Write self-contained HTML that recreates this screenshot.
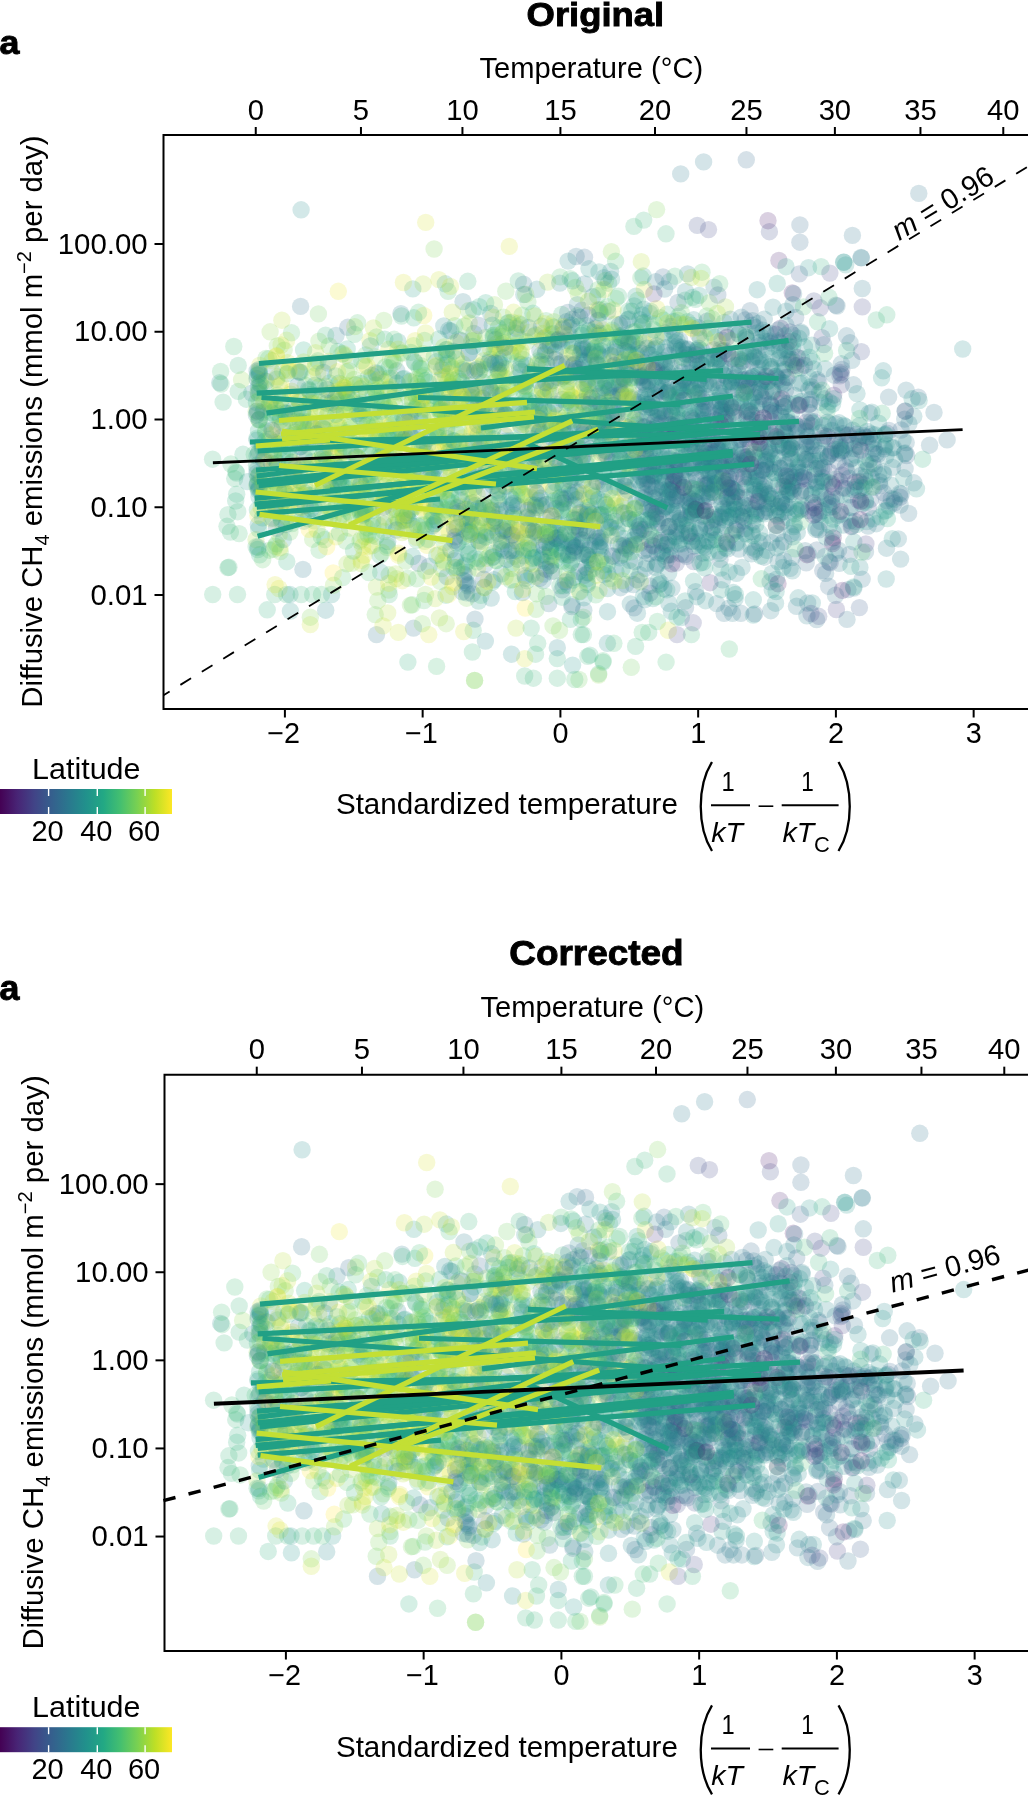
<!DOCTYPE html><html><head><meta charset="utf-8"><style>
html,body{margin:0;padding:0;background:#fff;width:1028px;height:1796px;overflow:hidden}
svg{display:block;will-change:transform} circle{r:8.7px} .k0{fill:#440154}.k1{fill:#450b5d}.k2{fill:#461567}.k3{fill:#471f70}.k4{fill:#472978}.k5{fill:#45327d}.k6{fill:#433b82}.k7{fill:#414487}.k8{fill:#3e4c89}.k9{fill:#3a538a}.k10{fill:#375b8c}.k11{fill:#33638d}.k12{fill:#306a8d}.k13{fill:#2d718e}.k14{fill:#2a788e}.k15{fill:#277f8d}.k16{fill:#25868d}.k17{fill:#228d8c}.k18{fill:#21948b}.k19{fill:#219b89}.k20{fill:#22a186}.k21{fill:#22a884}.k22{fill:#2caf7e}.k23{fill:#35b579}.k24{fill:#3fbc73}.k25{fill:#4cc26c}.k26{fill:#5bc763}.k27{fill:#6bcc5a}.k28{fill:#7ad151}.k29{fill:#8dd545}.k30{fill:#a0d938}.k31{fill:#b3dd2c}.k32{fill:#c6e026}.k33{fill:#d8e226}.k34{fill:#ebe525}.k35{fill:#fde725}
</style></head><body>
<svg width="1028" height="1796" viewBox="0 0 1028 1796" font-family="Liberation Sans, sans-serif">
<defs><linearGradient id="vir" x1="0" x2="1" y1="0" y2="0"><stop offset="0.0" stop-color="#440154"/><stop offset="0.1" stop-color="#482475"/><stop offset="0.2" stop-color="#414487"/><stop offset="0.3" stop-color="#355f8d"/><stop offset="0.4" stop-color="#2a788e"/><stop offset="0.5" stop-color="#21918c"/><stop offset="0.6" stop-color="#22a884"/><stop offset="0.7" stop-color="#44bf70"/><stop offset="0.8" stop-color="#7ad151"/><stop offset="0.9" stop-color="#bddf26"/><stop offset="1.0" stop-color="#fde725"/></linearGradient>
<clipPath id="pc"><rect x="163.5" y="135" width="866.5" height="574"/></clipPath>
<g id="sc" clip-path="url(#pc)" fill-opacity="0.2"><circle class="k32" cx="438.9" cy="279.6"/><circle class="k32" cx="550.4" cy="383.7"/><circle class="k23" cx="655.4" cy="516.8"/><circle class="k23" cx="312.6" cy="594.5"/><circle class="k16" cx="697.9" cy="373.8"/><circle class="k16" cx="775.3" cy="412.9"/><circle class="k18" cx="884.5" cy="511.2"/><circle class="k30" cx="399.3" cy="392.8"/><circle class="k22" cx="382.6" cy="494.7"/><circle class="k15" cx="718.5" cy="353.3"/><circle class="k19" cx="697.3" cy="441.5"/><circle class="k15" cx="281.4" cy="437.2"/><circle class="k13" cx="669.2" cy="355.4"/><circle class="k18" cx="604.0" cy="419.7"/><circle class="k27" cx="273.6" cy="549.3"/><circle class="k32" cx="411.3" cy="392.7"/><circle class="k18" cx="535.6" cy="334.9"/><circle class="k13" cx="688.1" cy="385.8"/><circle class="k21" cx="303.6" cy="350.0"/><circle class="k29" cx="505.1" cy="378.2"/><circle class="k29" cx="529.7" cy="442.4"/><circle class="k19" cx="484.3" cy="587.3"/><circle class="k15" cx="739.7" cy="497.7"/><circle class="k18" cx="579.4" cy="532.9"/><circle class="k16" cx="787.1" cy="422.2"/><circle class="k17" cx="742.3" cy="463.7"/><circle class="k23" cx="270.7" cy="479.7"/><circle class="k12" cx="800.9" cy="508.8"/><circle class="k21" cx="446.7" cy="499.8"/><circle class="k13" cx="647.9" cy="438.8"/><circle class="k19" cx="639.9" cy="319.6"/><circle class="k30" cx="338.5" cy="424.9"/><circle class="k28" cx="501.2" cy="367.4"/><circle class="k19" cx="378.2" cy="435.6"/><circle class="k13" cx="657.5" cy="506.9"/><circle class="k33" cx="376.2" cy="507.5"/><circle class="k13" cx="792.2" cy="485.8"/><circle class="k16" cx="798.3" cy="462.1"/><circle class="k14" cx="683.4" cy="395.4"/><circle class="k13" cx="805.2" cy="550.6"/><circle class="k15" cx="908.9" cy="423.7"/><circle class="k29" cx="565.4" cy="420.1"/><circle class="k15" cx="677.7" cy="461.6"/><circle class="k13" cx="725.0" cy="466.8"/><circle class="k22" cx="312.1" cy="461.6"/><circle class="k14" cx="595.5" cy="384.0"/><circle class="k15" cx="657.8" cy="468.7"/><circle class="k18" cx="685.7" cy="455.3"/><circle class="k34" cx="431.4" cy="516.3"/><circle class="k29" cx="513.8" cy="556.3"/><circle class="k23" cx="557.3" cy="678.2"/><circle class="k23" cx="555.1" cy="559.9"/><circle class="k13" cx="746.5" cy="339.7"/><circle class="k6" cx="805.4" cy="459.4"/><circle class="k26" cx="607.5" cy="564.1"/><circle class="k18" cx="753.3" cy="615.0"/><circle class="k16" cx="257.1" cy="456.1"/><circle class="k18" cx="505.8" cy="441.0"/><circle class="k16" cx="746.1" cy="534.0"/><circle class="k29" cx="578.2" cy="293.5"/><circle class="k15" cx="693.9" cy="390.7"/><circle class="k3" cx="778.9" cy="260.4"/><circle class="k11" cx="590.7" cy="360.7"/><circle class="k25" cx="706.8" cy="315.9"/><circle class="k22" cx="259.1" cy="373.2"/><circle class="k33" cx="500.6" cy="442.4"/><circle class="k12" cx="691.8" cy="541.4"/><circle class="k17" cx="661.0" cy="451.9"/><circle class="k14" cx="703.6" cy="161.9"/><circle class="k16" cx="755.7" cy="515.4"/><circle class="k13" cx="929.6" cy="445.2"/><circle class="k14" cx="663.2" cy="449.2"/><circle class="k24" cx="480.9" cy="595.4"/><circle class="k30" cx="398.5" cy="521.3"/><circle class="k33" cx="348.2" cy="396.6"/><circle class="k26" cx="521.8" cy="494.1"/><circle class="k16" cx="825.1" cy="368.8"/><circle class="k35" cx="458.0" cy="389.6"/><circle class="k23" cx="608.5" cy="283.2"/><circle class="k19" cx="572.1" cy="604.7"/><circle class="k27" cx="387.0" cy="547.4"/><circle class="k24" cx="458.7" cy="339.5"/><circle class="k17" cx="588.8" cy="572.8"/><circle class="k30" cx="527.6" cy="507.8"/><circle class="k8" cx="718.6" cy="359.3"/><circle class="k12" cx="600.2" cy="541.3"/><circle class="k14" cx="745.1" cy="528.6"/><circle class="k14" cx="432.9" cy="525.7"/><circle class="k11" cx="556.1" cy="458.8"/><circle class="k25" cx="496.1" cy="393.3"/><circle class="k13" cx="862.2" cy="579.1"/><circle class="k5" cx="706.2" cy="457.9"/><circle class="k30" cx="553.8" cy="321.7"/><circle class="k15" cx="640.0" cy="375.7"/><circle class="k18" cx="690.7" cy="506.8"/><circle class="k15" cx="829.0" cy="561.8"/><circle class="k24" cx="230.9" cy="464.0"/><circle class="k26" cx="527.9" cy="301.7"/><circle class="k33" cx="380.0" cy="433.0"/><circle class="k16" cx="884.4" cy="446.6"/><circle class="k8" cx="868.3" cy="507.7"/><circle class="k13" cx="934.0" cy="412.4"/><circle class="k16" cx="258.3" cy="488.6"/><circle class="k14" cx="630.1" cy="545.4"/><circle class="k11" cx="701.6" cy="470.8"/><circle class="k33" cx="414.4" cy="453.6"/><circle class="k22" cx="605.2" cy="381.3"/><circle class="k6" cx="830.2" cy="562.7"/><circle class="k15" cx="479.2" cy="541.5"/><circle class="k15" cx="647.8" cy="404.4"/><circle class="k22" cx="389.2" cy="462.3"/><circle class="k23" cx="328.8" cy="480.1"/><circle class="k15" cx="811.3" cy="425.7"/><circle class="k34" cx="500.2" cy="375.0"/><circle class="k15" cx="694.1" cy="546.1"/><circle class="k34" cx="449.8" cy="477.9"/><circle class="k14" cx="600.5" cy="537.8"/><circle class="k11" cx="355.7" cy="456.9"/><circle class="k23" cx="442.3" cy="376.9"/><circle class="k16" cx="852.0" cy="526.0"/><circle class="k25" cx="452.7" cy="502.9"/><circle class="k28" cx="266.1" cy="501.8"/><circle class="k19" cx="710.7" cy="481.0"/><circle class="k33" cx="523.7" cy="481.6"/><circle class="k18" cx="753.6" cy="376.7"/><circle class="k19" cx="814.3" cy="474.8"/><circle class="k29" cx="349.5" cy="427.4"/><circle class="k16" cx="675.0" cy="342.6"/><circle class="k17" cx="259.3" cy="474.6"/><circle class="k15" cx="669.7" cy="490.0"/><circle class="k17" cx="696.7" cy="360.7"/><circle class="k26" cx="495.4" cy="347.6"/><circle class="k15" cx="649.2" cy="452.8"/><circle class="k19" cx="506.6" cy="522.9"/><circle class="k24" cx="470.4" cy="503.6"/><circle class="k9" cx="784.7" cy="432.5"/><circle class="k15" cx="571.6" cy="495.5"/><circle class="k13" cx="598.8" cy="375.2"/><circle class="k12" cx="752.3" cy="429.7"/><circle class="k29" cx="505.6" cy="414.4"/><circle class="k29" cx="542.2" cy="434.6"/><circle class="k30" cx="565.2" cy="423.2"/><circle class="k14" cx="562.4" cy="399.4"/><circle class="k24" cx="682.0" cy="490.7"/><circle class="k19" cx="718.4" cy="462.7"/><circle class="k22" cx="446.0" cy="595.2"/><circle class="k16" cx="756.3" cy="436.5"/><circle class="k13" cx="823.7" cy="467.2"/><circle class="k25" cx="398.4" cy="492.7"/><circle class="k17" cx="787.3" cy="490.5"/><circle class="k16" cx="425.2" cy="453.1"/><circle class="k8" cx="693.7" cy="561.5"/><circle class="k17" cx="470.9" cy="534.1"/><circle class="k29" cx="265.4" cy="432.6"/><circle class="k21" cx="587.2" cy="456.2"/><circle class="k16" cx="466.9" cy="441.6"/><circle class="k20" cx="621.3" cy="459.2"/><circle class="k30" cx="611.4" cy="366.7"/><circle class="k18" cx="398.0" cy="341.6"/><circle class="k22" cx="821.1" cy="266.6"/><circle class="k19" cx="747.8" cy="388.1"/><circle class="k3" cx="855.4" cy="481.9"/><circle class="k19" cx="621.2" cy="378.1"/><circle class="k13" cx="413.5" cy="628.1"/><circle class="k23" cx="338.7" cy="451.5"/><circle class="k21" cx="490.4" cy="359.2"/><circle class="k11" cx="738.0" cy="372.3"/><circle class="k12" cx="738.1" cy="389.9"/><circle class="k32" cx="376.7" cy="374.2"/><circle class="k34" cx="533.6" cy="531.5"/><circle class="k17" cx="631.0" cy="354.5"/><circle class="k14" cx="728.9" cy="608.1"/><circle class="k24" cx="336.6" cy="504.4"/><circle class="k25" cx="329.4" cy="383.0"/><circle class="k12" cx="832.4" cy="541.6"/><circle class="k25" cx="395.5" cy="391.6"/><circle class="k31" cx="349.8" cy="438.6"/><circle class="k16" cx="815.8" cy="529.3"/><circle class="k16" cx="778.5" cy="399.2"/><circle class="k25" cx="519.5" cy="485.0"/><circle class="k17" cx="383.9" cy="523.9"/><circle class="k17" cx="679.3" cy="350.7"/><circle class="k17" cx="472.2" cy="389.0"/><circle class="k14" cx="839.2" cy="563.4"/><circle class="k24" cx="375.8" cy="494.5"/><circle class="k28" cx="469.4" cy="455.2"/><circle class="k13" cx="487.4" cy="532.3"/><circle class="k29" cx="348.6" cy="499.7"/><circle class="k33" cx="274.5" cy="464.0"/><circle class="k24" cx="360.5" cy="383.5"/><circle class="k26" cx="344.1" cy="464.8"/><circle class="k29" cx="551.6" cy="421.4"/><circle class="k21" cx="610.5" cy="387.2"/><circle class="k13" cx="788.0" cy="464.1"/><circle class="k19" cx="731.8" cy="381.5"/><circle class="k33" cx="391.1" cy="425.2"/><circle class="k23" cx="518.3" cy="280.9"/><circle class="k13" cx="816.0" cy="505.1"/><circle class="k19" cx="519.5" cy="410.3"/><circle class="k30" cx="325.5" cy="386.1"/><circle class="k15" cx="596.7" cy="364.7"/><circle class="k30" cx="472.3" cy="520.2"/><circle class="k15" cx="484.7" cy="564.7"/><circle class="k19" cx="665.4" cy="556.3"/><circle class="k13" cx="868.1" cy="526.1"/><circle class="k18" cx="628.2" cy="490.2"/><circle class="k14" cx="566.9" cy="363.6"/><circle class="k30" cx="429.2" cy="479.1"/><circle class="k18" cx="573.9" cy="353.1"/><circle class="k12" cx="718.0" cy="449.2"/><circle class="k27" cx="583.4" cy="617.2"/><circle class="k15" cx="892.5" cy="467.4"/><circle class="k33" cx="401.5" cy="472.4"/><circle class="k15" cx="690.7" cy="516.0"/><circle class="k13" cx="756.4" cy="442.7"/><circle class="k34" cx="482.8" cy="399.0"/><circle class="k19" cx="569.7" cy="564.4"/><circle class="k17" cx="702.9" cy="408.1"/><circle class="k21" cx="419.0" cy="394.2"/><circle class="k14" cx="612.3" cy="395.7"/><circle class="k28" cx="564.8" cy="421.9"/><circle class="k15" cx="615.2" cy="521.3"/><circle class="k19" cx="835.9" cy="479.0"/><circle class="k15" cx="850.3" cy="494.9"/><circle class="k24" cx="647.6" cy="415.7"/><circle class="k16" cx="656.3" cy="385.9"/><circle class="k23" cx="547.0" cy="504.4"/><circle class="k19" cx="672.3" cy="484.5"/><circle class="k24" cx="418.0" cy="383.6"/><circle class="k16" cx="644.8" cy="599.7"/><circle class="k26" cx="359.5" cy="489.6"/><circle class="k28" cx="419.7" cy="462.3"/><circle class="k2" cx="792.3" cy="292.9"/><circle class="k23" cx="596.4" cy="434.2"/><circle class="k15" cx="584.6" cy="283.9"/><circle class="k31" cx="396.8" cy="517.7"/><circle class="k29" cx="423.3" cy="491.1"/><circle class="k28" cx="420.5" cy="400.3"/><circle class="k28" cx="388.7" cy="590.1"/><circle class="k12" cx="720.0" cy="559.4"/><circle class="k25" cx="345.1" cy="505.8"/><circle class="k18" cx="715.9" cy="539.6"/><circle class="k30" cx="462.7" cy="363.9"/><circle class="k34" cx="552.0" cy="326.1"/><circle class="k12" cx="620.9" cy="394.2"/><circle class="k16" cx="544.9" cy="337.6"/><circle class="k6" cx="839.7" cy="481.1"/><circle class="k15" cx="429.1" cy="566.3"/><circle class="k13" cx="719.3" cy="442.1"/><circle class="k24" cx="625.6" cy="438.8"/><circle class="k26" cx="444.7" cy="411.7"/><circle class="k12" cx="820.4" cy="453.7"/><circle class="k23" cx="389.2" cy="594.5"/><circle class="k32" cx="309.8" cy="422.9"/><circle class="k33" cx="324.4" cy="464.0"/><circle class="k21" cx="412.5" cy="460.4"/><circle class="k27" cx="606.2" cy="504.8"/><circle class="k34" cx="484.8" cy="479.3"/><circle class="k13" cx="760.3" cy="422.6"/><circle class="k33" cx="333.2" cy="453.8"/><circle class="k31" cx="398.0" cy="488.3"/><circle class="k16" cx="577.3" cy="304.6"/><circle class="k29" cx="409.4" cy="422.1"/><circle class="k34" cx="416.3" cy="537.4"/><circle class="k23" cx="585.7" cy="554.8"/><circle class="k12" cx="645.5" cy="465.8"/><circle class="k6" cx="842.0" cy="475.0"/><circle class="k21" cx="290.4" cy="435.5"/><circle class="k14" cx="746.6" cy="418.4"/><circle class="k12" cx="705.4" cy="405.6"/><circle class="k25" cx="315.7" cy="363.1"/><circle class="k15" cx="541.5" cy="326.3"/><circle class="k23" cx="314.5" cy="520.9"/><circle class="k15" cx="616.3" cy="459.4"/><circle class="k26" cx="614.9" cy="324.2"/><circle class="k27" cx="627.5" cy="462.5"/><circle class="k21" cx="467.9" cy="572.1"/><circle class="k12" cx="701.4" cy="509.9"/><circle class="k7" cx="760.7" cy="391.3"/><circle class="k34" cx="462.5" cy="438.0"/><circle class="k15" cx="788.0" cy="377.4"/><circle class="k16" cx="695.9" cy="533.3"/><circle class="k20" cx="654.3" cy="475.3"/><circle class="k23" cx="618.5" cy="296.1"/><circle class="k23" cx="558.8" cy="551.2"/><circle class="k24" cx="445.9" cy="349.8"/><circle class="k23" cx="298.9" cy="400.7"/><circle class="k14" cx="850.0" cy="520.9"/><circle class="k24" cx="562.6" cy="509.8"/><circle class="k26" cx="424.4" cy="524.6"/><circle class="k35" cx="584.5" cy="390.2"/><circle class="k11" cx="662.6" cy="551.3"/><circle class="k15" cx="532.0" cy="504.8"/><circle class="k32" cx="264.8" cy="485.9"/><circle class="k23" cx="882.2" cy="413.3"/><circle class="k13" cx="807.6" cy="436.7"/><circle class="k30" cx="503.1" cy="332.4"/><circle class="k28" cx="525.4" cy="386.0"/><circle class="k18" cx="292.1" cy="462.4"/><circle class="k14" cx="512.9" cy="464.9"/><circle class="k17" cx="420.8" cy="421.7"/><circle class="k33" cx="419.4" cy="445.6"/><circle class="k14" cx="770.6" cy="404.9"/><circle class="k17" cx="751.7" cy="419.9"/><circle class="k21" cx="585.6" cy="444.8"/><circle class="k22" cx="604.7" cy="420.5"/><circle class="k15" cx="701.6" cy="452.7"/><circle class="k0" cx="781.9" cy="398.6"/><circle class="k18" cx="322.6" cy="458.8"/><circle class="k4" cx="748.8" cy="385.9"/><circle class="k28" cx="466.6" cy="598.2"/><circle class="k22" cx="267.2" cy="609.8"/><circle class="k29" cx="351.5" cy="395.9"/><circle class="k12" cx="516.5" cy="540.6"/><circle class="k16" cx="576.2" cy="477.2"/><circle class="k23" cx="512.3" cy="563.3"/><circle class="k8" cx="760.8" cy="448.9"/><circle class="k18" cx="712.8" cy="540.0"/><circle class="k30" cx="607.9" cy="337.0"/><circle class="k32" cx="410.6" cy="465.8"/><circle class="k16" cx="769.9" cy="495.7"/><circle class="k24" cx="776.2" cy="525.4"/><circle class="k23" cx="642.9" cy="381.5"/><circle class="k16" cx="808.3" cy="554.1"/><circle class="k24" cx="598.7" cy="515.6"/><circle class="k16" cx="839.0" cy="422.8"/><circle class="k25" cx="500.3" cy="393.6"/><circle class="k16" cx="735.8" cy="329.5"/><circle class="k34" cx="543.8" cy="474.7"/><circle class="k31" cx="376.9" cy="396.2"/><circle class="k15" cx="677.0" cy="346.1"/><circle class="k14" cx="678.2" cy="387.5"/><circle class="k15" cx="344.5" cy="390.5"/><circle class="k35" cx="589.5" cy="419.7"/><circle class="k15" cx="900.6" cy="559.1"/><circle class="k19" cx="681.9" cy="389.6"/><circle class="k23" cx="440.6" cy="409.0"/><circle class="k18" cx="878.8" cy="475.0"/><circle class="k33" cx="604.0" cy="289.5"/><circle class="k24" cx="434.0" cy="516.1"/><circle class="k23" cx="748.2" cy="508.8"/><circle class="k4" cx="770.6" cy="432.8"/><circle class="k13" cx="780.6" cy="412.5"/><circle class="k29" cx="524.0" cy="494.8"/><circle class="k35" cx="539.2" cy="463.7"/><circle class="k35" cx="643.7" cy="449.6"/><circle class="k30" cx="364.4" cy="366.1"/><circle class="k21" cx="633.2" cy="342.4"/><circle class="k21" cx="562.4" cy="561.2"/><circle class="k13" cx="766.4" cy="459.8"/><circle class="k18" cx="507.2" cy="531.4"/><circle class="k34" cx="398.4" cy="555.2"/><circle class="k16" cx="685.1" cy="358.4"/><circle class="k31" cx="600.3" cy="414.1"/><circle class="k31" cx="542.6" cy="526.7"/><circle class="k17" cx="770.1" cy="340.9"/><circle class="k20" cx="590.3" cy="506.6"/><circle class="k14" cx="738.1" cy="464.9"/><circle class="k6" cx="666.9" cy="544.5"/><circle class="k15" cx="737.3" cy="417.2"/><circle class="k15" cx="508.2" cy="474.4"/><circle class="k13" cx="520.6" cy="425.1"/><circle class="k30" cx="510.2" cy="454.6"/><circle class="k18" cx="756.5" cy="333.2"/><circle class="k32" cx="443.1" cy="450.7"/><circle class="k17" cx="357.2" cy="413.3"/><circle class="k15" cx="831.4" cy="450.9"/><circle class="k15" cx="745.7" cy="337.0"/><circle class="k18" cx="795.2" cy="513.7"/><circle class="k12" cx="587.3" cy="384.7"/><circle class="k13" cx="783.3" cy="402.6"/><circle class="k28" cx="575.5" cy="287.4"/><circle class="k18" cx="665.7" cy="394.5"/><circle class="k33" cx="415.2" cy="340.6"/><circle class="k17" cx="258.9" cy="369.8"/><circle class="k19" cx="652.9" cy="598.5"/><circle class="k15" cx="664.8" cy="374.2"/><circle class="k30" cx="389.9" cy="407.8"/><circle class="k14" cx="625.0" cy="501.2"/><circle class="k12" cx="828.6" cy="586.3"/><circle class="k18" cx="668.1" cy="393.6"/><circle class="k34" cx="446.7" cy="516.6"/><circle class="k15" cx="443.5" cy="365.6"/><circle class="k34" cx="625.2" cy="492.4"/><circle class="k19" cx="658.4" cy="580.7"/><circle class="k17" cx="744.8" cy="434.6"/><circle class="k29" cx="614.8" cy="505.7"/><circle class="k19" cx="817.4" cy="468.4"/><circle class="k23" cx="457.2" cy="543.4"/><circle class="k19" cx="653.9" cy="349.8"/><circle class="k16" cx="695.6" cy="451.5"/><circle class="k32" cx="550.2" cy="423.4"/><circle class="k16" cx="636.1" cy="501.8"/><circle class="k16" cx="706.9" cy="488.1"/><circle class="k19" cx="558.7" cy="537.4"/><circle class="k21" cx="270.5" cy="450.7"/><circle class="k19" cx="260.5" cy="384.3"/><circle class="k13" cx="665.6" cy="347.6"/><circle class="k17" cx="785.1" cy="480.4"/><circle class="k27" cx="539.4" cy="507.7"/><circle class="k4" cx="771.4" cy="421.1"/><circle class="k32" cx="541.4" cy="340.6"/><circle class="k11" cx="711.1" cy="453.6"/><circle class="k17" cx="647.3" cy="445.2"/><circle class="k12" cx="657.1" cy="563.6"/><circle class="k16" cx="762.3" cy="470.1"/><circle class="k22" cx="546.3" cy="421.4"/><circle class="k17" cx="581.8" cy="425.0"/><circle class="k18" cx="492.0" cy="523.3"/><circle class="k29" cx="603.6" cy="393.7"/><circle class="k26" cx="351.1" cy="411.9"/><circle class="k20" cx="739.5" cy="514.7"/><circle class="k29" cx="446.2" cy="623.7"/><circle class="k7" cx="767.9" cy="447.3"/><circle class="k23" cx="485.5" cy="422.3"/><circle class="k15" cx="434.8" cy="505.0"/><circle class="k32" cx="346.2" cy="385.2"/><circle class="k8" cx="656.2" cy="417.9"/><circle class="k31" cx="614.2" cy="356.3"/><circle class="k28" cx="625.2" cy="388.7"/><circle class="k30" cx="451.7" cy="405.4"/><circle class="k13" cx="662.8" cy="481.9"/><circle class="k20" cx="886.1" cy="444.6"/><circle class="k23" cx="499.2" cy="359.8"/><circle class="k16" cx="731.3" cy="495.5"/><circle class="k22" cx="734.1" cy="502.8"/><circle class="k11" cx="822.4" cy="477.5"/><circle class="k15" cx="282.3" cy="425.5"/><circle class="k25" cx="638.6" cy="337.2"/><circle class="k16" cx="446.7" cy="429.1"/><circle class="k17" cx="539.3" cy="545.1"/><circle class="k29" cx="447.2" cy="416.5"/><circle class="k19" cx="702.6" cy="466.7"/><circle class="k16" cx="473.9" cy="333.5"/><circle class="k15" cx="532.3" cy="518.0"/><circle class="k14" cx="548.2" cy="536.7"/><circle class="k8" cx="751.7" cy="361.1"/><circle class="k24" cx="824.6" cy="353.3"/><circle class="k31" cx="352.8" cy="492.4"/><circle class="k18" cx="643.3" cy="596.7"/><circle class="k16" cx="722.8" cy="514.2"/><circle class="k20" cx="510.3" cy="440.7"/><circle class="k18" cx="841.6" cy="514.2"/><circle class="k21" cx="628.9" cy="518.9"/><circle class="k16" cx="543.1" cy="580.7"/><circle class="k16" cx="864.4" cy="487.7"/><circle class="k24" cx="346.3" cy="488.6"/><circle class="k11" cx="661.1" cy="391.4"/><circle class="k32" cx="522.2" cy="473.0"/><circle class="k18" cx="513.3" cy="512.9"/><circle class="k17" cx="465.4" cy="582.0"/><circle class="k22" cx="667.2" cy="314.1"/><circle class="k16" cx="755.7" cy="392.5"/><circle class="k19" cx="718.1" cy="486.3"/><circle class="k24" cx="731.9" cy="534.6"/><circle class="k31" cx="535.8" cy="466.6"/><circle class="k14" cx="696.9" cy="502.6"/><circle class="k23" cx="533.4" cy="678.2"/><circle class="k8" cx="769.4" cy="231.7"/><circle class="k19" cx="800.9" cy="452.5"/><circle class="k27" cx="326.1" cy="444.3"/><circle class="k30" cx="438.0" cy="435.1"/><circle class="k30" cx="408.8" cy="472.3"/><circle class="k18" cx="572.5" cy="280.8"/><circle class="k13" cx="633.8" cy="435.2"/><circle class="k16" cx="502.8" cy="412.2"/><circle class="k14" cx="736.8" cy="496.7"/><circle class="k18" cx="445.3" cy="283.8"/><circle class="k15" cx="720.8" cy="517.6"/><circle class="k16" cx="627.5" cy="319.8"/><circle class="k16" cx="804.5" cy="347.0"/><circle class="k26" cx="359.4" cy="413.6"/><circle class="k19" cx="775.7" cy="438.9"/><circle class="k19" cx="801.3" cy="509.9"/><circle class="k11" cx="663.0" cy="277.0"/><circle class="k8" cx="829.0" cy="471.6"/><circle class="k24" cx="392.7" cy="360.0"/><circle class="k13" cx="865.5" cy="551.9"/><circle class="k12" cx="678.6" cy="481.5"/><circle class="k9" cx="842.7" cy="433.6"/><circle class="k16" cx="615.9" cy="571.6"/><circle class="k17" cx="778.7" cy="379.7"/><circle class="k12" cx="347.8" cy="327.3"/><circle class="k18" cx="767.5" cy="381.2"/><circle class="k18" cx="306.7" cy="440.0"/><circle class="k27" cx="467.7" cy="408.1"/><circle class="k19" cx="773.6" cy="463.5"/><circle class="k11" cx="714.5" cy="451.6"/><circle class="k12" cx="530.3" cy="372.8"/><circle class="k31" cx="486.9" cy="558.3"/><circle class="k14" cx="595.6" cy="328.0"/><circle class="k16" cx="843.1" cy="525.0"/><circle class="k12" cx="612.0" cy="555.7"/><circle class="k15" cx="876.3" cy="523.7"/><circle class="k28" cx="440.2" cy="581.3"/><circle class="k17" cx="467.5" cy="524.4"/><circle class="k31" cx="520.9" cy="479.9"/><circle class="k31" cx="516.8" cy="481.9"/><circle class="k24" cx="642.2" cy="632.4"/><circle class="k20" cx="667.3" cy="471.8"/><circle class="k15" cx="660.6" cy="583.5"/><circle class="k13" cx="846.5" cy="335.8"/><circle class="k24" cx="605.6" cy="529.7"/><circle class="k31" cx="469.4" cy="370.7"/><circle class="k32" cx="503.9" cy="485.6"/><circle class="k16" cx="555.2" cy="434.0"/><circle class="k15" cx="780.1" cy="468.1"/><circle class="k12" cx="759.9" cy="345.8"/><circle class="k17" cx="602.8" cy="556.9"/><circle class="k16" cx="788.2" cy="403.5"/><circle class="k21" cx="680.1" cy="520.1"/><circle class="k20" cx="656.8" cy="366.6"/><circle class="k12" cx="599.3" cy="310.0"/><circle class="k33" cx="468.5" cy="495.7"/><circle class="k12" cx="701.9" cy="398.4"/><circle class="k24" cx="511.5" cy="568.4"/><circle class="k18" cx="681.4" cy="372.3"/><circle class="k11" cx="889.0" cy="430.5"/><circle class="k16" cx="782.5" cy="385.2"/><circle class="k13" cx="778.7" cy="341.0"/><circle class="k33" cx="428.8" cy="634.6"/><circle class="k33" cx="406.5" cy="441.3"/><circle class="k22" cx="459.1" cy="484.8"/><circle class="k23" cx="528.5" cy="524.3"/><circle class="k21" cx="338.1" cy="351.5"/><circle class="k23" cx="671.3" cy="365.5"/><circle class="k16" cx="776.1" cy="432.2"/><circle class="k18" cx="739.3" cy="358.6"/><circle class="k23" cx="237.7" cy="511.7"/><circle class="k15" cx="746.6" cy="434.4"/><circle class="k19" cx="577.2" cy="447.8"/><circle class="k22" cx="557.7" cy="426.4"/><circle class="k11" cx="733.0" cy="388.6"/><circle class="k29" cx="538.4" cy="529.9"/><circle class="k23" cx="581.3" cy="634.6"/><circle class="k15" cx="258.1" cy="547.2"/><circle class="k19" cx="658.1" cy="418.0"/><circle class="k28" cx="407.7" cy="512.4"/><circle class="k18" cx="878.6" cy="423.2"/><circle class="k15" cx="851.9" cy="507.7"/><circle class="k19" cx="594.6" cy="519.2"/><circle class="k24" cx="419.1" cy="368.0"/><circle class="k11" cx="680.0" cy="497.7"/><circle class="k23" cx="498.5" cy="514.0"/><circle class="k14" cx="792.1" cy="557.5"/><circle class="k15" cx="692.7" cy="469.0"/><circle class="k28" cx="560.8" cy="447.3"/><circle class="k18" cx="558.5" cy="524.5"/><circle class="k18" cx="788.5" cy="507.3"/><circle class="k11" cx="784.2" cy="511.3"/><circle class="k17" cx="745.6" cy="497.8"/><circle class="k31" cx="516.0" cy="628.1"/><circle class="k14" cx="636.9" cy="424.5"/><circle class="k15" cx="751.4" cy="553.9"/><circle class="k14" cx="756.3" cy="478.5"/><circle class="k14" cx="597.6" cy="396.4"/><circle class="k23" cx="562.7" cy="487.6"/><circle class="k21" cx="561.8" cy="346.2"/><circle class="k33" cx="279.0" cy="588.5"/><circle class="k24" cx="295.0" cy="432.1"/><circle class="k18" cx="466.9" cy="516.8"/><circle class="k24" cx="733.0" cy="533.3"/><circle class="k24" cx="531.7" cy="412.5"/><circle class="k27" cx="465.0" cy="508.9"/><circle class="k15" cx="871.2" cy="477.4"/><circle class="k13" cx="524.9" cy="575.6"/><circle class="k15" cx="519.9" cy="405.2"/><circle class="k14" cx="906.1" cy="390.1"/><circle class="k22" cx="286.3" cy="413.5"/><circle class="k15" cx="784.8" cy="369.5"/><circle class="k30" cx="263.1" cy="500.6"/><circle class="k10" cx="768.4" cy="493.6"/><circle class="k16" cx="607.7" cy="573.5"/><circle class="k15" cx="661.1" cy="423.2"/><circle class="k16" cx="748.6" cy="423.9"/><circle class="k21" cx="619.4" cy="434.6"/><circle class="k19" cx="735.4" cy="594.5"/><circle class="k17" cx="840.6" cy="447.2"/><circle class="k13" cx="517.5" cy="530.5"/><circle class="k5" cx="683.9" cy="379.3"/><circle class="k29" cx="502.7" cy="336.5"/><circle class="k29" cx="473.0" cy="340.6"/><circle class="k16" cx="854.3" cy="448.5"/><circle class="k18" cx="501.4" cy="573.8"/><circle class="k27" cx="454.9" cy="415.2"/><circle class="k29" cx="677.7" cy="320.4"/><circle class="k15" cx="677.0" cy="511.3"/><circle class="k12" cx="678.0" cy="302.5"/><circle class="k33" cx="329.0" cy="361.1"/><circle class="k24" cx="282.8" cy="501.8"/><circle class="k13" cx="721.5" cy="465.7"/><circle class="k16" cx="867.3" cy="431.5"/><circle class="k23" cx="633.9" cy="226.4"/><circle class="k34" cx="489.1" cy="418.8"/><circle class="k14" cx="703.9" cy="461.9"/><circle class="k15" cx="651.5" cy="474.7"/><circle class="k27" cx="350.9" cy="428.6"/><circle class="k6" cx="675.3" cy="476.1"/><circle class="k5" cx="830.7" cy="453.4"/><circle class="k32" cx="476.9" cy="431.2"/><circle class="k21" cx="551.0" cy="534.8"/><circle class="k34" cx="466.8" cy="520.0"/><circle class="k19" cx="446.5" cy="354.6"/><circle class="k23" cx="498.7" cy="503.5"/><circle class="k12" cx="687.5" cy="501.2"/><circle class="k13" cx="704.3" cy="456.6"/><circle class="k15" cx="744.0" cy="478.3"/><circle class="k25" cx="351.5" cy="477.8"/><circle class="k14" cx="321.5" cy="423.3"/><circle class="k18" cx="566.2" cy="402.3"/><circle class="k16" cx="659.2" cy="390.2"/><circle class="k13" cx="680.0" cy="518.4"/><circle class="k18" cx="434.6" cy="523.7"/><circle class="k29" cx="571.6" cy="397.2"/><circle class="k18" cx="650.1" cy="509.5"/><circle class="k22" cx="300.4" cy="469.3"/><circle class="k23" cx="230.4" cy="532.1"/><circle class="k26" cx="379.1" cy="443.2"/><circle class="k13" cx="548.8" cy="603.5"/><circle class="k17" cx="467.1" cy="414.3"/><circle class="k11" cx="707.1" cy="321.1"/><circle class="k29" cx="438.4" cy="431.7"/><circle class="k23" cx="237.5" cy="594.5"/><circle class="k16" cx="853.9" cy="489.8"/><circle class="k18" cx="719.6" cy="553.3"/><circle class="k12" cx="771.3" cy="542.4"/><circle class="k22" cx="669.6" cy="413.2"/><circle class="k14" cx="575.0" cy="371.7"/><circle class="k30" cx="493.8" cy="444.3"/><circle class="k17" cx="775.5" cy="603.2"/><circle class="k14" cx="634.4" cy="544.7"/><circle class="k19" cx="721.1" cy="589.7"/><circle class="k24" cx="657.4" cy="621.5"/><circle class="k23" cx="886.8" cy="314.8"/><circle class="k11" cx="691.9" cy="445.0"/><circle class="k15" cx="638.5" cy="348.7"/><circle class="k16" cx="277.3" cy="413.2"/><circle class="k16" cx="587.9" cy="510.7"/><circle class="k18" cx="792.5" cy="347.3"/><circle class="k14" cx="748.8" cy="477.4"/><circle class="k25" cx="496.1" cy="560.5"/><circle class="k15" cx="581.4" cy="539.8"/><circle class="k13" cx="809.6" cy="404.1"/><circle class="k14" cx="827.9" cy="456.8"/><circle class="k13" cx="683.2" cy="487.5"/><circle class="k19" cx="610.5" cy="522.9"/><circle class="k13" cx="708.5" cy="483.3"/><circle class="k30" cx="469.5" cy="519.1"/><circle class="k24" cx="509.8" cy="390.8"/><circle class="k15" cx="812.8" cy="454.7"/><circle class="k13" cx="777.4" cy="516.0"/><circle class="k23" cx="648.7" cy="632.4"/><circle class="k17" cx="829.2" cy="423.6"/><circle class="k14" cx="825.6" cy="573.4"/><circle class="k30" cx="421.6" cy="530.1"/><circle class="k12" cx="730.4" cy="405.4"/><circle class="k14" cx="583.8" cy="610.2"/><circle class="k15" cx="583.3" cy="456.1"/><circle class="k17" cx="575.3" cy="530.1"/><circle class="k5" cx="827.6" cy="436.5"/><circle class="k11" cx="295.4" cy="468.6"/><circle class="k30" cx="547.6" cy="282.1"/><circle class="k14" cx="751.3" cy="504.6"/><circle class="k30" cx="506.9" cy="539.8"/><circle class="k16" cx="536.8" cy="289.3"/><circle class="k17" cx="594.4" cy="430.8"/><circle class="k15" cx="604.8" cy="428.0"/><circle class="k28" cx="309.6" cy="412.0"/><circle class="k31" cx="424.4" cy="510.9"/><circle class="k30" cx="563.1" cy="376.1"/><circle class="k24" cx="311.2" cy="439.4"/><circle class="k16" cx="833.2" cy="506.6"/><circle class="k17" cx="820.3" cy="402.2"/><circle class="k12" cx="583.5" cy="349.3"/><circle class="k17" cx="709.2" cy="472.8"/><circle class="k13" cx="666.7" cy="435.9"/><circle class="k15" cx="687.6" cy="273.9"/><circle class="k35" cx="425.1" cy="505.1"/><circle class="k14" cx="720.5" cy="450.2"/><circle class="k19" cx="791.0" cy="447.4"/><circle class="k19" cx="823.1" cy="481.8"/><circle class="k24" cx="795.2" cy="548.9"/><circle class="k34" cx="551.7" cy="557.0"/><circle class="k31" cx="423.1" cy="283.9"/><circle class="k30" cx="505.2" cy="576.8"/><circle class="k24" cx="603.1" cy="660.8"/><circle class="k16" cx="545.1" cy="354.2"/><circle class="k29" cx="422.7" cy="409.2"/><circle class="k12" cx="481.8" cy="449.0"/><circle class="k25" cx="482.7" cy="364.7"/><circle class="k33" cx="497.6" cy="395.0"/><circle class="k18" cx="788.3" cy="517.7"/><circle class="k15" cx="720.6" cy="409.7"/><circle class="k17" cx="472.8" cy="479.6"/><circle class="k16" cx="788.7" cy="448.9"/><circle class="k17" cx="781.5" cy="499.0"/><circle class="k27" cx="312.8" cy="376.7"/><circle class="k34" cx="427.1" cy="545.4"/><circle class="k23" cx="684.9" cy="300.2"/><circle class="k23" cx="479.0" cy="454.4"/><circle class="k33" cx="458.3" cy="506.1"/><circle class="k31" cx="496.8" cy="496.3"/><circle class="k14" cx="773.6" cy="411.5"/><circle class="k27" cx="400.9" cy="352.9"/><circle class="k14" cx="667.3" cy="392.0"/><circle class="k13" cx="672.4" cy="414.9"/><circle class="k17" cx="542.8" cy="388.7"/><circle class="k30" cx="372.4" cy="545.7"/><circle class="k6" cx="668.9" cy="526.8"/><circle class="k28" cx="256.8" cy="485.5"/><circle class="k25" cx="307.5" cy="457.2"/><circle class="k12" cx="770.0" cy="468.7"/><circle class="k15" cx="716.4" cy="427.8"/><circle class="k30" cx="624.5" cy="394.6"/><circle class="k19" cx="724.2" cy="322.4"/><circle class="k18" cx="371.9" cy="375.4"/><circle class="k33" cx="500.5" cy="350.7"/><circle class="k12" cx="845.6" cy="445.4"/><circle class="k9" cx="681.3" cy="533.4"/><circle class="k18" cx="873.1" cy="452.9"/><circle class="k27" cx="464.5" cy="325.9"/><circle class="k19" cx="581.5" cy="335.2"/><circle class="k19" cx="553.1" cy="544.0"/><circle class="k6" cx="721.0" cy="415.8"/><circle class="k21" cx="259.0" cy="371.5"/><circle class="k23" cx="412.2" cy="472.3"/><circle class="k18" cx="905.1" cy="411.0"/><circle class="k11" cx="779.2" cy="342.6"/><circle class="k1" cx="859.2" cy="481.7"/><circle class="k19" cx="461.7" cy="500.6"/><circle class="k16" cx="266.1" cy="381.3"/><circle class="k34" cx="448.3" cy="594.6"/><circle class="k25" cx="621.2" cy="337.5"/><circle class="k14" cx="335.6" cy="479.1"/><circle class="k22" cx="687.4" cy="321.7"/><circle class="k34" cx="328.6" cy="411.1"/><circle class="k4" cx="797.4" cy="357.5"/><circle class="k27" cx="415.1" cy="467.2"/><circle class="k18" cx="550.4" cy="345.3"/><circle class="k24" cx="600.4" cy="312.8"/><circle class="k16" cx="617.7" cy="533.9"/><circle class="k13" cx="879.9" cy="485.5"/><circle class="k31" cx="391.8" cy="378.3"/><circle class="k23" cx="563.0" cy="554.5"/><circle class="k33" cx="512.8" cy="351.3"/><circle class="k27" cx="502.0" cy="343.6"/><circle class="k30" cx="360.6" cy="513.2"/><circle class="k11" cx="709.2" cy="496.9"/><circle class="k34" cx="388.8" cy="583.2"/><circle class="k30" cx="491.6" cy="474.9"/><circle class="k18" cx="736.7" cy="402.7"/><circle class="k13" cx="304.5" cy="457.6"/><circle class="k24" cx="233.8" cy="346.5"/><circle class="k19" cx="633.8" cy="361.0"/><circle class="k27" cx="342.7" cy="514.1"/><circle class="k19" cx="669.8" cy="458.9"/><circle class="k27" cx="570.4" cy="406.1"/><circle class="k17" cx="678.2" cy="400.5"/><circle class="k34" cx="445.3" cy="487.6"/><circle class="k29" cx="525.7" cy="294.3"/><circle class="k26" cx="332.0" cy="479.9"/><circle class="k33" cx="343.7" cy="520.4"/><circle class="k13" cx="812.0" cy="441.4"/><circle class="k13" cx="578.8" cy="571.7"/><circle class="k30" cx="622.9" cy="395.5"/><circle class="k24" cx="342.4" cy="503.4"/><circle class="k15" cx="573.1" cy="422.8"/><circle class="k30" cx="550.7" cy="334.5"/><circle class="k33" cx="490.3" cy="348.2"/><circle class="k24" cx="221.0" cy="384.0"/><circle class="k14" cx="573.9" cy="518.7"/><circle class="k13" cx="619.4" cy="324.8"/><circle class="k25" cx="577.3" cy="315.6"/><circle class="k1" cx="833.2" cy="537.9"/><circle class="k12" cx="583.1" cy="539.9"/><circle class="k30" cx="428.2" cy="410.0"/><circle class="k12" cx="545.6" cy="473.6"/><circle class="k28" cx="428.1" cy="475.9"/><circle class="k14" cx="781.4" cy="522.1"/><circle class="k22" cx="571.3" cy="420.3"/><circle class="k22" cx="550.4" cy="550.0"/><circle class="k28" cx="468.5" cy="310.8"/><circle class="k19" cx="751.6" cy="402.1"/><circle class="k34" cx="533.5" cy="563.8"/><circle class="k15" cx="643.9" cy="322.5"/><circle class="k16" cx="663.0" cy="459.1"/><circle class="k17" cx="805.9" cy="431.1"/><circle class="k24" cx="365.5" cy="511.7"/><circle class="k14" cx="820.1" cy="521.4"/><circle class="k21" cx="553.6" cy="344.6"/><circle class="k13" cx="770.1" cy="581.8"/><circle class="k33" cx="524.7" cy="658.6"/><circle class="k21" cx="264.9" cy="441.3"/><circle class="k16" cx="786.2" cy="349.7"/><circle class="k18" cx="500.5" cy="412.6"/><circle class="k19" cx="659.0" cy="584.8"/><circle class="k19" cx="759.2" cy="434.8"/><circle class="k15" cx="771.5" cy="343.0"/><circle class="k34" cx="431.2" cy="577.1"/><circle class="k15" cx="782.7" cy="431.0"/><circle class="k17" cx="269.2" cy="404.9"/><circle class="k16" cx="637.5" cy="454.0"/><circle class="k24" cx="590.4" cy="413.0"/><circle class="k28" cx="318.9" cy="341.1"/><circle class="k21" cx="540.5" cy="534.3"/><circle class="k15" cx="519.6" cy="369.2"/><circle class="k19" cx="602.5" cy="344.7"/><circle class="k17" cx="818.2" cy="512.5"/><circle class="k13" cx="850.2" cy="507.2"/><circle class="k26" cx="269.6" cy="550.2"/><circle class="k15" cx="787.7" cy="349.5"/><circle class="k14" cx="800.9" cy="367.8"/><circle class="k14" cx="506.9" cy="559.3"/><circle class="k13" cx="691.7" cy="514.7"/><circle class="k16" cx="666.4" cy="489.4"/><circle class="k15" cx="791.6" cy="458.4"/><circle class="k16" cx="774.9" cy="456.6"/><circle class="k12" cx="746.4" cy="460.3"/><circle class="k28" cx="348.9" cy="370.7"/><circle class="k22" cx="258.7" cy="529.1"/><circle class="k11" cx="906.7" cy="455.5"/><circle class="k28" cx="422.3" cy="623.7"/><circle class="k15" cx="575.2" cy="410.9"/><circle class="k30" cx="501.4" cy="371.4"/><circle class="k24" cx="436.0" cy="506.4"/><circle class="k3" cx="746.9" cy="411.4"/><circle class="k28" cx="315.1" cy="493.5"/><circle class="k16" cx="671.2" cy="410.5"/><circle class="k33" cx="354.3" cy="384.7"/><circle class="k30" cx="377.7" cy="439.8"/><circle class="k17" cx="652.2" cy="415.7"/><circle class="k33" cx="595.2" cy="329.1"/><circle class="k18" cx="560.6" cy="470.9"/><circle class="k31" cx="546.8" cy="337.0"/><circle class="k26" cx="309.5" cy="390.7"/><circle class="k13" cx="874.3" cy="468.0"/><circle class="k16" cx="789.3" cy="441.4"/><circle class="k31" cx="487.1" cy="531.3"/><circle class="k31" cx="403.3" cy="440.0"/><circle class="k21" cx="532.0" cy="574.2"/><circle class="k34" cx="375.2" cy="503.6"/><circle class="k13" cx="638.3" cy="402.3"/><circle class="k22" cx="294.3" cy="475.9"/><circle class="k35" cx="558.2" cy="415.5"/><circle class="k2" cx="768.0" cy="220.7"/><circle class="k14" cx="505.7" cy="529.3"/><circle class="k17" cx="695.4" cy="486.0"/><circle class="k12" cx="501.4" cy="543.7"/><circle class="k30" cx="260.0" cy="381.8"/><circle class="k15" cx="473.2" cy="394.9"/><circle class="k19" cx="660.0" cy="474.1"/><circle class="k32" cx="533.7" cy="537.4"/><circle class="k12" cx="588.4" cy="512.4"/><circle class="k4" cx="656.5" cy="369.9"/><circle class="k13" cx="771.3" cy="406.1"/><circle class="k24" cx="348.5" cy="482.0"/><circle class="k33" cx="493.0" cy="317.1"/><circle class="k5" cx="773.0" cy="391.8"/><circle class="k17" cx="759.5" cy="532.8"/><circle class="k19" cx="754.5" cy="454.5"/><circle class="k11" cx="638.9" cy="365.0"/><circle class="k16" cx="583.6" cy="361.5"/><circle class="k19" cx="582.8" cy="360.4"/><circle class="k27" cx="361.1" cy="539.2"/><circle class="k21" cx="532.9" cy="313.3"/><circle class="k14" cx="657.8" cy="424.7"/><circle class="k31" cx="599.0" cy="590.3"/><circle class="k13" cx="588.0" cy="379.4"/><circle class="k15" cx="764.3" cy="319.1"/><circle class="k21" cx="613.6" cy="416.4"/><circle class="k24" cx="579.0" cy="326.2"/><circle class="k25" cx="372.7" cy="526.4"/><circle class="k30" cx="354.7" cy="326.6"/><circle class="k19" cx="623.9" cy="538.5"/><circle class="k14" cx="759.2" cy="342.8"/><circle class="k27" cx="556.2" cy="528.9"/><circle class="k30" cx="422.5" cy="399.5"/><circle class="k30" cx="414.7" cy="506.6"/><circle class="k34" cx="364.1" cy="524.9"/><circle class="k12" cx="756.4" cy="513.7"/><circle class="k23" cx="274.7" cy="414.8"/><circle class="k18" cx="540.8" cy="558.9"/><circle class="k27" cx="536.6" cy="593.7"/><circle class="k17" cx="894.7" cy="459.3"/><circle class="k16" cx="485.4" cy="641.1"/><circle class="k11" cx="682.5" cy="361.8"/><circle class="k31" cx="477.5" cy="568.2"/><circle class="k16" cx="805.4" cy="490.5"/><circle class="k8" cx="814.2" cy="421.8"/><circle class="k33" cx="644.3" cy="289.4"/><circle class="k16" cx="604.3" cy="489.5"/><circle class="k19" cx="701.8" cy="350.6"/><circle class="k11" cx="620.5" cy="391.9"/><circle class="k13" cx="581.5" cy="374.3"/><circle class="k14" cx="759.5" cy="460.0"/><circle class="k31" cx="441.8" cy="413.7"/><circle class="k22" cx="437.7" cy="465.7"/><circle class="k17" cx="771.3" cy="346.7"/><circle class="k19" cx="772.6" cy="390.1"/><circle class="k14" cx="628.8" cy="518.5"/><circle class="k15" cx="751.7" cy="378.0"/><circle class="k29" cx="315.3" cy="496.2"/><circle class="k16" cx="785.9" cy="311.2"/><circle class="k15" cx="696.8" cy="387.6"/><circle class="k26" cx="441.6" cy="568.6"/><circle class="k25" cx="282.9" cy="408.8"/><circle class="k17" cx="871.9" cy="412.1"/><circle class="k33" cx="370.0" cy="431.6"/><circle class="k17" cx="771.0" cy="454.0"/><circle class="k18" cx="732.2" cy="465.9"/><circle class="k13" cx="670.7" cy="554.7"/><circle class="k15" cx="553.7" cy="519.7"/><circle class="k18" cx="433.5" cy="470.4"/><circle class="k18" cx="725.5" cy="456.6"/><circle class="k27" cx="601.5" cy="453.3"/><circle class="k11" cx="724.2" cy="385.9"/><circle class="k13" cx="671.1" cy="546.6"/><circle class="k16" cx="707.0" cy="356.6"/><circle class="k18" cx="676.2" cy="432.0"/><circle class="k13" cx="641.8" cy="486.9"/><circle class="k12" cx="648.0" cy="367.7"/><circle class="k25" cx="719.7" cy="283.6"/><circle class="k15" cx="883.5" cy="474.2"/><circle class="k30" cx="308.4" cy="421.8"/><circle class="k15" cx="774.2" cy="472.7"/><circle class="k29" cx="567.8" cy="400.3"/><circle class="k13" cx="709.5" cy="449.0"/><circle class="k35" cx="319.6" cy="459.9"/><circle class="k32" cx="448.6" cy="445.7"/><circle class="k15" cx="645.6" cy="395.2"/><circle class="k32" cx="398.3" cy="632.4"/><circle class="k32" cx="589.7" cy="498.4"/><circle class="k25" cx="800.2" cy="522.0"/><circle class="k22" cx="352.0" cy="480.0"/><circle class="k17" cx="780.5" cy="545.1"/><circle class="k17" cx="543.9" cy="407.7"/><circle class="k17" cx="886.2" cy="579.0"/><circle class="k15" cx="272.9" cy="518.0"/><circle class="k17" cx="866.6" cy="521.6"/><circle class="k17" cx="475.1" cy="456.5"/><circle class="k18" cx="859.9" cy="409.9"/><circle class="k24" cx="605.7" cy="345.9"/><circle class="k17" cx="564.1" cy="431.4"/><circle class="k28" cx="312.7" cy="539.2"/><circle class="k15" cx="400.2" cy="460.9"/><circle class="k2" cx="696.3" cy="354.6"/><circle class="k6" cx="742.3" cy="361.0"/><circle class="k15" cx="837.4" cy="435.4"/><circle class="k17" cx="797.9" cy="426.7"/><circle class="k21" cx="331.8" cy="510.9"/><circle class="k15" cx="855.0" cy="521.4"/><circle class="k15" cx="680.8" cy="553.8"/><circle class="k20" cx="710.8" cy="332.3"/><circle class="k22" cx="339.0" cy="383.1"/><circle class="k18" cx="736.3" cy="513.9"/><circle class="k21" cx="291.1" cy="480.5"/><circle class="k12" cx="567.7" cy="312.5"/><circle class="k14" cx="752.8" cy="522.0"/><circle class="k18" cx="538.0" cy="477.1"/><circle class="k32" cx="498.2" cy="373.5"/><circle class="k25" cx="516.6" cy="496.0"/><circle class="k17" cx="525.1" cy="419.9"/><circle class="k17" cx="620.3" cy="340.2"/><circle class="k14" cx="561.2" cy="542.4"/><circle class="k7" cx="846.7" cy="470.9"/><circle class="k5" cx="722.4" cy="467.6"/><circle class="k32" cx="288.5" cy="369.8"/><circle class="k18" cx="652.0" cy="504.5"/><circle class="k16" cx="736.3" cy="509.3"/><circle class="k16" cx="469.5" cy="481.1"/><circle class="k13" cx="711.0" cy="421.6"/><circle class="k22" cx="522.7" cy="359.2"/><circle class="k19" cx="640.4" cy="543.1"/><circle class="k27" cx="526.5" cy="341.8"/><circle class="k18" cx="677.8" cy="407.4"/><circle class="k24" cx="556.8" cy="433.7"/><circle class="k12" cx="627.6" cy="374.8"/><circle class="k13" cx="493.1" cy="556.8"/><circle class="k15" cx="609.0" cy="387.6"/><circle class="k16" cx="784.5" cy="406.5"/><circle class="k33" cx="388.9" cy="349.2"/><circle class="k17" cx="776.4" cy="376.2"/><circle class="k23" cx="368.3" cy="377.6"/><circle class="k24" cx="637.5" cy="300.3"/><circle class="k31" cx="394.0" cy="397.1"/><circle class="k17" cx="757.8" cy="475.8"/><circle class="k16" cx="654.3" cy="498.8"/><circle class="k31" cx="512.5" cy="322.2"/><circle class="k25" cx="372.9" cy="510.0"/><circle class="k17" cx="691.6" cy="488.2"/><circle class="k22" cx="583.4" cy="527.9"/><circle class="k31" cx="344.1" cy="387.6"/><circle class="k7" cx="862.3" cy="306.9"/><circle class="k15" cx="608.8" cy="390.4"/><circle class="k29" cx="413.5" cy="345.7"/><circle class="k15" cx="691.5" cy="428.4"/><circle class="k22" cx="570.4" cy="619.4"/><circle class="k12" cx="666.9" cy="392.8"/><circle class="k22" cx="557.3" cy="658.6"/><circle class="k24" cx="354.4" cy="334.3"/><circle class="k27" cx="261.8" cy="490.6"/><circle class="k11" cx="649.7" cy="585.9"/><circle class="k16" cx="703.2" cy="493.2"/><circle class="k32" cx="612.8" cy="432.4"/><circle class="k28" cx="344.2" cy="410.9"/><circle class="k16" cx="801.5" cy="358.6"/><circle class="k17" cx="765.8" cy="332.6"/><circle class="k22" cx="371.0" cy="466.5"/><circle class="k16" cx="331.4" cy="402.6"/><circle class="k14" cx="718.5" cy="413.4"/><circle class="k15" cx="727.5" cy="548.9"/><circle class="k35" cx="277.8" cy="444.2"/><circle class="k13" cx="906.2" cy="442.6"/><circle class="k24" cx="437.2" cy="393.3"/><circle class="k15" cx="513.4" cy="514.9"/><circle class="k18" cx="461.4" cy="399.1"/><circle class="k23" cx="227.9" cy="567.6"/><circle class="k27" cx="379.9" cy="453.9"/><circle class="k11" cx="685.5" cy="607.8"/><circle class="k25" cx="702.0" cy="272.2"/><circle class="k16" cx="689.4" cy="364.6"/><circle class="k10" cx="801.4" cy="476.9"/><circle class="k18" cx="678.6" cy="420.0"/><circle class="k31" cx="435.2" cy="598.6"/><circle class="k21" cx="437.8" cy="436.9"/><circle class="k6" cx="726.1" cy="480.7"/><circle class="k23" cx="381.0" cy="400.4"/><circle class="k16" cx="387.7" cy="541.5"/><circle class="k19" cx="731.2" cy="381.4"/><circle class="k13" cx="795.8" cy="362.2"/><circle class="k29" cx="494.5" cy="304.7"/><circle class="k32" cx="390.6" cy="492.8"/><circle class="k19" cx="811.8" cy="345.1"/><circle class="k12" cx="724.6" cy="489.4"/><circle class="k16" cx="722.9" cy="505.8"/><circle class="k30" cx="417.7" cy="484.2"/><circle class="k32" cx="310.3" cy="624.6"/><circle class="k13" cx="755.0" cy="489.7"/><circle class="k23" cx="539.7" cy="431.2"/><circle class="k22" cx="256.9" cy="438.3"/><circle class="k16" cx="640.8" cy="445.3"/><circle class="k11" cx="642.4" cy="478.1"/><circle class="k12" cx="276.0" cy="506.7"/><circle class="k23" cx="668.6" cy="526.5"/><circle class="k12" cx="670.8" cy="326.4"/><circle class="k15" cx="396.8" cy="370.8"/><circle class="k22" cx="526.4" cy="389.6"/><circle class="k16" cx="484.3" cy="443.1"/><circle class="k18" cx="816.1" cy="527.7"/><circle class="k30" cx="409.9" cy="509.5"/><circle class="k19" cx="682.1" cy="524.3"/><circle class="k27" cx="595.6" cy="348.0"/><circle class="k17" cx="733.6" cy="460.2"/><circle class="k24" cx="574.6" cy="464.5"/><circle class="k31" cx="467.5" cy="445.0"/><circle class="k26" cx="388.3" cy="453.3"/><circle class="k34" cx="589.9" cy="394.3"/><circle class="k14" cx="861.4" cy="257.9"/><circle class="k15" cx="763.5" cy="398.9"/><circle class="k23" cx="456.4" cy="432.4"/><circle class="k15" cx="257.5" cy="483.4"/><circle class="k11" cx="464.1" cy="574.5"/><circle class="k14" cx="679.0" cy="423.0"/><circle class="k15" cx="539.6" cy="454.2"/><circle class="k17" cx="638.0" cy="404.2"/><circle class="k24" cx="337.4" cy="401.6"/><circle class="k32" cx="264.1" cy="380.7"/><circle class="k32" cx="580.0" cy="389.1"/><circle class="k11" cx="568.7" cy="555.2"/><circle class="k17" cx="702.8" cy="510.2"/><circle class="k27" cx="322.8" cy="505.5"/><circle class="k15" cx="777.8" cy="485.3"/><circle class="k23" cx="246.4" cy="399.2"/><circle class="k33" cx="570.2" cy="376.6"/><circle class="k15" cx="590.1" cy="559.8"/><circle class="k9" cx="696.7" cy="479.7"/><circle class="k8" cx="717.2" cy="380.0"/><circle class="k16" cx="564.2" cy="376.6"/><circle class="k23" cx="827.0" cy="411.2"/><circle class="k15" cx="876.1" cy="453.7"/><circle class="k25" cx="319.1" cy="550.2"/><circle class="k15" cx="721.6" cy="533.0"/><circle class="k18" cx="604.8" cy="436.0"/><circle class="k19" cx="575.2" cy="474.8"/><circle class="k15" cx="607.7" cy="311.4"/><circle class="k15" cx="533.5" cy="430.3"/><circle class="k16" cx="487.1" cy="433.3"/><circle class="k22" cx="648.2" cy="520.0"/><circle class="k34" cx="416.4" cy="500.0"/><circle class="k11" cx="604.4" cy="453.9"/><circle class="k11" cx="838.0" cy="461.4"/><circle class="k21" cx="357.8" cy="456.9"/><circle class="k11" cx="676.5" cy="470.8"/><circle class="k15" cx="572.6" cy="545.1"/><circle class="k16" cx="517.4" cy="505.6"/><circle class="k17" cx="731.1" cy="488.0"/><circle class="k14" cx="479.2" cy="479.3"/><circle class="k29" cx="351.7" cy="563.4"/><circle class="k24" cx="594.1" cy="332.3"/><circle class="k16" cx="676.5" cy="449.1"/><circle class="k26" cx="496.3" cy="560.3"/><circle class="k22" cx="262.4" cy="517.8"/><circle class="k12" cx="584.5" cy="257.3"/><circle class="k23" cx="439.5" cy="411.0"/><circle class="k23" cx="419.1" cy="448.9"/><circle class="k19" cx="697.6" cy="369.3"/><circle class="k15" cx="704.6" cy="485.6"/><circle class="k12" cx="730.2" cy="455.4"/><circle class="k27" cx="582.3" cy="485.1"/><circle class="k33" cx="501.7" cy="418.8"/><circle class="k3" cx="734.1" cy="411.9"/><circle class="k12" cx="859.1" cy="437.1"/><circle class="k15" cx="640.5" cy="377.2"/><circle class="k13" cx="307.1" cy="442.6"/><circle class="k27" cx="422.6" cy="417.8"/><circle class="k24" cx="556.7" cy="424.8"/><circle class="k21" cx="553.8" cy="500.8"/><circle class="k18" cx="634.2" cy="509.2"/><circle class="k15" cx="764.6" cy="470.5"/><circle class="k30" cx="725.5" cy="306.9"/><circle class="k14" cx="779.2" cy="445.1"/><circle class="k18" cx="740.4" cy="402.6"/><circle class="k34" cx="353.1" cy="507.7"/><circle class="k15" cx="725.3" cy="418.4"/><circle class="k19" cx="595.5" cy="416.7"/><circle class="k14" cx="600.8" cy="514.1"/><circle class="k14" cx="569.5" cy="491.3"/><circle class="k12" cx="636.7" cy="579.7"/><circle class="k13" cx="577.6" cy="446.2"/><circle class="k32" cx="442.0" cy="535.3"/><circle class="k18" cx="780.0" cy="439.5"/><circle class="k11" cx="725.1" cy="411.9"/><circle class="k17" cx="743.5" cy="363.2"/><circle class="k22" cx="236.7" cy="494.2"/><circle class="k25" cx="634.4" cy="445.2"/><circle class="k27" cx="567.4" cy="452.8"/><circle class="k18" cx="744.7" cy="533.2"/><circle class="k25" cx="393.0" cy="417.1"/><circle class="k14" cx="663.3" cy="508.9"/><circle class="k22" cx="491.7" cy="391.8"/><circle class="k17" cx="608.1" cy="507.0"/><circle class="k15" cx="806.9" cy="615.8"/><circle class="k16" cx="251.8" cy="393.1"/><circle class="k33" cx="357.5" cy="494.4"/><circle class="k16" cx="464.7" cy="565.6"/><circle class="k15" cx="455.2" cy="560.7"/><circle class="k14" cx="257.1" cy="469.6"/><circle class="k30" cx="533.2" cy="411.7"/><circle class="k31" cx="373.3" cy="408.5"/><circle class="k19" cx="811.1" cy="386.6"/><circle class="k35" cx="587.5" cy="424.6"/><circle class="k17" cx="773.0" cy="498.7"/><circle class="k22" cx="491.6" cy="424.4"/><circle class="k22" cx="783.6" cy="430.6"/><circle class="k14" cx="765.8" cy="341.3"/><circle class="k16" cx="730.2" cy="447.5"/><circle class="k13" cx="720.6" cy="496.5"/><circle class="k16" cx="257.1" cy="440.2"/><circle class="k13" cx="724.1" cy="613.3"/><circle class="k23" cx="608.1" cy="425.3"/><circle class="k25" cx="480.0" cy="508.4"/><circle class="k21" cx="607.3" cy="430.6"/><circle class="k15" cx="741.3" cy="507.3"/><circle class="k15" cx="675.4" cy="460.4"/><circle class="k5" cx="851.3" cy="526.6"/><circle class="k15" cx="771.4" cy="498.6"/><circle class="k19" cx="751.2" cy="547.1"/><circle class="k32" cx="567.2" cy="356.7"/><circle class="k33" cx="343.5" cy="353.7"/><circle class="k32" cx="581.1" cy="389.7"/><circle class="k8" cx="699.2" cy="398.8"/><circle class="k19" cx="580.3" cy="353.6"/><circle class="k14" cx="680.7" cy="173.9"/><circle class="k11" cx="831.5" cy="502.2"/><circle class="k29" cx="350.1" cy="426.0"/><circle class="k7" cx="708.5" cy="229.6"/><circle class="k6" cx="692.0" cy="418.6"/><circle class="k19" cx="381.5" cy="460.0"/><circle class="k16" cx="643.0" cy="443.8"/><circle class="k13" cx="646.6" cy="404.3"/><circle class="k16" cx="786.0" cy="325.3"/><circle class="k19" cx="829.6" cy="525.0"/><circle class="k11" cx="816.5" cy="482.2"/><circle class="k15" cx="478.2" cy="540.3"/><circle class="k16" cx="610.6" cy="271.5"/><circle class="k14" cx="834.3" cy="375.2"/><circle class="k21" cx="288.9" cy="454.3"/><circle class="k19" cx="733.9" cy="416.1"/><circle class="k25" cx="568.0" cy="554.7"/><circle class="k34" cx="545.7" cy="394.6"/><circle class="k16" cx="801.3" cy="333.5"/><circle class="k19" cx="646.5" cy="563.4"/><circle class="k5" cx="831.8" cy="483.9"/><circle class="k14" cx="698.4" cy="392.9"/><circle class="k22" cx="413.2" cy="526.3"/><circle class="k16" cx="325.7" cy="610.2"/><circle class="k24" cx="628.3" cy="311.3"/><circle class="k23" cx="549.8" cy="547.2"/><circle class="k16" cx="635.1" cy="483.3"/><circle class="k15" cx="408.3" cy="519.6"/><circle class="k16" cx="713.8" cy="459.9"/><circle class="k28" cx="559.3" cy="475.3"/><circle class="k15" cx="893.5" cy="447.7"/><circle class="k16" cx="599.0" cy="354.5"/><circle class="k29" cx="382.1" cy="552.5"/><circle class="k27" cx="681.3" cy="312.8"/><circle class="k29" cx="331.3" cy="392.9"/><circle class="k16" cx="793.1" cy="491.5"/><circle class="k31" cx="554.2" cy="460.5"/><circle class="k11" cx="676.1" cy="531.5"/><circle class="k24" cx="712.0" cy="318.6"/><circle class="k25" cx="453.6" cy="419.9"/><circle class="k27" cx="585.3" cy="474.8"/><circle class="k32" cx="364.1" cy="555.0"/><circle class="k31" cx="491.1" cy="480.8"/><circle class="k17" cx="678.8" cy="544.0"/><circle class="k34" cx="429.1" cy="463.5"/><circle class="k32" cx="452.6" cy="586.6"/><circle class="k17" cx="598.0" cy="538.1"/><circle class="k32" cx="456.8" cy="567.4"/><circle class="k23" cx="661.9" cy="437.3"/><circle class="k26" cx="598.0" cy="289.6"/><circle class="k15" cx="871.3" cy="433.9"/><circle class="k14" cx="869.3" cy="413.1"/><circle class="k14" cx="800.4" cy="404.3"/><circle class="k28" cx="342.8" cy="451.9"/><circle class="k15" cx="645.1" cy="494.0"/><circle class="k19" cx="550.4" cy="565.9"/><circle class="k27" cx="444.3" cy="542.7"/><circle class="k22" cx="570.5" cy="494.3"/><circle class="k18" cx="711.1" cy="429.4"/><circle class="k18" cx="663.2" cy="360.4"/><circle class="k19" cx="583.8" cy="362.2"/><circle class="k16" cx="861.9" cy="503.8"/><circle class="k18" cx="865.5" cy="501.0"/><circle class="k12" cx="472.3" cy="593.9"/><circle class="k13" cx="850.0" cy="342.8"/><circle class="k14" cx="300.2" cy="421.6"/><circle class="k29" cx="421.6" cy="377.0"/><circle class="k32" cx="483.9" cy="360.6"/><circle class="k21" cx="568.0" cy="381.9"/><circle class="k29" cx="611.4" cy="251.6"/><circle class="k23" cx="431.1" cy="436.6"/><circle class="k22" cx="286.3" cy="413.3"/><circle class="k22" cx="257.4" cy="375.2"/><circle class="k18" cx="803.5" cy="471.8"/><circle class="k15" cx="463.1" cy="369.6"/><circle class="k19" cx="563.3" cy="585.8"/><circle class="k17" cx="726.4" cy="472.5"/><circle class="k13" cx="660.1" cy="362.1"/><circle class="k7" cx="657.4" cy="522.8"/><circle class="k12" cx="590.7" cy="448.6"/><circle class="k19" cx="731.9" cy="488.9"/><circle class="k19" cx="519.2" cy="470.3"/><circle class="k21" cx="340.9" cy="473.2"/><circle class="k18" cx="403.4" cy="520.3"/><circle class="k13" cx="639.8" cy="447.4"/><circle class="k27" cx="471.4" cy="458.6"/><circle class="k19" cx="714.9" cy="517.2"/><circle class="k19" cx="571.1" cy="403.1"/><circle class="k24" cx="516.9" cy="378.0"/><circle class="k25" cx="538.3" cy="500.5"/><circle class="k4" cx="865.9" cy="437.3"/><circle class="k13" cx="684.9" cy="469.4"/><circle class="k22" cx="548.2" cy="411.6"/><circle class="k30" cx="295.2" cy="517.7"/><circle class="k28" cx="343.8" cy="491.5"/><circle class="k15" cx="560.6" cy="497.2"/><circle class="k18" cx="796.1" cy="509.2"/><circle class="k12" cx="735.4" cy="529.3"/><circle class="k25" cx="693.6" cy="396.7"/><circle class="k17" cx="459.3" cy="511.5"/><circle class="k8" cx="840.0" cy="375.9"/><circle class="k23" cx="817.6" cy="321.8"/><circle class="k32" cx="513.7" cy="312.3"/><circle class="k14" cx="447.0" cy="576.6"/><circle class="k19" cx="604.7" cy="476.5"/><circle class="k13" cx="740.8" cy="613.3"/><circle class="k33" cx="362.7" cy="546.6"/><circle class="k29" cx="579.8" cy="456.3"/><circle class="k11" cx="582.5" cy="401.6"/><circle class="k34" cx="279.9" cy="547.9"/><circle class="k35" cx="525.3" cy="608.0"/><circle class="k18" cx="705.6" cy="463.0"/><circle class="k23" cx="228.9" cy="567.2"/><circle class="k9" cx="722.7" cy="477.3"/><circle class="k24" cx="324.9" cy="539.5"/><circle class="k21" cx="258.3" cy="490.3"/><circle class="k33" cx="513.0" cy="579.5"/><circle class="k29" cx="456.7" cy="410.7"/><circle class="k15" cx="546.7" cy="518.2"/><circle class="k29" cx="360.0" cy="541.1"/><circle class="k25" cx="625.9" cy="412.1"/><circle class="k13" cx="647.8" cy="508.2"/><circle class="k32" cx="413.8" cy="500.3"/><circle class="k15" cx="588.7" cy="550.0"/><circle class="k28" cx="559.5" cy="630.3"/><circle class="k19" cx="540.2" cy="431.4"/><circle class="k17" cx="430.1" cy="471.2"/><circle class="k24" cx="525.8" cy="381.7"/><circle class="k33" cx="618.0" cy="417.9"/><circle class="k19" cx="787.6" cy="488.0"/><circle class="k26" cx="622.4" cy="469.2"/><circle class="k17" cx="468.9" cy="353.1"/><circle class="k31" cx="373.5" cy="328.0"/><circle class="k12" cx="572.1" cy="319.3"/><circle class="k29" cx="535.2" cy="528.2"/><circle class="k16" cx="619.6" cy="444.8"/><circle class="k28" cx="582.6" cy="413.7"/><circle class="k14" cx="623.1" cy="449.9"/><circle class="k17" cx="346.2" cy="392.9"/><circle class="k15" cx="801.8" cy="382.9"/><circle class="k13" cx="569.0" cy="334.9"/><circle class="k16" cx="610.9" cy="527.3"/><circle class="k24" cx="431.7" cy="403.2"/><circle class="k18" cx="692.8" cy="435.6"/><circle class="k27" cx="258.9" cy="419.8"/><circle class="k26" cx="631.4" cy="425.1"/><circle class="k25" cx="477.1" cy="561.9"/><circle class="k13" cx="479.4" cy="449.1"/><circle class="k22" cx="257.4" cy="509.9"/><circle class="k15" cx="630.8" cy="457.4"/><circle class="k15" cx="669.6" cy="526.1"/><circle class="k18" cx="535.5" cy="455.9"/><circle class="k27" cx="503.4" cy="317.2"/><circle class="k5" cx="710.0" cy="582.7"/><circle class="k12" cx="781.2" cy="416.1"/><circle class="k26" cx="443.9" cy="512.5"/><circle class="k32" cx="403.7" cy="484.9"/><circle class="k20" cx="820.5" cy="496.4"/><circle class="k16" cx="668.7" cy="573.1"/><circle class="k19" cx="639.6" cy="420.9"/><circle class="k21" cx="335.9" cy="376.0"/><circle class="k13" cx="662.4" cy="411.3"/><circle class="k19" cx="829.2" cy="515.3"/><circle class="k25" cx="588.0" cy="507.3"/><circle class="k16" cx="587.5" cy="347.5"/><circle class="k17" cx="680.4" cy="390.9"/><circle class="k33" cx="296.3" cy="370.4"/><circle class="k15" cx="732.5" cy="613.3"/><circle class="k26" cx="305.4" cy="385.3"/><circle class="k18" cx="716.1" cy="400.6"/><circle class="k29" cx="362.3" cy="492.8"/><circle class="k13" cx="807.7" cy="603.0"/><circle class="k12" cx="743.7" cy="521.0"/><circle class="k29" cx="443.1" cy="491.0"/><circle class="k22" cx="236.5" cy="473.0"/><circle class="k27" cx="289.9" cy="532.0"/><circle class="k5" cx="793.5" cy="365.0"/><circle class="k15" cx="590.5" cy="545.4"/><circle class="k31" cx="317.0" cy="529.8"/><circle class="k23" cx="363.1" cy="512.8"/><circle class="k15" cx="605.1" cy="521.3"/><circle class="k13" cx="466.1" cy="370.9"/><circle class="k14" cx="650.3" cy="475.2"/><circle class="k31" cx="315.2" cy="367.3"/><circle class="k11" cx="703.7" cy="411.0"/><circle class="k13" cx="551.0" cy="426.5"/><circle class="k19" cx="695.8" cy="501.5"/><circle class="k13" cx="788.2" cy="429.9"/><circle class="k29" cx="256.1" cy="411.5"/><circle class="k12" cx="654.1" cy="461.3"/><circle class="k17" cx="798.2" cy="597.8"/><circle class="k19" cx="409.5" cy="381.3"/><circle class="k21" cx="303.1" cy="516.3"/><circle class="k24" cx="277.4" cy="395.3"/><circle class="k27" cx="304.0" cy="421.4"/><circle class="k15" cx="756.7" cy="407.2"/><circle class="k24" cx="510.7" cy="580.0"/><circle class="k18" cx="403.9" cy="378.5"/><circle class="k13" cx="545.7" cy="350.7"/><circle class="k21" cx="631.8" cy="344.7"/><circle class="k12" cx="803.2" cy="476.0"/><circle class="k12" cx="673.9" cy="475.8"/><circle class="k8" cx="800.1" cy="480.4"/><circle class="k15" cx="666.3" cy="363.1"/><circle class="k23" cx="587.8" cy="656.4"/><circle class="k15" cx="535.6" cy="507.4"/><circle class="k22" cx="317.9" cy="360.8"/><circle class="k14" cx="738.9" cy="549.1"/><circle class="k16" cx="754.6" cy="397.1"/><circle class="k25" cx="592.6" cy="568.9"/><circle class="k17" cx="453.9" cy="451.7"/><circle class="k15" cx="742.8" cy="454.3"/><circle class="k19" cx="560.0" cy="445.6"/><circle class="k25" cx="420.9" cy="365.7"/><circle class="k18" cx="767.3" cy="434.6"/><circle class="k30" cx="505.4" cy="369.0"/><circle class="k8" cx="697.3" cy="225.4"/><circle class="k26" cx="444.2" cy="462.0"/><circle class="k13" cx="665.7" cy="480.0"/><circle class="k15" cx="498.2" cy="370.0"/><circle class="k12" cx="783.8" cy="541.9"/><circle class="k34" cx="345.2" cy="355.8"/><circle class="k6" cx="640.7" cy="529.2"/><circle class="k20" cx="809.2" cy="357.2"/><circle class="k13" cx="488.7" cy="362.4"/><circle class="k16" cx="299.8" cy="372.1"/><circle class="k16" cx="700.0" cy="528.2"/><circle class="k31" cx="380.7" cy="471.3"/><circle class="k14" cx="698.0" cy="456.9"/><circle class="k30" cx="256.0" cy="539.6"/><circle class="k22" cx="677.0" cy="617.2"/><circle class="k34" cx="335.5" cy="453.7"/><circle class="k13" cx="783.4" cy="428.5"/><circle class="k34" cx="381.8" cy="502.7"/><circle class="k24" cx="795.5" cy="368.8"/><circle class="k18" cx="601.1" cy="350.9"/><circle class="k23" cx="475.0" cy="558.2"/><circle class="k15" cx="469.4" cy="352.9"/><circle class="k24" cx="620.4" cy="458.7"/><circle class="k31" cx="451.1" cy="386.7"/><circle class="k24" cx="410.8" cy="352.4"/><circle class="k12" cx="850.3" cy="459.1"/><circle class="k34" cx="378.8" cy="465.3"/><circle class="k25" cx="593.2" cy="495.3"/><circle class="k22" cx="407.9" cy="662.1"/><circle class="k19" cx="737.9" cy="432.7"/><circle class="k30" cx="615.7" cy="503.0"/><circle class="k12" cx="562.1" cy="589.8"/><circle class="k11" cx="418.8" cy="563.4"/><circle class="k16" cx="704.3" cy="448.4"/><circle class="k16" cx="755.4" cy="549.1"/><circle class="k30" cx="611.2" cy="535.4"/><circle class="k30" cx="450.5" cy="385.3"/><circle class="k17" cx="777.8" cy="457.9"/><circle class="k28" cx="481.3" cy="541.3"/><circle class="k16" cx="767.1" cy="550.3"/><circle class="k11" cx="886.8" cy="500.7"/><circle class="k18" cx="655.4" cy="428.6"/><circle class="k20" cx="417.5" cy="526.0"/><circle class="k32" cx="286.6" cy="340.3"/><circle class="k2" cx="736.4" cy="491.9"/><circle class="k32" cx="425.6" cy="333.0"/><circle class="k27" cx="605.5" cy="280.4"/><circle class="k29" cx="384.9" cy="381.7"/><circle class="k19" cx="726.0" cy="402.1"/><circle class="k17" cx="387.1" cy="460.2"/><circle class="k25" cx="338.5" cy="520.4"/><circle class="k16" cx="717.6" cy="482.2"/><circle class="k15" cx="647.8" cy="549.2"/><circle class="k26" cx="448.7" cy="402.4"/><circle class="k15" cx="558.2" cy="364.1"/><circle class="k18" cx="672.7" cy="511.9"/><circle class="k30" cx="404.7" cy="516.6"/><circle class="k17" cx="584.4" cy="354.8"/><circle class="k13" cx="582.7" cy="346.0"/><circle class="k15" cx="463.0" cy="301.6"/><circle class="k19" cx="433.1" cy="478.0"/><circle class="k12" cx="704.6" cy="483.7"/><circle class="k33" cx="516.0" cy="345.6"/><circle class="k26" cx="625.2" cy="479.3"/><circle class="k15" cx="765.9" cy="390.8"/><circle class="k34" cx="551.1" cy="485.5"/><circle class="k24" cx="716.2" cy="366.1"/><circle class="k35" cx="271.3" cy="435.0"/><circle class="k25" cx="452.6" cy="368.6"/><circle class="k29" cx="507.0" cy="471.2"/><circle class="k28" cx="435.6" cy="436.6"/><circle class="k21" cx="258.5" cy="430.8"/><circle class="k11" cx="697.0" cy="350.6"/><circle class="k31" cx="549.3" cy="357.3"/><circle class="k11" cx="620.4" cy="555.9"/><circle class="k7" cx="858.3" cy="500.1"/><circle class="k17" cx="519.9" cy="456.3"/><circle class="k27" cx="518.7" cy="337.5"/><circle class="k35" cx="491.5" cy="510.9"/><circle class="k19" cx="778.6" cy="445.0"/><circle class="k24" cx="434.3" cy="523.9"/><circle class="k18" cx="478.2" cy="434.7"/><circle class="k25" cx="384.9" cy="486.5"/><circle class="k30" cx="269.9" cy="503.2"/><circle class="k14" cx="702.8" cy="516.2"/><circle class="k14" cx="824.4" cy="398.8"/><circle class="k17" cx="326.9" cy="403.0"/><circle class="k16" cx="587.4" cy="584.6"/><circle class="k12" cx="715.2" cy="475.7"/><circle class="k23" cx="332.8" cy="473.3"/><circle class="k33" cx="691.7" cy="327.9"/><circle class="k22" cx="619.7" cy="336.0"/><circle class="k29" cx="493.8" cy="382.6"/><circle class="k13" cx="559.6" cy="540.1"/><circle class="k19" cx="703.0" cy="562.4"/><circle class="k35" cx="398.9" cy="484.1"/><circle class="k31" cx="517.9" cy="542.1"/><circle class="k30" cx="335.5" cy="438.9"/><circle class="k27" cx="635.7" cy="331.4"/><circle class="k19" cx="612.4" cy="405.0"/><circle class="k27" cx="405.6" cy="561.1"/><circle class="k3" cx="751.6" cy="414.2"/><circle class="k15" cx="849.1" cy="478.1"/><circle class="k33" cx="443.7" cy="562.1"/><circle class="k12" cx="457.4" cy="507.6"/><circle class="k15" cx="662.6" cy="490.2"/><circle class="k14" cx="716.8" cy="464.8"/><circle class="k35" cx="439.9" cy="379.9"/><circle class="k24" cx="570.2" cy="278.6"/><circle class="k19" cx="692.2" cy="541.1"/><circle class="k15" cx="800.8" cy="332.0"/><circle class="k25" cx="640.9" cy="277.9"/><circle class="k35" cx="333.2" cy="572.9"/><circle class="k28" cx="562.8" cy="418.4"/><circle class="k30" cx="285.4" cy="490.0"/><circle class="k14" cx="690.0" cy="416.7"/><circle class="k19" cx="553.9" cy="327.1"/><circle class="k12" cx="683.3" cy="383.1"/><circle class="k18" cx="745.2" cy="487.8"/><circle class="k18" cx="750.9" cy="515.5"/><circle class="k17" cx="419.7" cy="416.2"/><circle class="k16" cx="676.4" cy="394.5"/><circle class="k32" cx="402.8" cy="516.0"/><circle class="k17" cx="661.5" cy="524.3"/><circle class="k18" cx="653.9" cy="476.8"/><circle class="k13" cx="732.6" cy="497.5"/><circle class="k16" cx="773.0" cy="307.2"/><circle class="k27" cx="275.8" cy="482.8"/><circle class="k27" cx="474.7" cy="464.2"/><circle class="k17" cx="715.0" cy="459.2"/><circle class="k13" cx="790.3" cy="476.1"/><circle class="k18" cx="815.4" cy="487.2"/><circle class="k19" cx="679.5" cy="391.5"/><circle class="k16" cx="833.3" cy="532.2"/><circle class="k16" cx="270.1" cy="404.2"/><circle class="k21" cx="428.0" cy="539.4"/><circle class="k17" cx="643.9" cy="309.1"/><circle class="k17" cx="727.1" cy="450.7"/><circle class="k22" cx="515.2" cy="450.1"/><circle class="k17" cx="689.1" cy="426.0"/><circle class="k20" cx="515.9" cy="333.2"/><circle class="k4" cx="750.4" cy="446.5"/><circle class="k18" cx="666.4" cy="470.5"/><circle class="k16" cx="698.3" cy="327.7"/><circle class="k33" cx="522.6" cy="547.7"/><circle class="k16" cx="865.7" cy="461.6"/><circle class="k22" cx="286.8" cy="561.7"/><circle class="k23" cx="678.8" cy="316.1"/><circle class="k19" cx="689.8" cy="444.5"/><circle class="k15" cx="284.5" cy="412.8"/><circle class="k15" cx="650.2" cy="485.9"/><circle class="k24" cx="463.3" cy="453.3"/><circle class="k19" cx="594.3" cy="473.4"/><circle class="k27" cx="377.3" cy="424.2"/><circle class="k23" cx="502.1" cy="528.7"/><circle class="k30" cx="469.1" cy="323.0"/><circle class="k13" cx="698.6" cy="381.3"/><circle class="k18" cx="696.0" cy="476.1"/><circle class="k25" cx="268.6" cy="358.8"/><circle class="k32" cx="491.7" cy="407.4"/><circle class="k13" cx="841.3" cy="374.3"/><circle class="k31" cx="510.2" cy="483.4"/><circle class="k19" cx="604.3" cy="501.9"/><circle class="k19" cx="584.7" cy="404.1"/><circle class="k25" cx="554.0" cy="570.8"/><circle class="k18" cx="521.1" cy="371.5"/><circle class="k17" cx="708.3" cy="472.4"/><circle class="k19" cx="714.0" cy="534.8"/><circle class="k13" cx="747.1" cy="415.8"/><circle class="k13" cx="905.1" cy="453.0"/><circle class="k14" cx="620.5" cy="587.7"/><circle class="k16" cx="635.6" cy="522.4"/><circle class="k30" cx="717.3" cy="313.5"/><circle class="k15" cx="451.9" cy="462.8"/><circle class="k27" cx="475.5" cy="413.8"/><circle class="k28" cx="654.1" cy="323.6"/><circle class="k22" cx="436.7" cy="555.4"/><circle class="k32" cx="528.2" cy="529.0"/><circle class="k27" cx="412.5" cy="401.5"/><circle class="k17" cx="667.1" cy="438.9"/><circle class="k15" cx="838.6" cy="550.1"/><circle class="k23" cx="876.3" cy="320.0"/><circle class="k16" cx="688.4" cy="377.1"/><circle class="k12" cx="794.3" cy="477.4"/><circle class="k15" cx="792.9" cy="304.6"/><circle class="k16" cx="653.4" cy="475.9"/><circle class="k17" cx="872.8" cy="518.8"/><circle class="k24" cx="389.1" cy="367.7"/><circle class="k18" cx="694.9" cy="408.2"/><circle class="k18" cx="528.9" cy="563.3"/><circle class="k16" cx="711.6" cy="467.9"/><circle class="k22" cx="332.3" cy="494.4"/><circle class="k17" cx="552.6" cy="438.0"/><circle class="k14" cx="701.5" cy="464.2"/><circle class="k14" cx="576.6" cy="450.4"/><circle class="k20" cx="786.0" cy="266.7"/><circle class="k23" cx="587.6" cy="582.7"/><circle class="k31" cx="552.1" cy="471.9"/><circle class="k12" cx="815.2" cy="468.6"/><circle class="k25" cx="606.2" cy="333.1"/><circle class="k20" cx="635.5" cy="462.6"/><circle class="k19" cx="516.0" cy="550.7"/><circle class="k20" cx="704.8" cy="456.7"/><circle class="k2" cx="788.8" cy="341.8"/><circle class="k19" cx="303.9" cy="521.2"/><circle class="k30" cx="422.9" cy="353.7"/><circle class="k16" cx="742.0" cy="567.4"/><circle class="k18" cx="655.9" cy="359.6"/><circle class="k30" cx="478.2" cy="397.8"/><circle class="k17" cx="537.1" cy="424.4"/><circle class="k23" cx="605.3" cy="473.4"/><circle class="k30" cx="279.2" cy="534.4"/><circle class="k33" cx="598.6" cy="456.5"/><circle class="k23" cx="586.1" cy="463.4"/><circle class="k29" cx="425.5" cy="594.4"/><circle class="k17" cx="673.3" cy="433.8"/><circle class="k31" cx="413.9" cy="529.0"/><circle class="k14" cx="753.8" cy="467.9"/><circle class="k12" cx="496.8" cy="412.8"/><circle class="k13" cx="873.0" cy="463.7"/><circle class="k27" cx="425.7" cy="570.9"/><circle class="k14" cx="532.0" cy="459.7"/><circle class="k22" cx="587.4" cy="572.8"/><circle class="k20" cx="625.6" cy="547.7"/><circle class="k14" cx="528.0" cy="529.6"/><circle class="k19" cx="648.7" cy="532.0"/><circle class="k15" cx="715.0" cy="483.7"/><circle class="k15" cx="778.9" cy="358.4"/><circle class="k11" cx="692.1" cy="448.9"/><circle class="k17" cx="711.7" cy="529.9"/><circle class="k4" cx="670.7" cy="439.1"/><circle class="k31" cx="375.7" cy="390.2"/><circle class="k28" cx="472.5" cy="428.7"/><circle class="k17" cx="400.9" cy="429.7"/><circle class="k23" cx="448.0" cy="500.4"/><circle class="k26" cx="345.9" cy="541.1"/><circle class="k16" cx="697.0" cy="596.7"/><circle class="k23" cx="338.7" cy="485.0"/><circle class="k13" cx="846.3" cy="488.6"/><circle class="k13" cx="805.1" cy="426.7"/><circle class="k16" cx="582.6" cy="445.7"/><circle class="k26" cx="451.1" cy="445.9"/><circle class="k27" cx="505.8" cy="291.2"/><circle class="k18" cx="735.9" cy="542.5"/><circle class="k17" cx="523.8" cy="294.5"/><circle class="k32" cx="579.1" cy="591.4"/><circle class="k23" cx="580.2" cy="591.7"/><circle class="k16" cx="913.8" cy="416.3"/><circle class="k23" cx="235.7" cy="471.8"/><circle class="k4" cx="780.6" cy="328.2"/><circle class="k14" cx="679.6" cy="340.1"/><circle class="k30" cx="500.6" cy="450.8"/><circle class="k11" cx="649.2" cy="553.6"/><circle class="k18" cx="646.5" cy="431.1"/><circle class="k17" cx="654.8" cy="377.3"/><circle class="k24" cx="533.2" cy="558.3"/><circle class="k25" cx="451.4" cy="457.3"/><circle class="k34" cx="337.6" cy="391.2"/><circle class="k30" cx="371.1" cy="427.9"/><circle class="k16" cx="557.3" cy="647.7"/><circle class="k18" cx="624.6" cy="409.1"/><circle class="k18" cx="812.6" cy="423.1"/><circle class="k15" cx="696.9" cy="351.9"/><circle class="k35" cx="497.2" cy="418.1"/><circle class="k14" cx="633.0" cy="458.2"/><circle class="k15" cx="824.8" cy="481.7"/><circle class="k15" cx="597.0" cy="536.3"/><circle class="k31" cx="330.3" cy="465.4"/><circle class="k30" cx="510.6" cy="525.8"/><circle class="k25" cx="498.8" cy="466.3"/><circle class="k16" cx="687.6" cy="535.6"/><circle class="k32" cx="369.9" cy="340.6"/><circle class="k24" cx="594.6" cy="351.8"/><circle class="k35" cx="637.6" cy="367.8"/><circle class="k17" cx="543.6" cy="397.0"/><circle class="k12" cx="637.2" cy="530.3"/><circle class="k29" cx="395.5" cy="457.7"/><circle class="k34" cx="408.6" cy="427.4"/><circle class="k17" cx="903.0" cy="440.0"/><circle class="k16" cx="661.9" cy="553.4"/><circle class="k13" cx="735.3" cy="377.9"/><circle class="k19" cx="592.7" cy="351.0"/><circle class="k18" cx="727.9" cy="417.5"/><circle class="k16" cx="811.0" cy="421.4"/><circle class="k12" cx="778.1" cy="506.5"/><circle class="k26" cx="478.5" cy="440.0"/><circle class="k30" cx="516.2" cy="518.6"/><circle class="k14" cx="722.2" cy="396.5"/><circle class="k31" cx="542.7" cy="333.4"/><circle class="k16" cx="259.3" cy="488.9"/><circle class="k11" cx="587.6" cy="555.3"/><circle class="k33" cx="613.0" cy="310.0"/><circle class="k18" cx="808.5" cy="267.7"/><circle class="k16" cx="747.2" cy="459.1"/><circle class="k28" cx="474.6" cy="680.4"/><circle class="k13" cx="719.7" cy="405.4"/><circle class="k32" cx="444.1" cy="443.1"/><circle class="k19" cx="623.8" cy="485.8"/><circle class="k18" cx="686.8" cy="354.9"/><circle class="k15" cx="625.7" cy="584.4"/><circle class="k16" cx="827.8" cy="499.3"/><circle class="k17" cx="819.6" cy="466.5"/><circle class="k21" cx="728.5" cy="505.5"/><circle class="k18" cx="493.2" cy="335.4"/><circle class="k19" cx="825.2" cy="556.5"/><circle class="k11" cx="672.2" cy="489.4"/><circle class="k28" cx="624.4" cy="339.0"/><circle class="k15" cx="679.9" cy="484.7"/><circle class="k23" cx="234.7" cy="478.6"/><circle class="k12" cx="571.4" cy="471.1"/><circle class="k19" cx="650.5" cy="311.2"/><circle class="k27" cx="371.5" cy="535.2"/><circle class="k12" cx="610.9" cy="411.2"/><circle class="k15" cx="664.9" cy="333.0"/><circle class="k7" cx="712.7" cy="492.4"/><circle class="k33" cx="402.3" cy="580.7"/><circle class="k15" cx="336.0" cy="335.5"/><circle class="k13" cx="792.5" cy="334.8"/><circle class="k18" cx="723.4" cy="403.7"/><circle class="k24" cx="560.2" cy="426.3"/><circle class="k23" cx="423.1" cy="484.8"/><circle class="k25" cx="291.5" cy="332.7"/><circle class="k18" cx="912.1" cy="398.8"/><circle class="k16" cx="667.8" cy="555.0"/><circle class="k24" cx="791.0" cy="361.4"/><circle class="k15" cx="778.3" cy="561.8"/><circle class="k19" cx="603.2" cy="471.9"/><circle class="k12" cx="720.0" cy="516.6"/><circle class="k35" cx="296.0" cy="466.3"/><circle class="k26" cx="541.5" cy="354.9"/><circle class="k23" cx="600.6" cy="559.1"/><circle class="k31" cx="445.9" cy="552.6"/><circle class="k31" cx="531.4" cy="410.5"/><circle class="k16" cx="490.7" cy="313.4"/><circle class="k32" cx="315.9" cy="411.6"/><circle class="k32" cx="292.2" cy="461.9"/><circle class="k11" cx="887.1" cy="433.3"/><circle class="k12" cx="796.0" cy="472.5"/><circle class="k23" cx="559.9" cy="585.8"/><circle class="k7" cx="761.2" cy="396.4"/><circle class="k33" cx="554.5" cy="418.0"/><circle class="k21" cx="510.7" cy="354.0"/><circle class="k29" cx="583.4" cy="406.2"/><circle class="k15" cx="668.6" cy="537.5"/><circle class="k17" cx="757.2" cy="289.7"/><circle class="k11" cx="610.8" cy="441.0"/><circle class="k15" cx="720.9" cy="366.1"/><circle class="k31" cx="402.3" cy="438.8"/><circle class="k12" cx="603.4" cy="483.8"/><circle class="k28" cx="532.6" cy="370.7"/><circle class="k22" cx="384.7" cy="497.6"/><circle class="k27" cx="571.5" cy="450.0"/><circle class="k17" cx="380.9" cy="456.7"/><circle class="k22" cx="384.8" cy="339.1"/><circle class="k18" cx="289.2" cy="418.2"/><circle class="k19" cx="829.0" cy="482.4"/><circle class="k12" cx="686.5" cy="556.4"/><circle class="k19" cx="552.5" cy="526.9"/><circle class="k32" cx="338.8" cy="460.8"/><circle class="k15" cx="889.1" cy="506.1"/><circle class="k34" cx="502.5" cy="385.0"/><circle class="k34" cx="443.5" cy="389.8"/><circle class="k29" cx="273.7" cy="481.0"/><circle class="k27" cx="392.2" cy="413.1"/><circle class="k27" cx="337.3" cy="426.5"/><circle class="k25" cx="625.0" cy="523.4"/><circle class="k11" cx="479.0" cy="325.5"/><circle class="k12" cx="845.4" cy="466.8"/><circle class="k25" cx="708.1" cy="328.3"/><circle class="k23" cx="561.7" cy="314.5"/><circle class="k15" cx="727.1" cy="484.4"/><circle class="k25" cx="524.1" cy="397.9"/><circle class="k22" cx="483.2" cy="382.3"/><circle class="k15" cx="674.1" cy="472.8"/><circle class="k15" cx="633.6" cy="399.8"/><circle class="k27" cx="329.7" cy="516.4"/><circle class="k16" cx="766.7" cy="432.5"/><circle class="k11" cx="873.3" cy="443.3"/><circle class="k29" cx="536.5" cy="397.1"/><circle class="k16" cx="553.7" cy="406.4"/><circle class="k13" cx="611.7" cy="462.4"/><circle class="k14" cx="730.4" cy="319.1"/><circle class="k7" cx="787.4" cy="481.4"/><circle class="k15" cx="668.3" cy="451.1"/><circle class="k31" cx="281.1" cy="345.0"/><circle class="k31" cx="503.5" cy="404.0"/><circle class="k19" cx="303.1" cy="423.1"/><circle class="k17" cx="219.7" cy="382.7"/><circle class="k34" cx="319.0" cy="471.3"/><circle class="k21" cx="399.9" cy="442.3"/><circle class="k14" cx="644.3" cy="550.9"/><circle class="k23" cx="458.3" cy="378.3"/><circle class="k16" cx="313.4" cy="427.7"/><circle class="k3" cx="784.0" cy="486.2"/><circle class="k30" cx="365.0" cy="536.7"/><circle class="k29" cx="335.2" cy="430.7"/><circle class="k19" cx="779.6" cy="350.0"/><circle class="k11" cx="480.1" cy="477.5"/><circle class="k18" cx="548.0" cy="345.3"/><circle class="k18" cx="729.7" cy="445.6"/><circle class="k23" cx="286.6" cy="594.5"/><circle class="k18" cx="760.9" cy="422.4"/><circle class="k11" cx="655.5" cy="394.8"/><circle class="k2" cx="832.5" cy="543.6"/><circle class="k23" cx="535.5" cy="654.2"/><circle class="k13" cx="731.4" cy="382.7"/><circle class="k14" cx="567.7" cy="340.7"/><circle class="k30" cx="293.1" cy="487.7"/><circle class="k19" cx="777.2" cy="283.5"/><circle class="k19" cx="315.1" cy="385.2"/><circle class="k24" cx="621.1" cy="545.8"/><circle class="k28" cx="277.3" cy="345.9"/><circle class="k15" cx="512.7" cy="534.9"/><circle class="k26" cx="501.1" cy="478.0"/><circle class="k34" cx="507.7" cy="424.4"/><circle class="k16" cx="727.7" cy="427.5"/><circle class="k22" cx="492.6" cy="481.3"/><circle class="k15" cx="733.7" cy="463.3"/><circle class="k25" cx="552.3" cy="430.1"/><circle class="k28" cx="524.3" cy="538.0"/><circle class="k18" cx="797.7" cy="467.0"/><circle class="k14" cx="704.1" cy="422.9"/><circle class="k14" cx="552.5" cy="380.6"/><circle class="k26" cx="520.9" cy="353.9"/><circle class="k15" cx="673.4" cy="514.2"/><circle class="k8" cx="789.9" cy="332.0"/><circle class="k28" cx="301.0" cy="372.1"/><circle class="k29" cx="588.7" cy="397.4"/><circle class="k17" cx="411.1" cy="436.0"/><circle class="k22" cx="579.4" cy="452.0"/><circle class="k12" cx="684.9" cy="554.5"/><circle class="k19" cx="681.0" cy="387.3"/><circle class="k13" cx="635.6" cy="418.5"/><circle class="k15" cx="538.4" cy="473.4"/><circle class="k16" cx="618.3" cy="487.1"/><circle class="k12" cx="293.1" cy="474.9"/><circle class="k18" cx="714.9" cy="337.2"/><circle class="k24" cx="597.8" cy="422.5"/><circle class="k32" cx="310.9" cy="420.3"/><circle class="k16" cx="359.2" cy="415.5"/><circle class="k18" cx="365.3" cy="513.3"/><circle class="k23" cx="518.2" cy="470.7"/><circle class="k15" cx="610.8" cy="355.1"/><circle class="k17" cx="301.1" cy="209.8"/><circle class="k30" cx="347.0" cy="563.8"/><circle class="k19" cx="659.3" cy="496.6"/><circle class="k18" cx="526.4" cy="365.1"/><circle class="k33" cx="404.4" cy="465.8"/><circle class="k31" cx="576.7" cy="419.7"/><circle class="k16" cx="666.0" cy="381.3"/><circle class="k35" cx="474.2" cy="425.9"/><circle class="k17" cx="378.1" cy="463.5"/><circle class="k8" cx="706.9" cy="484.9"/><circle class="k16" cx="491.2" cy="598.1"/><circle class="k22" cx="378.4" cy="373.1"/><circle class="k17" cx="772.0" cy="573.4"/><circle class="k17" cx="258.3" cy="524.6"/><circle class="k16" cx="491.8" cy="510.2"/><circle class="k15" cx="664.8" cy="466.9"/><circle class="k30" cx="408.9" cy="467.3"/><circle class="k17" cx="839.8" cy="445.0"/><circle class="k29" cx="337.3" cy="433.4"/><circle class="k24" cx="580.2" cy="461.7"/><circle class="k9" cx="841.8" cy="369.4"/><circle class="k14" cx="693.2" cy="462.2"/><circle class="k22" cx="383.5" cy="447.8"/><circle class="k18" cx="678.6" cy="442.9"/><circle class="k22" cx="276.6" cy="379.2"/><circle class="k17" cx="791.7" cy="443.1"/><circle class="k16" cx="656.9" cy="432.6"/><circle class="k24" cx="803.6" cy="306.9"/><circle class="k18" cx="543.9" cy="574.0"/><circle class="k29" cx="458.3" cy="463.6"/><circle class="k16" cx="703.8" cy="465.6"/><circle class="k25" cx="373.1" cy="486.4"/><circle class="k34" cx="337.7" cy="416.1"/><circle class="k15" cx="723.9" cy="508.8"/><circle class="k7" cx="841.3" cy="384.8"/><circle class="k22" cx="393.5" cy="525.2"/><circle class="k29" cx="633.3" cy="410.2"/><circle class="k14" cx="793.6" cy="293.7"/><circle class="k13" cx="258.6" cy="393.5"/><circle class="k18" cx="722.3" cy="439.6"/><circle class="k25" cx="283.1" cy="479.3"/><circle class="k23" cx="388.8" cy="377.9"/><circle class="k33" cx="437.8" cy="488.2"/><circle class="k15" cx="473.6" cy="443.2"/><circle class="k16" cx="797.9" cy="510.9"/><circle class="k21" cx="387.9" cy="433.9"/><circle class="k15" cx="700.1" cy="433.6"/><circle class="k17" cx="702.7" cy="411.9"/><circle class="k19" cx="700.1" cy="563.0"/><circle class="k19" cx="512.9" cy="499.8"/><circle class="k32" cx="597.6" cy="309.7"/><circle class="k22" cx="868.7" cy="465.3"/><circle class="k14" cx="835.8" cy="553.4"/><circle class="k13" cx="676.9" cy="461.3"/><circle class="k29" cx="241.6" cy="379.8"/><circle class="k32" cx="361.8" cy="432.4"/><circle class="k28" cx="616.8" cy="515.5"/><circle class="k15" cx="555.4" cy="359.4"/><circle class="k13" cx="760.3" cy="443.2"/><circle class="k16" cx="483.6" cy="504.9"/><circle class="k16" cx="819.7" cy="392.8"/><circle class="k19" cx="793.7" cy="526.5"/><circle class="k8" cx="809.0" cy="404.7"/><circle class="k34" cx="359.4" cy="482.3"/><circle class="k31" cx="401.9" cy="467.6"/><circle class="k33" cx="509.3" cy="246.4"/><circle class="k24" cx="682.4" cy="357.3"/><circle class="k30" cx="628.6" cy="512.3"/><circle class="k19" cx="412.8" cy="288.9"/><circle class="k19" cx="271.1" cy="399.9"/><circle class="k28" cx="579.0" cy="498.4"/><circle class="k24" cx="321.5" cy="594.5"/><circle class="k17" cx="257.5" cy="484.6"/><circle class="k15" cx="523.0" cy="385.4"/><circle class="k17" cx="531.5" cy="548.3"/><circle class="k25" cx="560.1" cy="276.9"/><circle class="k21" cx="422.3" cy="448.6"/><circle class="k23" cx="387.4" cy="545.4"/><circle class="k17" cx="724.5" cy="350.4"/><circle class="k30" cx="621.6" cy="506.3"/><circle class="k17" cx="505.7" cy="457.7"/><circle class="k19" cx="563.4" cy="484.6"/><circle class="k34" cx="394.0" cy="501.7"/><circle class="k30" cx="457.1" cy="419.1"/><circle class="k32" cx="507.6" cy="446.5"/><circle class="k25" cx="584.8" cy="514.8"/><circle class="k21" cx="348.8" cy="439.1"/><circle class="k17" cx="671.3" cy="611.3"/><circle class="k20" cx="393.0" cy="509.1"/><circle class="k19" cx="790.1" cy="346.4"/><circle class="k15" cx="691.1" cy="536.6"/><circle class="k15" cx="740.9" cy="400.2"/><circle class="k23" cx="212.6" cy="459.2"/><circle class="k15" cx="280.2" cy="479.7"/><circle class="k19" cx="642.4" cy="315.0"/><circle class="k16" cx="543.1" cy="554.7"/><circle class="k31" cx="303.7" cy="361.9"/><circle class="k18" cx="583.9" cy="597.7"/><circle class="k12" cx="758.7" cy="480.6"/><circle class="k10" cx="859.4" cy="607.6"/><circle class="k25" cx="566.0" cy="416.4"/><circle class="k17" cx="436.2" cy="361.8"/><circle class="k30" cx="284.4" cy="502.8"/><circle class="k12" cx="838.0" cy="515.4"/><circle class="k21" cx="467.7" cy="469.5"/><circle class="k30" cx="474.3" cy="338.9"/><circle class="k16" cx="612.6" cy="397.8"/><circle class="k13" cx="762.7" cy="405.1"/><circle class="k16" cx="751.3" cy="432.6"/><circle class="k18" cx="617.1" cy="347.3"/><circle class="k15" cx="820.7" cy="432.6"/><circle class="k12" cx="594.2" cy="530.6"/><circle class="k24" cx="631.8" cy="340.6"/><circle class="k25" cx="357.5" cy="322.8"/><circle class="k33" cx="668.3" cy="630.3"/><circle class="k20" cx="737.1" cy="428.5"/><circle class="k13" cx="513.5" cy="503.6"/><circle class="k23" cx="443.9" cy="422.9"/><circle class="k20" cx="482.9" cy="398.1"/><circle class="k19" cx="535.3" cy="403.0"/><circle class="k17" cx="410.3" cy="436.2"/><circle class="k21" cx="485.3" cy="414.4"/><circle class="k34" cx="382.5" cy="457.9"/><circle class="k19" cx="643.1" cy="275.9"/><circle class="k18" cx="767.7" cy="381.6"/><circle class="k17" cx="588.7" cy="557.3"/><circle class="k16" cx="744.5" cy="456.8"/><circle class="k35" cx="421.9" cy="397.9"/><circle class="k23" cx="691.5" cy="325.3"/><circle class="k23" cx="347.1" cy="393.8"/><circle class="k14" cx="742.9" cy="393.0"/><circle class="k15" cx="578.2" cy="491.8"/><circle class="k14" cx="796.5" cy="606.3"/><circle class="k13" cx="725.9" cy="376.1"/><circle class="k35" cx="296.8" cy="486.2"/><circle class="k16" cx="883.3" cy="370.8"/><circle class="k7" cx="840.5" cy="372.5"/><circle class="k15" cx="400.9" cy="313.7"/><circle class="k24" cx="454.9" cy="325.6"/><circle class="k17" cx="810.0" cy="461.5"/><circle class="k12" cx="664.6" cy="415.7"/><circle class="k22" cx="403.0" cy="379.2"/><circle class="k15" cx="566.4" cy="321.8"/><circle class="k14" cx="743.2" cy="512.9"/><circle class="k16" cx="775.4" cy="376.4"/><circle class="k18" cx="892.3" cy="538.7"/><circle class="k26" cx="485.5" cy="462.9"/><circle class="k22" cx="355.7" cy="384.7"/><circle class="k30" cx="376.5" cy="587.0"/><circle class="k15" cx="708.8" cy="384.2"/><circle class="k18" cx="826.1" cy="537.1"/><circle class="k21" cx="565.8" cy="462.3"/><circle class="k19" cx="478.6" cy="601.0"/><circle class="k27" cx="291.9" cy="499.8"/><circle class="k30" cx="274.6" cy="491.2"/><circle class="k14" cx="629.9" cy="546.3"/><circle class="k17" cx="546.5" cy="364.0"/><circle class="k14" cx="494.3" cy="521.2"/><circle class="k15" cx="778.0" cy="330.0"/><circle class="k13" cx="899.8" cy="493.3"/><circle class="k24" cx="674.9" cy="276.2"/><circle class="k7" cx="770.1" cy="412.6"/><circle class="k30" cx="405.5" cy="530.7"/><circle class="k15" cx="667.5" cy="491.7"/><circle class="k17" cx="477.6" cy="424.9"/><circle class="k31" cx="281.9" cy="320.2"/><circle class="k12" cx="744.8" cy="505.2"/><circle class="k32" cx="567.5" cy="579.8"/><circle class="k15" cx="483.0" cy="507.7"/><circle class="k24" cx="458.8" cy="443.7"/><circle class="k18" cx="569.6" cy="546.3"/><circle class="k19" cx="455.4" cy="457.2"/><circle class="k29" cx="278.3" cy="444.0"/><circle class="k12" cx="697.3" cy="366.7"/><circle class="k13" cx="866.6" cy="470.4"/><circle class="k19" cx="693.8" cy="422.9"/><circle class="k34" cx="597.2" cy="416.5"/><circle class="k28" cx="335.0" cy="469.5"/><circle class="k23" cx="350.5" cy="360.3"/><circle class="k15" cx="830.5" cy="454.5"/><circle class="k15" cx="562.4" cy="499.0"/><circle class="k19" cx="314.1" cy="395.7"/><circle class="k13" cx="696.2" cy="509.4"/><circle class="k35" cx="280.9" cy="384.4"/><circle class="k31" cx="529.9" cy="497.0"/><circle class="k34" cx="389.7" cy="504.2"/><circle class="k25" cx="367.9" cy="534.3"/><circle class="k16" cx="773.7" cy="472.7"/><circle class="k32" cx="563.9" cy="326.6"/><circle class="k33" cx="517.4" cy="486.6"/><circle class="k14" cx="667.5" cy="372.0"/><circle class="k29" cx="462.6" cy="383.4"/><circle class="k9" cx="644.1" cy="529.3"/><circle class="k3" cx="798.4" cy="405.1"/><circle class="k31" cx="481.5" cy="444.6"/><circle class="k32" cx="275.4" cy="406.9"/><circle class="k32" cx="280.9" cy="491.1"/><circle class="k15" cx="650.0" cy="339.6"/><circle class="k19" cx="833.1" cy="519.0"/><circle class="k14" cx="583.3" cy="434.8"/><circle class="k15" cx="755.0" cy="357.5"/><circle class="k12" cx="795.3" cy="441.5"/><circle class="k22" cx="372.8" cy="452.7"/><circle class="k24" cx="679.6" cy="453.4"/><circle class="k22" cx="470.0" cy="474.5"/><circle class="k34" cx="476.5" cy="456.0"/><circle class="k23" cx="337.9" cy="476.1"/><circle class="k23" cx="531.2" cy="628.1"/><circle class="k15" cx="516.3" cy="328.4"/><circle class="k17" cx="748.1" cy="402.0"/><circle class="k14" cx="845.2" cy="426.5"/><circle class="k18" cx="762.4" cy="540.9"/><circle class="k15" cx="758.0" cy="368.1"/><circle class="k34" cx="536.8" cy="364.7"/><circle class="k17" cx="765.9" cy="461.2"/><circle class="k23" cx="341.3" cy="477.3"/><circle class="k27" cx="402.7" cy="353.0"/><circle class="k19" cx="864.5" cy="477.1"/><circle class="k15" cx="722.5" cy="579.9"/><circle class="k14" cx="900.0" cy="505.0"/><circle class="k30" cx="636.6" cy="544.4"/><circle class="k34" cx="317.1" cy="479.9"/><circle class="k17" cx="717.8" cy="442.1"/><circle class="k29" cx="398.6" cy="523.2"/><circle class="k31" cx="478.2" cy="367.0"/><circle class="k25" cx="546.1" cy="320.6"/><circle class="k13" cx="784.6" cy="505.0"/><circle class="k18" cx="531.6" cy="438.8"/><circle class="k17" cx="705.0" cy="547.0"/><circle class="k15" cx="511.8" cy="550.5"/><circle class="k13" cx="753.2" cy="471.2"/><circle class="k23" cx="238.2" cy="365.4"/><circle class="k19" cx="576.6" cy="519.4"/><circle class="k23" cx="598.7" cy="673.8"/><circle class="k19" cx="635.9" cy="296.1"/><circle class="k19" cx="661.8" cy="378.4"/><circle class="k16" cx="662.8" cy="466.2"/><circle class="k22" cx="360.5" cy="388.8"/><circle class="k34" cx="289.2" cy="370.5"/><circle class="k12" cx="746.3" cy="159.8"/><circle class="k13" cx="918.8" cy="193.4"/><circle class="k19" cx="299.6" cy="480.4"/><circle class="k26" cx="334.1" cy="462.7"/><circle class="k31" cx="284.3" cy="501.6"/><circle class="k26" cx="294.4" cy="439.2"/><circle class="k24" cx="550.4" cy="547.5"/><circle class="k24" cx="406.7" cy="499.6"/><circle class="k18" cx="314.5" cy="508.5"/><circle class="k28" cx="412.8" cy="486.1"/><circle class="k16" cx="550.5" cy="391.5"/><circle class="k18" cx="903.8" cy="477.8"/><circle class="k23" cx="595.9" cy="401.4"/><circle class="k15" cx="759.2" cy="543.0"/><circle class="k15" cx="770.8" cy="610.7"/><circle class="k18" cx="741.3" cy="461.9"/><circle class="k16" cx="758.1" cy="356.7"/><circle class="k15" cx="644.8" cy="475.3"/><circle class="k24" cx="277.3" cy="466.2"/><circle class="k21" cx="464.4" cy="416.6"/><circle class="k18" cx="539.8" cy="413.4"/><circle class="k30" cx="551.2" cy="381.1"/><circle class="k4" cx="747.6" cy="456.4"/><circle class="k12" cx="258.4" cy="453.4"/><circle class="k15" cx="642.7" cy="498.3"/><circle class="k22" cx="427.4" cy="445.8"/><circle class="k16" cx="780.6" cy="357.3"/><circle class="k23" cx="479.9" cy="421.6"/><circle class="k16" cx="620.9" cy="362.4"/><circle class="k13" cx="754.9" cy="551.4"/><circle class="k17" cx="511.6" cy="654.2"/><circle class="k14" cx="259.5" cy="419.4"/><circle class="k14" cx="787.8" cy="358.1"/><circle class="k12" cx="570.4" cy="480.1"/><circle class="k28" cx="300.0" cy="481.1"/><circle class="k14" cx="637.1" cy="471.8"/><circle class="k17" cx="691.1" cy="493.5"/><circle class="k32" cx="277.3" cy="376.8"/><circle class="k16" cx="766.7" cy="468.1"/><circle class="k14" cx="702.9" cy="553.1"/><circle class="k17" cx="468.9" cy="554.0"/><circle class="k24" cx="630.1" cy="570.9"/><circle class="k17" cx="625.4" cy="367.9"/><circle class="k19" cx="561.3" cy="378.2"/><circle class="k18" cx="290.4" cy="611.1"/><circle class="k22" cx="243.0" cy="454.3"/><circle class="k17" cx="574.2" cy="577.2"/><circle class="k18" cx="262.8" cy="446.9"/><circle class="k12" cx="481.6" cy="410.5"/><circle class="k30" cx="434.5" cy="403.2"/><circle class="k16" cx="690.1" cy="386.2"/><circle class="k15" cx="689.3" cy="354.7"/><circle class="k23" cx="771.6" cy="504.4"/><circle class="k15" cx="704.6" cy="401.7"/><circle class="k23" cx="325.6" cy="335.2"/><circle class="k18" cx="593.8" cy="371.9"/><circle class="k12" cx="703.5" cy="505.6"/><circle class="k7" cx="759.3" cy="496.3"/><circle class="k32" cx="477.0" cy="521.6"/><circle class="k19" cx="754.3" cy="356.3"/><circle class="k21" cx="601.0" cy="408.6"/><circle class="k16" cx="690.3" cy="508.1"/><circle class="k28" cx="527.3" cy="516.4"/><circle class="k16" cx="859.9" cy="567.4"/><circle class="k16" cx="724.6" cy="368.3"/><circle class="k16" cx="629.5" cy="560.3"/><circle class="k15" cx="760.9" cy="485.2"/><circle class="k11" cx="584.6" cy="430.7"/><circle class="k12" cx="761.9" cy="470.2"/><circle class="k27" cx="503.8" cy="342.7"/><circle class="k27" cx="384.2" cy="531.4"/><circle class="k23" cx="280.3" cy="448.1"/><circle class="k17" cx="843.6" cy="262.1"/><circle class="k13" cx="576.4" cy="526.1"/><circle class="k15" cx="539.0" cy="432.5"/><circle class="k11" cx="675.7" cy="429.6"/><circle class="k34" cx="421.4" cy="507.2"/><circle class="k18" cx="885.0" cy="434.1"/><circle class="k14" cx="699.5" cy="379.5"/><circle class="k12" cx="769.8" cy="366.5"/><circle class="k16" cx="600.3" cy="515.0"/><circle class="k16" cx="671.1" cy="504.7"/><circle class="k14" cx="541.1" cy="505.5"/><circle class="k15" cx="568.4" cy="427.0"/><circle class="k16" cx="652.0" cy="398.2"/><circle class="k13" cx="850.4" cy="442.4"/><circle class="k3" cx="743.4" cy="476.6"/><circle class="k19" cx="651.3" cy="429.8"/><circle class="k30" cx="544.6" cy="430.8"/><circle class="k15" cx="634.7" cy="561.7"/><circle class="k11" cx="624.9" cy="426.1"/><circle class="k21" cx="308.0" cy="518.8"/><circle class="k18" cx="791.0" cy="487.3"/><circle class="k19" cx="801.6" cy="505.6"/><circle class="k14" cx="841.4" cy="450.3"/><circle class="k5" cx="732.0" cy="358.7"/><circle class="k25" cx="401.6" cy="495.1"/><circle class="k19" cx="600.3" cy="447.1"/><circle class="k7" cx="670.7" cy="424.4"/><circle class="k15" cx="645.3" cy="568.4"/><circle class="k24" cx="220.6" cy="371.5"/><circle class="k14" cx="618.2" cy="544.3"/><circle class="k21" cx="576.5" cy="545.9"/><circle class="k13" cx="703.6" cy="375.4"/><circle class="k24" cx="259.2" cy="451.6"/><circle class="k20" cx="603.1" cy="429.9"/><circle class="k24" cx="369.5" cy="455.0"/><circle class="k32" cx="445.0" cy="431.4"/><circle class="k23" cx="621.9" cy="337.8"/><circle class="k18" cx="654.6" cy="546.5"/><circle class="k33" cx="523.3" cy="424.6"/><circle class="k14" cx="477.7" cy="473.3"/><circle class="k30" cx="455.0" cy="466.9"/><circle class="k6" cx="652.5" cy="545.4"/><circle class="k14" cx="781.4" cy="502.1"/><circle class="k15" cx="274.7" cy="505.8"/><circle class="k24" cx="699.1" cy="447.9"/><circle class="k29" cx="418.5" cy="482.7"/><circle class="k13" cx="816.0" cy="461.1"/><circle class="k28" cx="385.4" cy="452.9"/><circle class="k4" cx="725.1" cy="422.1"/><circle class="k15" cx="592.4" cy="432.9"/><circle class="k15" cx="664.6" cy="289.0"/><circle class="k23" cx="266.9" cy="423.8"/><circle class="k14" cx="764.8" cy="484.2"/><circle class="k30" cx="388.7" cy="405.6"/><circle class="k26" cx="538.5" cy="360.7"/><circle class="k22" cx="256.4" cy="402.5"/><circle class="k16" cx="713.3" cy="514.5"/><circle class="k16" cx="574.5" cy="547.7"/><circle class="k16" cx="573.5" cy="365.3"/><circle class="k13" cx="817.3" cy="379.7"/><circle class="k23" cx="447.6" cy="438.6"/><circle class="k7" cx="775.7" cy="334.3"/><circle class="k21" cx="663.0" cy="336.6"/><circle class="k15" cx="396.4" cy="530.0"/><circle class="k15" cx="592.6" cy="296.8"/><circle class="k12" cx="653.3" cy="510.0"/><circle class="k13" cx="813.2" cy="389.9"/><circle class="k32" cx="527.8" cy="426.1"/><circle class="k17" cx="846.8" cy="435.2"/><circle class="k19" cx="693.6" cy="581.2"/><circle class="k13" cx="642.7" cy="412.0"/><circle class="k11" cx="582.1" cy="310.3"/><circle class="k11" cx="847.9" cy="589.6"/><circle class="k16" cx="739.6" cy="439.4"/><circle class="k15" cx="793.7" cy="489.0"/><circle class="k6" cx="859.6" cy="446.3"/><circle class="k33" cx="398.8" cy="553.1"/><circle class="k21" cx="572.7" cy="580.1"/><circle class="k27" cx="617.2" cy="369.3"/><circle class="k18" cx="872.9" cy="439.1"/><circle class="k17" cx="371.1" cy="482.0"/><circle class="k18" cx="711.5" cy="520.9"/><circle class="k34" cx="378.2" cy="430.0"/><circle class="k34" cx="343.5" cy="387.3"/><circle class="k17" cx="497.9" cy="490.2"/><circle class="k32" cx="390.9" cy="472.5"/><circle class="k29" cx="382.4" cy="389.7"/><circle class="k16" cx="685.6" cy="291.4"/><circle class="k15" cx="852.8" cy="430.2"/><circle class="k12" cx="754.2" cy="494.3"/><circle class="k19" cx="689.3" cy="504.0"/><circle class="k32" cx="423.2" cy="502.5"/><circle class="k34" cx="268.8" cy="463.8"/><circle class="k33" cx="328.1" cy="492.0"/><circle class="k17" cx="679.7" cy="428.1"/><circle class="k15" cx="671.9" cy="588.1"/><circle class="k12" cx="918.3" cy="397.1"/><circle class="k24" cx="376.1" cy="536.4"/><circle class="k25" cx="394.6" cy="423.4"/><circle class="k12" cx="799.9" cy="224.9"/><circle class="k21" cx="436.2" cy="396.3"/><circle class="k24" cx="377.0" cy="400.9"/><circle class="k28" cx="494.2" cy="349.7"/><circle class="k13" cx="838.7" cy="453.0"/><circle class="k30" cx="479.8" cy="412.9"/><circle class="k4" cx="644.6" cy="427.0"/><circle class="k17" cx="812.3" cy="602.9"/><circle class="k30" cx="467.2" cy="509.2"/><circle class="k26" cx="606.2" cy="504.4"/><circle class="k17" cx="687.5" cy="524.4"/><circle class="k33" cx="448.9" cy="397.0"/><circle class="k19" cx="474.8" cy="486.8"/><circle class="k18" cx="801.4" cy="401.4"/><circle class="k19" cx="648.8" cy="381.0"/><circle class="k26" cx="407.7" cy="411.0"/><circle class="k15" cx="536.3" cy="532.2"/><circle class="k29" cx="405.2" cy="520.3"/><circle class="k24" cx="603.7" cy="398.4"/><circle class="k16" cx="635.0" cy="341.2"/><circle class="k19" cx="493.9" cy="552.9"/><circle class="k14" cx="853.9" cy="588.0"/><circle class="k18" cx="820.1" cy="460.2"/><circle class="k15" cx="790.1" cy="452.9"/><circle class="k24" cx="450.1" cy="489.7"/><circle class="k11" cx="795.7" cy="317.5"/><circle class="k21" cx="323.1" cy="487.2"/><circle class="k24" cx="677.0" cy="414.1"/><circle class="k29" cx="518.6" cy="352.4"/><circle class="k14" cx="691.0" cy="499.4"/><circle class="k24" cx="583.3" cy="333.2"/><circle class="k30" cx="416.5" cy="407.2"/><circle class="k28" cx="452.7" cy="383.0"/><circle class="k25" cx="567.0" cy="392.3"/><circle class="k17" cx="421.5" cy="429.9"/><circle class="k9" cx="804.5" cy="478.5"/><circle class="k18" cx="714.3" cy="358.6"/><circle class="k14" cx="542.1" cy="364.5"/><circle class="k12" cx="642.7" cy="384.4"/><circle class="k12" cx="624.6" cy="379.7"/><circle class="k30" cx="691.4" cy="277.4"/><circle class="k11" cx="708.2" cy="410.5"/><circle class="k24" cx="281.7" cy="521.2"/><circle class="k15" cx="716.3" cy="448.1"/><circle class="k8" cx="861.4" cy="351.6"/><circle class="k16" cx="816.7" cy="483.7"/><circle class="k34" cx="554.0" cy="395.7"/><circle class="k22" cx="562.2" cy="507.9"/><circle class="k15" cx="703.5" cy="444.9"/><circle class="k18" cx="584.5" cy="519.7"/><circle class="k18" cx="521.9" cy="383.6"/><circle class="k16" cx="716.1" cy="362.8"/><circle class="k25" cx="342.6" cy="577.6"/><circle class="k13" cx="720.3" cy="395.8"/><circle class="k15" cx="583.5" cy="480.0"/><circle class="k30" cx="496.3" cy="344.0"/><circle class="k34" cx="274.0" cy="442.3"/><circle class="k12" cx="644.9" cy="362.8"/><circle class="k19" cx="528.3" cy="543.3"/><circle class="k24" cx="761.3" cy="578.8"/><circle class="k22" cx="360.5" cy="444.2"/><circle class="k21" cx="311.0" cy="394.4"/><circle class="k15" cx="725.2" cy="332.5"/><circle class="k23" cx="461.1" cy="381.5"/><circle class="k28" cx="553.7" cy="339.2"/><circle class="k21" cx="599.4" cy="333.1"/><circle class="k13" cx="652.7" cy="469.8"/><circle class="k29" cx="365.0" cy="405.3"/><circle class="k28" cx="280.3" cy="551.6"/><circle class="k19" cx="673.4" cy="402.4"/><circle class="k24" cx="594.4" cy="561.8"/><circle class="k19" cx="615.2" cy="346.9"/><circle class="k17" cx="469.1" cy="530.2"/><circle class="k12" cx="789.7" cy="448.9"/><circle class="k34" cx="655.9" cy="336.8"/><circle class="k23" cx="552.9" cy="333.4"/><circle class="k15" cx="556.8" cy="445.8"/><circle class="k32" cx="339.8" cy="427.8"/><circle class="k30" cx="487.5" cy="520.6"/><circle class="k24" cx="265.8" cy="430.8"/><circle class="k29" cx="561.9" cy="452.1"/><circle class="k13" cx="576.1" cy="256.5"/><circle class="k32" cx="542.8" cy="389.3"/><circle class="k21" cx="723.3" cy="490.9"/><circle class="k21" cx="347.2" cy="349.0"/><circle class="k8" cx="726.8" cy="498.2"/><circle class="k14" cx="565.6" cy="498.8"/><circle class="k15" cx="574.9" cy="505.0"/><circle class="k23" cx="358.6" cy="445.6"/><circle class="k15" cx="695.6" cy="591.7"/><circle class="k34" cx="363.0" cy="386.2"/><circle class="k31" cx="384.8" cy="517.0"/><circle class="k27" cx="318.9" cy="401.6"/><circle class="k14" cx="698.1" cy="541.8"/><circle class="k16" cx="637.4" cy="613.2"/><circle class="k30" cx="290.7" cy="394.1"/><circle class="k19" cx="728.5" cy="517.0"/><circle class="k30" cx="481.2" cy="542.9"/><circle class="k11" cx="870.5" cy="499.3"/><circle class="k25" cx="424.0" cy="375.4"/><circle class="k18" cx="488.9" cy="453.0"/><circle class="k15" cx="618.1" cy="395.2"/><circle class="k25" cx="358.2" cy="495.8"/><circle class="k24" cx="263.0" cy="412.4"/><circle class="k24" cx="254.2" cy="454.3"/><circle class="k14" cx="827.5" cy="422.1"/><circle class="k15" cx="404.5" cy="419.4"/><circle class="k13" cx="651.4" cy="511.4"/><circle class="k4" cx="806.7" cy="421.9"/><circle class="k15" cx="707.0" cy="540.8"/><circle class="k18" cx="649.7" cy="313.3"/><circle class="k30" cx="399.6" cy="487.6"/><circle class="k11" cx="565.3" cy="581.8"/><circle class="k13" cx="888.6" cy="397.1"/><circle class="k18" cx="614.7" cy="487.0"/><circle class="k16" cx="771.6" cy="448.8"/><circle class="k26" cx="623.0" cy="340.8"/><circle class="k15" cx="738.8" cy="333.8"/><circle class="k19" cx="493.5" cy="438.9"/><circle class="k23" cx="583.4" cy="634.6"/><circle class="k33" cx="492.6" cy="441.7"/><circle class="k34" cx="309.1" cy="403.1"/><circle class="k33" cx="558.0" cy="474.4"/><circle class="k33" cx="380.7" cy="379.2"/><circle class="k8" cx="813.9" cy="300.9"/><circle class="k16" cx="435.8" cy="507.3"/><circle class="k15" cx="494.1" cy="579.8"/><circle class="k18" cx="755.3" cy="510.7"/><circle class="k35" cx="326.8" cy="475.5"/><circle class="k15" cx="558.0" cy="377.3"/><circle class="k22" cx="441.5" cy="403.2"/><circle class="k16" cx="569.1" cy="375.7"/><circle class="k28" cx="656.6" cy="209.6"/><circle class="k14" cx="721.8" cy="408.4"/><circle class="k34" cx="449.3" cy="531.9"/><circle class="k13" cx="660.1" cy="540.1"/><circle class="k15" cx="722.1" cy="339.9"/><circle class="k14" cx="656.1" cy="488.3"/><circle class="k35" cx="456.3" cy="357.2"/><circle class="k22" cx="454.3" cy="440.9"/><circle class="k19" cx="492.2" cy="535.0"/><circle class="k12" cx="658.1" cy="413.2"/><circle class="k9" cx="745.2" cy="457.5"/><circle class="k17" cx="792.6" cy="482.2"/><circle class="k16" cx="763.0" cy="380.1"/><circle class="k14" cx="477.5" cy="406.9"/><circle class="k19" cx="561.0" cy="510.6"/><circle class="k25" cx="671.4" cy="397.6"/><circle class="k13" cx="667.0" cy="469.8"/><circle class="k21" cx="370.1" cy="475.0"/><circle class="k25" cx="343.7" cy="508.2"/><circle class="k24" cx="388.5" cy="389.3"/><circle class="k30" cx="576.7" cy="412.5"/><circle class="k19" cx="470.8" cy="532.2"/><circle class="k28" cx="329.7" cy="472.8"/><circle class="k8" cx="649.7" cy="539.5"/><circle class="k12" cx="646.2" cy="450.4"/><circle class="k16" cx="558.2" cy="339.1"/><circle class="k28" cx="489.8" cy="555.4"/><circle class="k30" cx="360.8" cy="402.1"/><circle class="k12" cx="659.1" cy="505.6"/><circle class="k26" cx="538.6" cy="467.3"/><circle class="k17" cx="441.8" cy="369.4"/><circle class="k12" cx="791.8" cy="359.4"/><circle class="k16" cx="709.9" cy="484.1"/><circle class="k25" cx="663.8" cy="320.2"/><circle class="k14" cx="827.9" cy="456.5"/><circle class="k17" cx="681.8" cy="543.8"/><circle class="k18" cx="597.6" cy="365.0"/><circle class="k13" cx="572.5" cy="540.5"/><circle class="k12" cx="738.4" cy="468.9"/><circle class="k31" cx="455.9" cy="342.4"/><circle class="k27" cx="536.0" cy="609.3"/><circle class="k27" cx="545.4" cy="534.8"/><circle class="k16" cx="471.4" cy="513.9"/><circle class="k33" cx="405.3" cy="486.6"/><circle class="k24" cx="571.1" cy="562.7"/><circle class="k29" cx="375.0" cy="356.7"/><circle class="k33" cx="291.6" cy="391.3"/><circle class="k24" cx="391.3" cy="429.5"/><circle class="k17" cx="659.2" cy="467.4"/><circle class="k23" cx="274.7" cy="594.5"/><circle class="k17" cx="607.4" cy="643.3"/><circle class="k16" cx="736.4" cy="573.3"/><circle class="k13" cx="523.6" cy="284.1"/><circle class="k15" cx="703.6" cy="435.3"/><circle class="k34" cx="338.3" cy="291.3"/><circle class="k26" cx="588.2" cy="386.4"/><circle class="k18" cx="473.4" cy="309.6"/><circle class="k15" cx="836.1" cy="498.6"/><circle class="k33" cx="408.3" cy="479.5"/><circle class="k17" cx="706.4" cy="435.5"/><circle class="k16" cx="754.2" cy="427.1"/><circle class="k18" cx="482.4" cy="517.6"/><circle class="k21" cx="492.3" cy="582.1"/><circle class="k19" cx="634.2" cy="305.9"/><circle class="k23" cx="382.5" cy="401.4"/><circle class="k31" cx="313.5" cy="403.3"/><circle class="k2" cx="758.1" cy="501.7"/><circle class="k28" cx="630.7" cy="378.0"/><circle class="k21" cx="586.5" cy="325.6"/><circle class="k16" cx="272.4" cy="371.9"/><circle class="k25" cx="511.9" cy="517.4"/><circle class="k26" cx="259.1" cy="419.9"/><circle class="k15" cx="822.1" cy="510.9"/><circle class="k24" cx="269.7" cy="439.2"/><circle class="k16" cx="336.4" cy="404.7"/><circle class="k22" cx="257.3" cy="413.0"/><circle class="k19" cx="750.2" cy="351.5"/><circle class="k33" cx="316.6" cy="429.7"/><circle class="k29" cx="343.4" cy="451.9"/><circle class="k31" cx="643.9" cy="343.2"/><circle class="k13" cx="816.6" cy="619.6"/><circle class="k15" cx="646.6" cy="448.5"/><circle class="k12" cx="667.0" cy="438.0"/><circle class="k30" cx="271.6" cy="519.1"/><circle class="k30" cx="304.3" cy="432.5"/><circle class="k6" cx="836.4" cy="609.5"/><circle class="k16" cx="652.6" cy="370.8"/><circle class="k25" cx="424.5" cy="340.5"/><circle class="k26" cx="559.4" cy="373.5"/><circle class="k28" cx="490.9" cy="461.1"/><circle class="k16" cx="797.3" cy="468.5"/><circle class="k25" cx="342.0" cy="354.0"/><circle class="k16" cx="525.6" cy="578.2"/><circle class="k26" cx="321.9" cy="493.3"/><circle class="k12" cx="545.8" cy="504.6"/><circle class="k11" cx="571.9" cy="606.6"/><circle class="k14" cx="679.7" cy="514.5"/><circle class="k17" cx="708.8" cy="541.6"/><circle class="k23" cx="473.2" cy="630.3"/><circle class="k12" cx="539.7" cy="578.3"/><circle class="k16" cx="555.5" cy="468.5"/><circle class="k19" cx="584.1" cy="383.4"/><circle class="k7" cx="820.3" cy="307.8"/><circle class="k15" cx="695.7" cy="513.0"/><circle class="k11" cx="679.7" cy="429.4"/><circle class="k28" cx="258.3" cy="476.3"/><circle class="k23" cx="503.1" cy="393.1"/><circle class="k15" cx="791.3" cy="533.7"/><circle class="k32" cx="578.6" cy="398.4"/><circle class="k35" cx="577.7" cy="514.1"/><circle class="k14" cx="706.2" cy="501.5"/><circle class="k31" cx="282.8" cy="397.2"/><circle class="k32" cx="542.4" cy="392.2"/><circle class="k17" cx="328.3" cy="363.0"/><circle class="k33" cx="403.4" cy="282.5"/><circle class="k25" cx="390.7" cy="464.9"/><circle class="k32" cx="566.1" cy="384.4"/><circle class="k22" cx="498.4" cy="328.0"/><circle class="k19" cx="572.6" cy="346.2"/><circle class="k19" cx="498.7" cy="492.6"/><circle class="k15" cx="746.2" cy="337.3"/><circle class="k35" cx="472.1" cy="432.9"/><circle class="k28" cx="575.0" cy="517.0"/><circle class="k27" cx="443.0" cy="560.1"/><circle class="k32" cx="524.8" cy="386.5"/><circle class="k20" cx="299.0" cy="372.0"/><circle class="k17" cx="511.7" cy="505.5"/><circle class="k22" cx="438.9" cy="339.0"/><circle class="k16" cx="559.8" cy="283.1"/><circle class="k27" cx="366.5" cy="509.7"/><circle class="k30" cx="569.7" cy="399.4"/><circle class="k30" cx="445.3" cy="462.5"/><circle class="k29" cx="550.1" cy="556.2"/><circle class="k21" cx="730.2" cy="403.2"/><circle class="k9" cx="698.6" cy="334.9"/><circle class="k30" cx="430.9" cy="415.3"/><circle class="k19" cx="752.5" cy="485.0"/><circle class="k27" cx="499.1" cy="372.9"/><circle class="k22" cx="633.2" cy="459.2"/><circle class="k19" cx="601.5" cy="443.7"/><circle class="k16" cx="657.9" cy="518.9"/><circle class="k18" cx="611.5" cy="279.2"/><circle class="k24" cx="438.9" cy="409.0"/><circle class="k9" cx="746.8" cy="379.7"/><circle class="k21" cx="529.1" cy="550.2"/><circle class="k26" cx="394.5" cy="404.0"/><circle class="k19" cx="858.3" cy="446.2"/><circle class="k16" cx="479.0" cy="371.4"/><circle class="k28" cx="464.0" cy="452.4"/><circle class="k31" cx="342.7" cy="468.7"/><circle class="k33" cx="484.3" cy="587.7"/><circle class="k35" cx="556.4" cy="475.8"/><circle class="k18" cx="865.7" cy="502.5"/><circle class="k2" cx="664.0" cy="436.7"/><circle class="k18" cx="843.9" cy="262.3"/><circle class="k21" cx="411.0" cy="510.4"/><circle class="k31" cx="359.0" cy="432.4"/><circle class="k21" cx="485.7" cy="302.7"/><circle class="k32" cx="449.3" cy="374.5"/><circle class="k17" cx="587.6" cy="516.8"/><circle class="k14" cx="715.2" cy="408.2"/><circle class="k19" cx="656.7" cy="435.4"/><circle class="k22" cx="612.5" cy="459.7"/><circle class="k14" cx="690.8" cy="511.5"/><circle class="k16" cx="760.6" cy="382.5"/><circle class="k16" cx="874.9" cy="434.6"/><circle class="k23" cx="467.5" cy="545.9"/><circle class="k22" cx="573.3" cy="342.4"/><circle class="k27" cx="339.3" cy="443.1"/><circle class="k31" cx="361.4" cy="563.5"/><circle class="k2" cx="671.8" cy="563.8"/><circle class="k23" cx="280.3" cy="420.2"/><circle class="k26" cx="365.8" cy="355.0"/><circle class="k32" cx="291.4" cy="472.7"/><circle class="k20" cx="694.9" cy="509.7"/><circle class="k31" cx="479.6" cy="371.6"/><circle class="k14" cx="757.1" cy="457.4"/><circle class="k19" cx="856.4" cy="524.6"/><circle class="k13" cx="638.3" cy="533.4"/><circle class="k17" cx="656.8" cy="345.8"/><circle class="k18" cx="479.9" cy="535.4"/><circle class="k16" cx="867.7" cy="443.0"/><circle class="k17" cx="712.0" cy="358.0"/><circle class="k1" cx="778.0" cy="583.7"/><circle class="k15" cx="794.4" cy="395.4"/><circle class="k27" cx="633.7" cy="420.3"/><circle class="k23" cx="635.3" cy="357.8"/><circle class="k32" cx="544.8" cy="323.6"/><circle class="k13" cx="823.3" cy="438.5"/><circle class="k30" cx="635.3" cy="508.1"/><circle class="k18" cx="715.6" cy="475.5"/><circle class="k20" cx="744.7" cy="517.5"/><circle class="k34" cx="401.9" cy="439.4"/><circle class="k12" cx="632.5" cy="397.9"/><circle class="k35" cx="622.7" cy="428.7"/><circle class="k16" cx="669.4" cy="281.6"/><circle class="k19" cx="760.6" cy="494.1"/><circle class="k23" cx="256.1" cy="546.8"/><circle class="k15" cx="683.5" cy="378.7"/><circle class="k17" cx="649.1" cy="523.8"/><circle class="k15" cx="767.5" cy="494.5"/><circle class="k18" cx="726.5" cy="414.9"/><circle class="k14" cx="730.8" cy="488.3"/><circle class="k13" cx="664.9" cy="533.1"/><circle class="k17" cx="710.0" cy="532.7"/><circle class="k33" cx="387.5" cy="426.3"/><circle class="k16" cx="752.6" cy="325.2"/><circle class="k18" cx="560.2" cy="523.9"/><circle class="k22" cx="278.6" cy="441.7"/><circle class="k22" cx="438.1" cy="491.3"/><circle class="k13" cx="300.6" cy="306.4"/><circle class="k24" cx="375.9" cy="384.9"/><circle class="k34" cx="487.9" cy="581.4"/><circle class="k12" cx="619.4" cy="384.4"/><circle class="k7" cx="822.0" cy="337.6"/><circle class="k18" cx="542.0" cy="560.8"/><circle class="k23" cx="223.1" cy="402.1"/><circle class="k24" cx="534.5" cy="455.5"/><circle class="k13" cx="853.5" cy="384.8"/><circle class="k17" cx="503.7" cy="550.4"/><circle class="k19" cx="729.5" cy="517.3"/><circle class="k19" cx="788.8" cy="479.1"/><circle class="k15" cx="375.8" cy="372.9"/><circle class="k5" cx="860.8" cy="450.1"/><circle class="k17" cx="622.2" cy="335.1"/><circle class="k16" cx="676.8" cy="500.4"/><circle class="k13" cx="905.1" cy="468.8"/><circle class="k16" cx="351.1" cy="504.3"/><circle class="k24" cx="548.2" cy="389.5"/><circle class="k27" cx="468.9" cy="399.9"/><circle class="k7" cx="689.3" cy="533.2"/><circle class="k15" cx="886.5" cy="548.2"/><circle class="k25" cx="599.4" cy="312.8"/><circle class="k13" cx="596.0" cy="481.0"/><circle class="k18" cx="750.2" cy="411.6"/><circle class="k27" cx="353.6" cy="401.8"/><circle class="k28" cx="465.6" cy="454.5"/><circle class="k15" cx="655.3" cy="567.2"/><circle class="k12" cx="811.1" cy="445.8"/><circle class="k9" cx="834.7" cy="440.6"/><circle class="k11" cx="883.7" cy="492.9"/><circle class="k14" cx="637.0" cy="377.3"/><circle class="k27" cx="462.1" cy="367.9"/><circle class="k21" cx="550.8" cy="551.3"/><circle class="k16" cx="505.5" cy="436.1"/><circle class="k31" cx="309.2" cy="465.7"/><circle class="k13" cx="760.2" cy="491.8"/><circle class="k16" cx="452.2" cy="418.5"/><circle class="k16" cx="431.8" cy="472.8"/><circle class="k34" cx="268.7" cy="400.6"/><circle class="k18" cx="767.2" cy="457.0"/><circle class="k16" cx="752.8" cy="376.8"/><circle class="k15" cx="562.7" cy="429.0"/><circle class="k15" cx="735.8" cy="446.5"/><circle class="k14" cx="841.3" cy="363.8"/><circle class="k15" cx="462.3" cy="591.9"/><circle class="k15" cx="689.1" cy="373.0"/><circle class="k32" cx="346.0" cy="406.2"/><circle class="k18" cx="641.0" cy="398.0"/><circle class="k19" cx="472.9" cy="346.4"/><circle class="k27" cx="489.6" cy="443.2"/><circle class="k22" cx="922.6" cy="459.2"/><circle class="k15" cx="685.8" cy="419.7"/><circle class="k27" cx="492.3" cy="527.3"/><circle class="k24" cx="297.3" cy="437.2"/><circle class="k27" cx="487.5" cy="460.8"/><circle class="k18" cx="259.0" cy="496.9"/><circle class="k32" cx="404.2" cy="429.9"/><circle class="k19" cx="439.2" cy="471.7"/><circle class="k35" cx="584.2" cy="493.9"/><circle class="k15" cx="716.7" cy="603.6"/><circle class="k13" cx="737.4" cy="524.7"/><circle class="k32" cx="572.2" cy="353.1"/><circle class="k22" cx="599.1" cy="436.0"/><circle class="k11" cx="878.1" cy="454.1"/><circle class="k12" cx="685.9" cy="518.3"/><circle class="k34" cx="379.5" cy="415.3"/><circle class="k28" cx="361.4" cy="519.5"/><circle class="k33" cx="496.7" cy="347.8"/><circle class="k25" cx="636.0" cy="440.6"/><circle class="k33" cx="622.3" cy="378.1"/><circle class="k25" cx="522.7" cy="421.8"/><circle class="k17" cx="750.1" cy="476.8"/><circle class="k14" cx="720.7" cy="401.3"/><circle class="k18" cx="884.8" cy="435.0"/><circle class="k17" cx="677.2" cy="431.9"/><circle class="k4" cx="746.9" cy="438.6"/><circle class="k20" cx="775.2" cy="479.1"/><circle class="k15" cx="686.2" cy="407.8"/><circle class="k30" cx="424.0" cy="456.4"/><circle class="k18" cx="290.0" cy="594.5"/><circle class="k14" cx="758.4" cy="323.5"/><circle class="k18" cx="573.9" cy="550.5"/><circle class="k23" cx="472.4" cy="652.0"/><circle class="k30" cx="310.2" cy="401.4"/><circle class="k15" cx="446.5" cy="402.8"/><circle class="k18" cx="699.1" cy="295.4"/><circle class="k16" cx="763.5" cy="362.1"/><circle class="k17" cx="727.9" cy="429.1"/><circle class="k13" cx="723.3" cy="351.3"/><circle class="k13" cx="711.6" cy="460.1"/><circle class="k13" cx="718.2" cy="450.0"/><circle class="k18" cx="299.9" cy="507.0"/><circle class="k19" cx="449.1" cy="451.9"/><circle class="k11" cx="741.5" cy="439.6"/><circle class="k33" cx="317.8" cy="373.1"/><circle class="k12" cx="712.6" cy="527.3"/><circle class="k17" cx="446.9" cy="349.5"/><circle class="k12" cx="616.7" cy="411.7"/><circle class="k16" cx="748.9" cy="408.1"/><circle class="k28" cx="431.2" cy="462.9"/><circle class="k28" cx="283.2" cy="442.2"/><circle class="k18" cx="894.5" cy="499.4"/><circle class="k27" cx="385.0" cy="430.9"/><circle class="k21" cx="257.7" cy="549.5"/><circle class="k17" cx="761.5" cy="513.1"/><circle class="k17" cx="651.2" cy="482.1"/><circle class="k31" cx="629.4" cy="427.6"/><circle class="k19" cx="631.2" cy="367.1"/><circle class="k18" cx="681.3" cy="617.5"/><circle class="k12" cx="791.8" cy="447.7"/><circle class="k15" cx="498.0" cy="533.3"/><circle class="k24" cx="435.9" cy="366.6"/><circle class="k23" cx="596.7" cy="408.6"/><circle class="k31" cx="404.9" cy="415.5"/><circle class="k17" cx="684.7" cy="353.9"/><circle class="k16" cx="668.9" cy="603.3"/><circle class="k27" cx="548.2" cy="412.7"/><circle class="k26" cx="434.3" cy="356.4"/><circle class="k17" cx="437.2" cy="520.9"/><circle class="k16" cx="721.2" cy="410.8"/><circle class="k14" cx="660.8" cy="442.1"/><circle class="k31" cx="611.7" cy="362.0"/><circle class="k22" cx="846.6" cy="350.5"/><circle class="k16" cx="599.8" cy="545.7"/><circle class="k15" cx="598.9" cy="547.3"/><circle class="k24" cx="587.4" cy="532.7"/><circle class="k24" cx="510.1" cy="459.1"/><circle class="k35" cx="433.3" cy="449.5"/><circle class="k15" cx="617.1" cy="414.3"/><circle class="k6" cx="786.2" cy="377.3"/><circle class="k31" cx="527.8" cy="548.2"/><circle class="k33" cx="275.1" cy="584.6"/><circle class="k14" cx="549.9" cy="440.3"/><circle class="k18" cx="730.6" cy="386.0"/><circle class="k19" cx="765.1" cy="491.7"/><circle class="k12" cx="648.7" cy="465.5"/><circle class="k33" cx="336.1" cy="536.9"/><circle class="k12" cx="894.0" cy="503.0"/><circle class="k24" cx="282.4" cy="453.2"/><circle class="k28" cx="471.8" cy="340.7"/><circle class="k35" cx="436.4" cy="365.5"/><circle class="k11" cx="673.0" cy="492.3"/><circle class="k24" cx="319.2" cy="386.6"/><circle class="k16" cx="720.3" cy="349.7"/><circle class="k4" cx="833.7" cy="395.1"/><circle class="k30" cx="535.8" cy="509.9"/><circle class="k26" cx="416.8" cy="578.8"/><circle class="k14" cx="266.8" cy="480.0"/><circle class="k13" cx="556.2" cy="538.5"/><circle class="k27" cx="284.0" cy="422.8"/><circle class="k23" cx="633.1" cy="331.9"/><circle class="k23" cx="432.1" cy="519.5"/><circle class="k17" cx="733.2" cy="592.5"/><circle class="k28" cx="630.4" cy="467.9"/><circle class="k24" cx="431.5" cy="395.6"/><circle class="k15" cx="706.0" cy="453.4"/><circle class="k27" cx="296.5" cy="420.8"/><circle class="k6" cx="824.1" cy="435.6"/><circle class="k14" cx="645.8" cy="456.7"/><circle class="k13" cx="764.0" cy="487.2"/><circle class="k32" cx="272.6" cy="407.3"/><circle class="k33" cx="437.4" cy="444.0"/><circle class="k18" cx="781.9" cy="382.1"/><circle class="k15" cx="461.5" cy="487.1"/><circle class="k18" cx="302.6" cy="411.7"/><circle class="k13" cx="454.5" cy="528.2"/><circle class="k13" cx="500.9" cy="395.3"/><circle class="k21" cx="285.0" cy="456.0"/><circle class="k34" cx="288.2" cy="507.6"/><circle class="k30" cx="545.3" cy="534.2"/><circle class="k13" cx="689.2" cy="439.4"/><circle class="k23" cx="691.4" cy="634.6"/><circle class="k18" cx="845.7" cy="264.9"/><circle class="k15" cx="726.1" cy="456.5"/><circle class="k25" cx="376.4" cy="473.0"/><circle class="k18" cx="591.8" cy="490.8"/><circle class="k18" cx="657.6" cy="437.4"/><circle class="k16" cx="771.8" cy="368.9"/><circle class="k12" cx="572.4" cy="452.6"/><circle class="k29" cx="424.7" cy="541.4"/><circle class="k15" cx="760.1" cy="359.6"/><circle class="k16" cx="286.2" cy="524.6"/><circle class="k12" cx="537.0" cy="493.2"/><circle class="k15" cx="874.0" cy="487.3"/><circle class="k15" cx="522.4" cy="592.6"/><circle class="k28" cx="394.4" cy="453.5"/><circle class="k23" cx="598.4" cy="408.4"/><circle class="k18" cx="650.3" cy="384.4"/><circle class="k28" cx="485.8" cy="337.4"/><circle class="k32" cx="450.7" cy="366.4"/><circle class="k32" cx="331.1" cy="404.9"/><circle class="k33" cx="422.5" cy="406.5"/><circle class="k30" cx="492.5" cy="429.5"/><circle class="k14" cx="615.5" cy="352.0"/><circle class="k14" cx="505.8" cy="486.4"/><circle class="k25" cx="550.4" cy="565.5"/><circle class="k16" cx="770.8" cy="410.3"/><circle class="k18" cx="619.8" cy="557.8"/><circle class="k16" cx="704.5" cy="515.1"/><circle class="k24" cx="362.8" cy="410.3"/><circle class="k26" cx="738.5" cy="358.6"/><circle class="k25" cx="467.3" cy="464.3"/><circle class="k19" cx="656.8" cy="445.4"/><circle class="k15" cx="648.4" cy="353.7"/><circle class="k31" cx="632.0" cy="442.5"/><circle class="k15" cx="579.9" cy="317.3"/><circle class="k13" cx="805.7" cy="443.6"/><circle class="k17" cx="607.5" cy="611.7"/><circle class="k23" cx="625.7" cy="341.7"/><circle class="k34" cx="257.9" cy="515.4"/><circle class="k30" cx="526.4" cy="496.7"/><circle class="k1" cx="727.1" cy="337.1"/><circle class="k19" cx="718.3" cy="423.9"/><circle class="k18" cx="748.5" cy="469.2"/><circle class="k15" cx="472.4" cy="502.6"/><circle class="k17" cx="778.8" cy="509.9"/><circle class="k21" cx="435.9" cy="389.8"/><circle class="k33" cx="329.7" cy="436.4"/><circle class="k15" cx="477.7" cy="410.8"/><circle class="k13" cx="706.1" cy="396.6"/><circle class="k14" cx="745.9" cy="484.8"/><circle class="k10" cx="900.1" cy="497.1"/><circle class="k13" cx="688.0" cy="349.7"/><circle class="k27" cx="384.5" cy="405.3"/><circle class="k16" cx="644.6" cy="436.8"/><circle class="k30" cx="338.8" cy="397.1"/><circle class="k27" cx="564.8" cy="480.9"/><circle class="k11" cx="835.5" cy="449.1"/><circle class="k26" cx="603.0" cy="309.4"/><circle class="k19" cx="596.7" cy="383.0"/><circle class="k0" cx="759.3" cy="436.6"/><circle class="k11" cx="560.5" cy="535.2"/><circle class="k18" cx="549.0" cy="530.7"/><circle class="k26" cx="612.1" cy="330.2"/><circle class="k23" cx="621.0" cy="511.9"/><circle class="k14" cx="799.9" cy="472.5"/><circle class="k15" cx="851.9" cy="458.4"/><circle class="k31" cx="705.0" cy="337.6"/><circle class="k13" cx="841.3" cy="451.0"/><circle class="k17" cx="763.0" cy="330.3"/><circle class="k22" cx="262.3" cy="448.0"/><circle class="k21" cx="299.5" cy="446.8"/><circle class="k19" cx="412.5" cy="556.5"/><circle class="k21" cx="527.0" cy="580.7"/><circle class="k15" cx="257.0" cy="378.4"/><circle class="k14" cx="753.2" cy="508.8"/><circle class="k17" cx="568.1" cy="261.1"/><circle class="k25" cx="660.3" cy="317.6"/><circle class="k25" cx="351.2" cy="513.9"/><circle class="k28" cx="485.2" cy="506.5"/><circle class="k12" cx="606.1" cy="451.1"/><circle class="k13" cx="695.9" cy="429.4"/><circle class="k18" cx="916.5" cy="488.8"/><circle class="k27" cx="318.4" cy="313.9"/><circle class="k17" cx="331.2" cy="487.6"/><circle class="k13" cx="685.5" cy="501.7"/><circle class="k35" cx="444.4" cy="491.1"/><circle class="k30" cx="498.4" cy="542.2"/><circle class="k33" cx="447.4" cy="442.9"/><circle class="k15" cx="256.9" cy="473.3"/><circle class="k17" cx="698.9" cy="409.1"/><circle class="k16" cx="624.9" cy="350.8"/><circle class="k18" cx="856.3" cy="467.6"/><circle class="k17" cx="458.5" cy="541.9"/><circle class="k17" cx="324.3" cy="450.5"/><circle class="k15" cx="603.9" cy="277.6"/><circle class="k14" cx="861.0" cy="257.5"/><circle class="k14" cx="668.8" cy="497.0"/><circle class="k4" cx="713.2" cy="439.8"/><circle class="k33" cx="341.0" cy="384.4"/><circle class="k16" cx="700.8" cy="364.1"/><circle class="k13" cx="710.5" cy="489.2"/><circle class="k33" cx="656.8" cy="308.6"/><circle class="k16" cx="665.7" cy="507.0"/><circle class="k33" cx="596.0" cy="335.3"/><circle class="k33" cx="296.1" cy="434.6"/><circle class="k27" cx="371.1" cy="445.5"/><circle class="k12" cx="572.9" cy="527.0"/><circle class="k3" cx="673.5" cy="481.9"/><circle class="k28" cx="322.3" cy="456.1"/><circle class="k13" cx="807.6" cy="435.8"/><circle class="k15" cx="727.5" cy="497.0"/><circle class="k18" cx="501.1" cy="548.9"/><circle class="k17" cx="720.4" cy="368.3"/><circle class="k17" cx="705.5" cy="600.7"/><circle class="k25" cx="624.3" cy="360.8"/><circle class="k29" cx="640.2" cy="581.8"/><circle class="k23" cx="401.5" cy="316.0"/><circle class="k11" cx="706.2" cy="524.0"/><circle class="k24" cx="366.3" cy="483.2"/><circle class="k17" cx="764.3" cy="513.9"/><circle class="k12" cx="741.5" cy="450.2"/><circle class="k18" cx="782.8" cy="567.4"/><circle class="k2" cx="860.7" cy="501.3"/><circle class="k12" cx="901.0" cy="430.0"/><circle class="k23" cx="697.8" cy="489.4"/><circle class="k11" cx="582.1" cy="459.2"/><circle class="k15" cx="901.2" cy="494.0"/><circle class="k30" cx="560.7" cy="434.6"/><circle class="k11" cx="821.7" cy="468.5"/><circle class="k27" cx="517.1" cy="362.0"/><circle class="k16" cx="725.3" cy="519.9"/><circle class="k27" cx="341.3" cy="443.3"/><circle class="k23" cx="425.7" cy="529.8"/><circle class="k21" cx="585.2" cy="520.9"/><circle class="k17" cx="645.2" cy="371.8"/><circle class="k32" cx="608.2" cy="401.9"/><circle class="k28" cx="377.8" cy="600.7"/><circle class="k19" cx="453.6" cy="440.6"/><circle class="k9" cx="713.7" cy="349.7"/><circle class="k21" cx="635.1" cy="535.3"/><circle class="k19" cx="604.2" cy="406.8"/><circle class="k12" cx="856.9" cy="434.1"/><circle class="k18" cx="665.8" cy="560.9"/><circle class="k25" cx="394.1" cy="339.3"/><circle class="k30" cx="522.3" cy="533.9"/><circle class="k17" cx="639.0" cy="531.8"/><circle class="k21" cx="887.4" cy="518.6"/><circle class="k12" cx="757.3" cy="418.8"/><circle class="k23" cx="531.6" cy="407.1"/><circle class="k18" cx="793.5" cy="341.0"/><circle class="k29" cx="623.8" cy="397.2"/><circle class="k1" cx="683.8" cy="487.2"/><circle class="k12" cx="653.5" cy="463.1"/><circle class="k23" cx="695.1" cy="392.3"/><circle class="k17" cx="690.3" cy="443.2"/><circle class="k23" cx="643.7" cy="220.1"/><circle class="k21" cx="619.5" cy="379.1"/><circle class="k20" cx="534.2" cy="458.6"/><circle class="k19" cx="568.3" cy="585.0"/><circle class="k13" cx="835.5" cy="595.3"/><circle class="k18" cx="795.2" cy="403.7"/><circle class="k35" cx="309.2" cy="529.4"/><circle class="k12" cx="319.0" cy="437.1"/><circle class="k16" cx="737.2" cy="543.0"/><circle class="k34" cx="423.7" cy="315.5"/><circle class="k14" cx="663.2" cy="375.1"/><circle class="k21" cx="454.1" cy="479.8"/><circle class="k27" cx="523.2" cy="470.0"/><circle class="k13" cx="879.6" cy="481.7"/><circle class="k29" cx="425.7" cy="487.4"/><circle class="k30" cx="344.4" cy="412.4"/><circle class="k16" cx="471.8" cy="397.3"/><circle class="k15" cx="745.8" cy="356.0"/><circle class="k24" cx="367.9" cy="482.0"/><circle class="k12" cx="636.7" cy="362.3"/><circle class="k30" cx="495.3" cy="523.6"/><circle class="k24" cx="629.3" cy="383.9"/><circle class="k19" cx="880.3" cy="516.9"/><circle class="k16" cx="761.3" cy="489.1"/><circle class="k18" cx="593.1" cy="513.6"/><circle class="k30" cx="403.1" cy="442.3"/><circle class="k12" cx="511.6" cy="535.0"/><circle class="k22" cx="479.2" cy="306.6"/><circle class="k11" cx="736.6" cy="474.7"/><circle class="k12" cx="750.1" cy="310.7"/><circle class="k29" cx="517.8" cy="342.9"/><circle class="k19" cx="666.7" cy="589.8"/><circle class="k17" cx="748.3" cy="353.8"/><circle class="k33" cx="485.8" cy="407.6"/><circle class="k7" cx="677.0" cy="634.6"/><circle class="k21" cx="490.2" cy="503.9"/><circle class="k30" cx="457.4" cy="390.9"/><circle class="k29" cx="371.4" cy="423.9"/><circle class="k27" cx="498.5" cy="486.7"/><circle class="k25" cx="484.6" cy="432.8"/><circle class="k17" cx="804.2" cy="459.0"/><circle class="k16" cx="466.6" cy="592.8"/><circle class="k15" cx="622.5" cy="323.5"/><circle class="k16" cx="293.2" cy="410.3"/><circle class="k17" cx="633.7" cy="461.4"/><circle class="k25" cx="496.0" cy="381.0"/><circle class="k19" cx="741.1" cy="430.1"/><circle class="k11" cx="765.4" cy="464.7"/><circle class="k2" cx="759.3" cy="443.1"/><circle class="k15" cx="666.7" cy="377.8"/><circle class="k18" cx="782.0" cy="486.7"/><circle class="k23" cx="565.5" cy="375.2"/><circle class="k2" cx="776.4" cy="436.6"/><circle class="k14" cx="534.5" cy="466.4"/><circle class="k23" cx="575.1" cy="370.2"/><circle class="k34" cx="625.7" cy="359.5"/><circle class="k29" cx="598.6" cy="675.1"/><circle class="k27" cx="297.9" cy="427.3"/><circle class="k24" cx="540.8" cy="361.6"/><circle class="k22" cx="363.2" cy="418.0"/><circle class="k25" cx="568.0" cy="468.3"/><circle class="k31" cx="263.8" cy="401.6"/><circle class="k30" cx="378.6" cy="525.1"/><circle class="k17" cx="787.7" cy="449.3"/><circle class="k33" cx="425.7" cy="222.4"/><circle class="k25" cx="324.6" cy="429.4"/><circle class="k16" cx="471.0" cy="521.0"/><circle class="k12" cx="485.5" cy="387.5"/><circle class="k16" cx="784.7" cy="383.0"/><circle class="k17" cx="599.6" cy="335.3"/><circle class="k18" cx="843.5" cy="425.3"/><circle class="k15" cx="682.3" cy="428.6"/><circle class="k13" cx="847.0" cy="619.4"/><circle class="k23" cx="346.5" cy="432.8"/><circle class="k34" cx="363.8" cy="473.5"/><circle class="k32" cx="365.8" cy="432.0"/><circle class="k18" cx="786.1" cy="494.9"/><circle class="k18" cx="753.8" cy="392.5"/><circle class="k16" cx="494.7" cy="472.5"/><circle class="k26" cx="614.5" cy="379.6"/><circle class="k26" cx="456.9" cy="570.8"/><circle class="k15" cx="810.0" cy="412.7"/><circle class="k17" cx="738.5" cy="334.1"/><circle class="k18" cx="808.9" cy="377.4"/><circle class="k19" cx="717.6" cy="524.3"/><circle class="k32" cx="271.8" cy="487.2"/><circle class="k27" cx="579.0" cy="679.5"/><circle class="k17" cx="855.4" cy="455.0"/><circle class="k9" cx="777.2" cy="378.0"/><circle class="k12" cx="584.7" cy="575.2"/><circle class="k2" cx="840.3" cy="511.4"/><circle class="k23" cx="271.3" cy="412.6"/><circle class="k27" cx="534.2" cy="375.2"/><circle class="k27" cx="530.9" cy="373.5"/><circle class="k17" cx="675.5" cy="536.4"/><circle class="k19" cx="646.2" cy="520.2"/><circle class="k23" cx="326.7" cy="459.6"/><circle class="k11" cx="863.7" cy="484.4"/><circle class="k22" cx="361.8" cy="410.5"/><circle class="k11" cx="785.7" cy="390.0"/><circle class="k17" cx="470.1" cy="385.0"/><circle class="k19" cx="644.1" cy="481.7"/><circle class="k30" cx="324.8" cy="518.7"/><circle class="k16" cx="784.8" cy="350.8"/><circle class="k14" cx="701.0" cy="410.5"/><circle class="k22" cx="335.8" cy="414.3"/><circle class="k23" cx="463.3" cy="528.9"/><circle class="k12" cx="661.0" cy="439.4"/><circle class="k24" cx="651.0" cy="535.3"/><circle class="k8" cx="656.0" cy="513.4"/><circle class="k28" cx="371.9" cy="378.9"/><circle class="k25" cx="276.6" cy="543.9"/><circle class="k16" cx="553.4" cy="490.2"/><circle class="k26" cx="265.1" cy="388.8"/><circle class="k25" cx="522.5" cy="475.9"/><circle class="k23" cx="238.2" cy="391.4"/><circle class="k15" cx="796.7" cy="430.8"/><circle class="k14" cx="648.2" cy="443.9"/><circle class="k24" cx="859.6" cy="418.4"/><circle class="k13" cx="891.3" cy="498.8"/><circle class="k21" cx="546.4" cy="460.8"/><circle class="k23" cx="608.7" cy="512.1"/><circle class="k15" cx="641.3" cy="471.0"/><circle class="k35" cx="301.9" cy="507.4"/><circle class="k11" cx="677.8" cy="483.4"/><circle class="k22" cx="562.1" cy="597.2"/><circle class="k25" cx="348.3" cy="511.4"/><circle class="k16" cx="517.8" cy="559.2"/><circle class="k24" cx="595.7" cy="594.8"/><circle class="k15" cx="625.7" cy="477.4"/><circle class="k25" cx="304.4" cy="484.9"/><circle class="k18" cx="451.9" cy="508.7"/><circle class="k28" cx="434.1" cy="249.0"/><circle class="k7" cx="829.9" cy="273.1"/><circle class="k32" cx="396.3" cy="444.2"/><circle class="k18" cx="331.6" cy="594.5"/><circle class="k20" cx="417.3" cy="405.2"/><circle class="k24" cx="666.1" cy="662.1"/><circle class="k27" cx="513.7" cy="409.8"/><circle class="k15" cx="567.3" cy="451.7"/><circle class="k14" cx="597.7" cy="481.9"/><circle class="k18" cx="407.1" cy="515.4"/><circle class="k25" cx="623.9" cy="554.4"/><circle class="k18" cx="571.6" cy="325.2"/><circle class="k18" cx="587.0" cy="514.8"/><circle class="k11" cx="454.4" cy="540.3"/><circle class="k12" cx="783.3" cy="447.1"/><circle class="k30" cx="629.2" cy="392.8"/><circle class="k18" cx="616.4" cy="477.7"/><circle class="k28" cx="332.8" cy="492.0"/><circle class="k16" cx="776.5" cy="579.1"/><circle class="k12" cx="755.6" cy="327.4"/><circle class="k19" cx="311.0" cy="508.9"/><circle class="k19" cx="403.0" cy="416.3"/><circle class="k8" cx="676.4" cy="563.1"/><circle class="k15" cx="665.2" cy="413.0"/><circle class="k16" cx="886.0" cy="455.8"/><circle class="k12" cx="687.6" cy="481.5"/><circle class="k19" cx="652.3" cy="470.6"/><circle class="k18" cx="602.8" cy="357.2"/><circle class="k20" cx="853.6" cy="586.9"/><circle class="k25" cx="304.3" cy="439.3"/><circle class="k22" cx="380.1" cy="555.4"/><circle class="k18" cx="881.6" cy="377.8"/><circle class="k23" cx="294.7" cy="434.7"/><circle class="k16" cx="728.4" cy="381.6"/><circle class="k27" cx="329.2" cy="345.9"/><circle class="k24" cx="321.3" cy="536.5"/><circle class="k20" cx="603.3" cy="570.5"/><circle class="k12" cx="591.6" cy="398.1"/><circle class="k13" cx="829.1" cy="507.6"/><circle class="k21" cx="503.3" cy="357.7"/><circle class="k31" cx="477.5" cy="461.0"/><circle class="k16" cx="675.0" cy="347.6"/><circle class="k12" cx="806.2" cy="562.9"/><circle class="k18" cx="309.5" cy="495.2"/><circle class="k16" cx="448.6" cy="330.3"/><circle class="k17" cx="414.3" cy="361.5"/><circle class="k18" cx="678.6" cy="422.8"/><circle class="k14" cx="557.2" cy="459.7"/><circle class="k2" cx="842.3" cy="590.4"/><circle class="k16" cx="498.6" cy="363.1"/><circle class="k17" cx="733.3" cy="489.7"/><circle class="k31" cx="517.2" cy="326.6"/><circle class="k16" cx="639.7" cy="574.7"/><circle class="k22" cx="581.3" cy="619.4"/><circle class="k13" cx="869.5" cy="436.6"/><circle class="k16" cx="644.8" cy="406.7"/><circle class="k30" cx="294.2" cy="442.7"/><circle class="k22" cx="259.3" cy="390.9"/><circle class="k22" cx="428.4" cy="382.5"/><circle class="k15" cx="762.1" cy="381.2"/><circle class="k18" cx="642.2" cy="326.1"/><circle class="k19" cx="634.9" cy="434.9"/><circle class="k17" cx="633.2" cy="539.9"/><circle class="k16" cx="858.4" cy="490.2"/><circle class="k17" cx="537.6" cy="380.4"/><circle class="k26" cx="432.0" cy="512.0"/><circle class="k16" cx="703.1" cy="545.7"/><circle class="k24" cx="239.1" cy="533.6"/><circle class="k18" cx="520.8" cy="324.8"/><circle class="k14" cx="904.7" cy="419.1"/><circle class="k34" cx="446.5" cy="415.7"/><circle class="k29" cx="414.3" cy="393.0"/><circle class="k6" cx="804.5" cy="365.2"/><circle class="k24" cx="633.9" cy="520.3"/><circle class="k18" cx="657.5" cy="564.6"/><circle class="k19" cx="720.7" cy="568.1"/><circle class="k19" cx="790.5" cy="459.1"/><circle class="k22" cx="654.9" cy="539.1"/><circle class="k35" cx="595.5" cy="521.3"/><circle class="k11" cx="662.8" cy="517.9"/><circle class="k30" cx="385.5" cy="494.0"/><circle class="k34" cx="529.5" cy="488.6"/><circle class="k25" cx="521.0" cy="449.5"/><circle class="k32" cx="602.7" cy="329.8"/><circle class="k28" cx="262.6" cy="486.5"/><circle class="k19" cx="711.2" cy="386.9"/><circle class="k15" cx="675.4" cy="498.3"/><circle class="k15" cx="297.5" cy="386.2"/><circle class="k18" cx="500.6" cy="363.9"/><circle class="k17" cx="262.4" cy="500.1"/><circle class="k12" cx="688.9" cy="497.8"/><circle class="k17" cx="721.9" cy="503.4"/><circle class="k14" cx="789.0" cy="491.7"/><circle class="k29" cx="376.6" cy="471.9"/><circle class="k26" cx="439.1" cy="498.0"/><circle class="k33" cx="427.1" cy="463.7"/><circle class="k16" cx="730.5" cy="475.6"/><circle class="k25" cx="604.7" cy="564.8"/><circle class="k12" cx="736.7" cy="530.9"/><circle class="k30" cx="324.1" cy="401.3"/><circle class="k23" cx="666.0" cy="233.8"/><circle class="k16" cx="792.6" cy="536.8"/><circle class="k34" cx="265.4" cy="460.0"/><circle class="k24" cx="484.6" cy="369.5"/><circle class="k25" cx="386.9" cy="437.0"/><circle class="k16" cx="612.7" cy="383.9"/><circle class="k18" cx="592.3" cy="564.2"/><circle class="k12" cx="796.7" cy="365.6"/><circle class="k23" cx="524.7" cy="676.0"/><circle class="k16" cx="258.5" cy="387.0"/><circle class="k24" cx="574.8" cy="679.5"/><circle class="k17" cx="650.4" cy="355.1"/><circle class="k18" cx="776.1" cy="591.5"/><circle class="k25" cx="862.0" cy="552.0"/><circle class="k15" cx="764.8" cy="503.8"/><circle class="k15" cx="607.8" cy="420.3"/><circle class="k20" cx="492.3" cy="325.2"/><circle class="k18" cx="635.6" cy="518.6"/><circle class="k22" cx="560.8" cy="503.8"/><circle class="k16" cx="735.1" cy="598.6"/><circle class="k22" cx="256.5" cy="465.3"/><circle class="k15" cx="790.1" cy="568.3"/><circle class="k34" cx="362.5" cy="523.0"/><circle class="k17" cx="575.3" cy="492.0"/><circle class="k21" cx="682.0" cy="477.5"/><circle class="k24" cx="339.6" cy="533.0"/><circle class="k17" cx="821.4" cy="481.3"/><circle class="k18" cx="466.5" cy="531.2"/><circle class="k33" cx="412.6" cy="399.3"/><circle class="k19" cx="666.0" cy="458.7"/><circle class="k34" cx="527.7" cy="444.4"/><circle class="k18" cx="523.5" cy="555.8"/><circle class="k19" cx="364.9" cy="509.1"/><circle class="k34" cx="634.9" cy="449.3"/><circle class="k17" cx="693.7" cy="319.8"/><circle class="k32" cx="315.5" cy="482.2"/><circle class="k13" cx="798.4" cy="429.1"/><circle class="k31" cx="477.6" cy="387.1"/><circle class="k35" cx="519.3" cy="526.1"/><circle class="k21" cx="507.1" cy="327.0"/><circle class="k33" cx="361.2" cy="560.3"/><circle class="k14" cx="913.8" cy="482.8"/><circle class="k17" cx="650.0" cy="407.4"/><circle class="k17" cx="598.4" cy="499.4"/><circle class="k30" cx="321.7" cy="440.0"/><circle class="k26" cx="421.4" cy="368.8"/><circle class="k15" cx="726.0" cy="403.6"/><circle class="k22" cx="707.8" cy="516.1"/><circle class="k31" cx="345.6" cy="388.0"/><circle class="k26" cx="522.1" cy="315.2"/><circle class="k17" cx="622.1" cy="568.5"/><circle class="k15" cx="667.1" cy="498.3"/><circle class="k6" cx="732.1" cy="461.4"/><circle class="k29" cx="390.4" cy="360.2"/><circle class="k30" cx="385.5" cy="409.8"/><circle class="k26" cx="376.5" cy="337.0"/><circle class="k24" cx="754.0" cy="451.8"/><circle class="k17" cx="396.9" cy="429.8"/><circle class="k18" cx="774.7" cy="440.5"/><circle class="k15" cx="699.8" cy="529.6"/><circle class="k21" cx="428.2" cy="438.6"/><circle class="k13" cx="947.1" cy="439.9"/><circle class="k15" cx="783.8" cy="560.7"/><circle class="k19" cx="683.9" cy="445.6"/><circle class="k17" cx="486.4" cy="468.9"/><circle class="k12" cx="836.0" cy="305.2"/><circle class="k19" cx="570.0" cy="439.9"/><circle class="k34" cx="481.4" cy="525.2"/><circle class="k15" cx="898.3" cy="538.9"/><circle class="k17" cx="791.9" cy="412.1"/><circle class="k12" cx="727.6" cy="543.6"/><circle class="k17" cx="833.7" cy="398.7"/><circle class="k14" cx="657.2" cy="552.9"/><circle class="k15" cx="702.6" cy="365.1"/><circle class="k16" cx="555.7" cy="538.2"/><circle class="k16" cx="718.9" cy="358.9"/><circle class="k16" cx="882.9" cy="471.9"/><circle class="k28" cx="494.6" cy="335.0"/><circle class="k30" cx="365.7" cy="426.5"/><circle class="k17" cx="657.5" cy="383.4"/><circle class="k34" cx="565.5" cy="373.6"/><circle class="k12" cx="818.8" cy="381.9"/><circle class="k16" cx="663.8" cy="588.8"/><circle class="k22" cx="605.6" cy="383.1"/><circle class="k11" cx="614.5" cy="365.2"/><circle class="k24" cx="276.9" cy="512.8"/><circle class="k16" cx="611.4" cy="420.7"/><circle class="k33" cx="283.6" cy="484.5"/><circle class="k17" cx="794.4" cy="524.8"/><circle class="k18" cx="819.0" cy="514.4"/><circle class="k14" cx="302.9" cy="569.4"/><circle class="k12" cx="761.8" cy="379.4"/><circle class="k13" cx="468.0" cy="584.1"/><circle class="k17" cx="668.5" cy="489.9"/><circle class="k22" cx="480.2" cy="558.9"/><circle class="k17" cx="626.7" cy="364.2"/><circle class="k12" cx="641.6" cy="463.4"/><circle class="k32" cx="473.7" cy="392.6"/><circle class="k25" cx="624.5" cy="375.6"/><circle class="k26" cx="407.9" cy="578.3"/><circle class="k12" cx="741.5" cy="516.8"/><circle class="k11" cx="696.2" cy="492.6"/><circle class="k12" cx="483.8" cy="579.1"/><circle class="k25" cx="361.8" cy="360.7"/><circle class="k13" cx="807.3" cy="459.5"/><circle class="k8" cx="661.6" cy="542.1"/><circle class="k11" cx="600.5" cy="403.8"/><circle class="k3" cx="727.9" cy="353.7"/><circle class="k26" cx="484.2" cy="410.8"/><circle class="k18" cx="508.7" cy="322.4"/><circle class="k21" cx="529.2" cy="400.7"/><circle class="k24" cx="257.7" cy="476.8"/><circle class="k30" cx="443.9" cy="346.9"/><circle class="k13" cx="624.3" cy="513.2"/><circle class="k27" cx="416.4" cy="397.1"/><circle class="k18" cx="771.3" cy="391.8"/><circle class="k15" cx="467.8" cy="585.8"/><circle class="k29" cx="356.9" cy="456.8"/><circle class="k28" cx="554.1" cy="474.4"/><circle class="k28" cx="440.7" cy="410.0"/><circle class="k25" cx="523.6" cy="550.1"/><circle class="k14" cx="525.1" cy="414.7"/><circle class="k26" cx="299.9" cy="402.0"/><circle class="k14" cx="787.9" cy="421.7"/><circle class="k18" cx="555.8" cy="404.1"/><circle class="k14" cx="725.2" cy="526.1"/><circle class="k5" cx="653.9" cy="293.9"/><circle class="k15" cx="495.6" cy="339.4"/><circle class="k17" cx="711.3" cy="427.7"/><circle class="k19" cx="739.1" cy="364.9"/><circle class="k18" cx="582.1" cy="542.8"/><circle class="k2" cx="654.0" cy="370.3"/><circle class="k23" cx="493.4" cy="337.2"/><circle class="k34" cx="401.3" cy="498.0"/><circle class="k34" cx="570.3" cy="395.4"/><circle class="k33" cx="439.5" cy="554.2"/><circle class="k30" cx="410.5" cy="382.0"/><circle class="k13" cx="743.8" cy="379.6"/><circle class="k15" cx="715.6" cy="431.9"/><circle class="k19" cx="789.3" cy="445.5"/><circle class="k26" cx="367.1" cy="527.7"/><circle class="k13" cx="825.3" cy="498.5"/><circle class="k25" cx="408.5" cy="397.5"/><circle class="k19" cx="673.7" cy="321.4"/><circle class="k23" cx="467.8" cy="281.3"/><circle class="k14" cx="727.2" cy="481.4"/><circle class="k15" cx="595.2" cy="541.6"/><circle class="k22" cx="603.0" cy="440.9"/><circle class="k8" cx="674.6" cy="475.5"/><circle class="k35" cx="300.2" cy="490.9"/><circle class="k11" cx="746.1" cy="386.0"/><circle class="k22" cx="235.7" cy="501.0"/><circle class="k12" cx="785.1" cy="464.9"/><circle class="k21" cx="447.4" cy="363.5"/><circle class="k24" cx="453.8" cy="567.3"/><circle class="k32" cx="627.9" cy="400.0"/><circle class="k19" cx="566.5" cy="436.2"/><circle class="k12" cx="624.1" cy="545.5"/><circle class="k16" cx="829.3" cy="401.8"/><circle class="k30" cx="267.2" cy="505.4"/><circle class="k13" cx="494.6" cy="517.9"/><circle class="k25" cx="554.0" cy="492.8"/><circle class="k27" cx="258.1" cy="392.2"/><circle class="k32" cx="329.3" cy="467.4"/><circle class="k27" cx="468.6" cy="488.3"/><circle class="k23" cx="301.2" cy="594.5"/><circle class="k31" cx="452.3" cy="312.2"/><circle class="k28" cx="575.7" cy="443.6"/><circle class="k33" cx="403.7" cy="513.8"/><circle class="k23" cx="297.1" cy="495.7"/><circle class="k15" cx="748.1" cy="410.1"/><circle class="k19" cx="725.3" cy="547.8"/><circle class="k24" cx="642.6" cy="323.5"/><circle class="k16" cx="574.3" cy="467.3"/><circle class="k21" cx="690.1" cy="411.9"/><circle class="k27" cx="394.2" cy="362.1"/><circle class="k18" cx="782.7" cy="475.4"/><circle class="k23" cx="635.6" cy="646.4"/><circle class="k29" cx="420.3" cy="490.4"/><circle class="k16" cx="335.5" cy="398.4"/><circle class="k18" cx="370.4" cy="346.0"/><circle class="k25" cx="525.5" cy="401.0"/><circle class="k15" cx="641.1" cy="353.1"/><circle class="k15" cx="677.5" cy="375.9"/><circle class="k30" cx="396.4" cy="578.6"/><circle class="k17" cx="771.2" cy="358.3"/><circle class="k17" cx="477.2" cy="369.0"/><circle class="k26" cx="306.6" cy="429.6"/><circle class="k17" cx="679.2" cy="398.4"/><circle class="k17" cx="962.7" cy="349.0"/><circle class="k13" cx="654.2" cy="497.8"/><circle class="k11" cx="765.2" cy="511.2"/><circle class="k29" cx="472.8" cy="452.3"/><circle class="k17" cx="766.2" cy="349.7"/><circle class="k24" cx="597.7" cy="295.8"/><circle class="k24" cx="610.1" cy="578.6"/><circle class="k32" cx="369.3" cy="546.2"/><circle class="k7" cx="683.7" cy="400.2"/><circle class="k27" cx="375.2" cy="614.6"/><circle class="k27" cx="440.4" cy="488.8"/><circle class="k15" cx="753.7" cy="350.1"/><circle class="k32" cx="508.3" cy="388.2"/><circle class="k18" cx="475.2" cy="505.4"/><circle class="k32" cx="259.8" cy="365.4"/><circle class="k25" cx="389.3" cy="438.6"/><circle class="k32" cx="451.2" cy="474.7"/><circle class="k29" cx="426.4" cy="493.2"/><circle class="k24" cx="714.5" cy="492.2"/><circle class="k23" cx="436.1" cy="430.2"/><circle class="k19" cx="599.0" cy="271.9"/><circle class="k12" cx="598.6" cy="431.0"/><circle class="k28" cx="276.2" cy="408.1"/><circle class="k33" cx="564.0" cy="334.0"/><circle class="k16" cx="535.6" cy="480.0"/><circle class="k15" cx="812.0" cy="494.0"/><circle class="k27" cx="389.2" cy="574.8"/><circle class="k15" cx="769.5" cy="511.5"/><circle class="k23" cx="693.4" cy="488.9"/><circle class="k26" cx="554.9" cy="436.0"/><circle class="k23" cx="745.4" cy="334.7"/><circle class="k30" cx="543.6" cy="414.3"/><circle class="k25" cx="872.0" cy="486.9"/><circle class="k15" cx="739.3" cy="440.0"/><circle class="k19" cx="677.0" cy="341.0"/><circle class="k16" cx="702.9" cy="496.8"/><circle class="k22" cx="467.8" cy="552.0"/><circle class="k35" cx="453.9" cy="414.2"/><circle class="k17" cx="761.4" cy="337.1"/><circle class="k24" cx="326.6" cy="416.7"/><circle class="k15" cx="675.8" cy="428.5"/><circle class="k19" cx="461.3" cy="567.6"/><circle class="k16" cx="613.4" cy="405.4"/><circle class="k14" cx="583.9" cy="430.5"/><circle class="k32" cx="539.3" cy="485.6"/><circle class="k32" cx="383.9" cy="498.6"/><circle class="k18" cx="638.4" cy="480.1"/><circle class="k13" cx="780.2" cy="468.2"/><circle class="k22" cx="587.0" cy="555.6"/><circle class="k18" cx="589.0" cy="268.8"/><circle class="k19" cx="866.0" cy="481.2"/><circle class="k14" cx="598.2" cy="320.5"/><circle class="k32" cx="287.6" cy="362.6"/><circle class="k20" cx="755.8" cy="524.5"/><circle class="k19" cx="708.5" cy="380.5"/><circle class="k25" cx="424.0" cy="600.5"/><circle class="k14" cx="863.2" cy="435.5"/><circle class="k24" cx="613.9" cy="643.3"/><circle class="k7" cx="813.2" cy="515.3"/><circle class="k13" cx="464.1" cy="580.4"/><circle class="k14" cx="851.8" cy="360.3"/><circle class="k23" cx="491.9" cy="557.5"/><circle class="k14" cx="752.5" cy="320.6"/><circle class="k23" cx="489.0" cy="514.8"/><circle class="k15" cx="639.5" cy="525.8"/><circle class="k19" cx="571.5" cy="560.5"/><circle class="k28" cx="470.9" cy="512.0"/><circle class="k16" cx="456.8" cy="513.0"/><circle class="k32" cx="322.8" cy="424.1"/><circle class="k24" cx="359.4" cy="510.0"/><circle class="k29" cx="546.1" cy="529.2"/><circle class="k19" cx="702.9" cy="434.3"/><circle class="k28" cx="284.2" cy="350.1"/><circle class="k17" cx="721.0" cy="393.3"/><circle class="k26" cx="567.2" cy="572.8"/><circle class="k32" cx="458.5" cy="389.6"/><circle class="k29" cx="282.6" cy="370.7"/><circle class="k33" cx="692.7" cy="328.7"/><circle class="k16" cx="555.9" cy="508.7"/><circle class="k15" cx="643.9" cy="497.8"/><circle class="k24" cx="700.4" cy="339.7"/><circle class="k18" cx="744.1" cy="394.0"/><circle class="k22" cx="620.2" cy="459.1"/><circle class="k13" cx="689.0" cy="463.9"/><circle class="k30" cx="321.2" cy="408.9"/><circle class="k29" cx="604.8" cy="370.2"/><circle class="k28" cx="337.8" cy="393.2"/><circle class="k22" cx="380.7" cy="411.2"/><circle class="k16" cx="734.4" cy="374.6"/><circle class="k21" cx="297.6" cy="409.5"/><circle class="k19" cx="698.5" cy="348.1"/><circle class="k27" cx="476.4" cy="529.9"/><circle class="k28" cx="396.4" cy="509.3"/><circle class="k28" cx="459.1" cy="430.8"/><circle class="k32" cx="543.9" cy="460.1"/><circle class="k15" cx="641.2" cy="431.7"/><circle class="k24" cx="367.5" cy="475.2"/><circle class="k22" cx="317.0" cy="503.3"/><circle class="k18" cx="718.8" cy="389.7"/><circle class="k34" cx="366.7" cy="431.6"/><circle class="k14" cx="713.5" cy="475.5"/><circle class="k21" cx="485.7" cy="537.1"/><circle class="k22" cx="606.2" cy="381.1"/><circle class="k15" cx="700.1" cy="438.5"/><circle class="k13" cx="647.7" cy="381.7"/><circle class="k24" cx="729.3" cy="649.0"/><circle class="k14" cx="862.3" cy="288.5"/><circle class="k13" cx="495.0" cy="363.0"/><circle class="k19" cx="609.1" cy="527.0"/><circle class="k18" cx="580.6" cy="430.1"/><circle class="k24" cx="464.4" cy="536.3"/><circle class="k33" cx="442.2" cy="409.0"/><circle class="k13" cx="550.9" cy="516.1"/><circle class="k25" cx="415.1" cy="362.8"/><circle class="k12" cx="546.5" cy="542.6"/><circle class="k30" cx="535.9" cy="576.7"/><circle class="k11" cx="746.0" cy="391.5"/><circle class="k27" cx="489.3" cy="387.7"/><circle class="k31" cx="315.6" cy="352.6"/><circle class="k16" cx="858.6" cy="439.4"/><circle class="k29" cx="497.3" cy="451.9"/><circle class="k23" cx="501.7" cy="541.0"/><circle class="k21" cx="532.9" cy="557.7"/><circle class="k16" cx="450.8" cy="331.0"/><circle class="k13" cx="837.0" cy="306.0"/><circle class="k25" cx="440.9" cy="506.9"/><circle class="k34" cx="518.4" cy="532.5"/><circle class="k22" cx="600.7" cy="392.9"/><circle class="k18" cx="664.8" cy="477.8"/><circle class="k15" cx="655.7" cy="281.8"/><circle class="k29" cx="445.6" cy="376.5"/><circle class="k14" cx="756.2" cy="472.0"/><circle class="k18" cx="539.1" cy="411.2"/><circle class="k13" cx="503.7" cy="530.6"/><circle class="k24" cx="414.5" cy="409.4"/><circle class="k18" cx="919.1" cy="400.5"/><circle class="k24" cx="448.1" cy="291.3"/><circle class="k15" cx="642.7" cy="375.5"/><circle class="k15" cx="651.9" cy="402.6"/><circle class="k17" cx="471.0" cy="391.7"/><circle class="k34" cx="612.4" cy="498.5"/><circle class="k16" cx="574.8" cy="519.9"/><circle class="k26" cx="569.0" cy="400.4"/><circle class="k20" cx="861.3" cy="487.3"/><circle class="k20" cx="510.2" cy="497.2"/><circle class="k33" cx="409.6" cy="490.1"/><circle class="k18" cx="506.6" cy="415.1"/><circle class="k16" cx="323.6" cy="372.4"/><circle class="k21" cx="425.5" cy="380.4"/><circle class="k18" cx="832.6" cy="404.0"/><circle class="k19" cx="671.0" cy="492.3"/><circle class="k23" cx="722.4" cy="543.5"/><circle class="k33" cx="540.9" cy="450.2"/><circle class="k15" cx="457.2" cy="527.4"/><circle class="k18" cx="729.1" cy="571.9"/><circle class="k24" cx="418.5" cy="312.3"/><circle class="k31" cx="363.0" cy="509.4"/><circle class="k32" cx="469.5" cy="534.2"/><circle class="k15" cx="652.2" cy="520.1"/><circle class="k18" cx="683.2" cy="349.0"/><circle class="k16" cx="603.9" cy="574.7"/><circle class="k18" cx="664.7" cy="365.6"/><circle class="k29" cx="270.1" cy="331.8"/><circle class="k25" cx="521.2" cy="457.7"/><circle class="k25" cx="499.4" cy="401.6"/><circle class="k13" cx="644.3" cy="383.1"/><circle class="k17" cx="359.3" cy="404.1"/><circle class="k19" cx="704.7" cy="567.8"/><circle class="k13" cx="555.4" cy="352.1"/><circle class="k11" cx="551.4" cy="571.5"/><circle class="k19" cx="564.8" cy="540.2"/><circle class="k19" cx="593.8" cy="496.7"/><circle class="k24" cx="436.6" cy="666.4"/><circle class="k17" cx="722.7" cy="442.2"/><circle class="k31" cx="387.7" cy="612.9"/><circle class="k17" cx="805.3" cy="454.2"/><circle class="k12" cx="860.4" cy="475.8"/><circle class="k20" cx="636.8" cy="354.9"/><circle class="k28" cx="507.6" cy="323.4"/><circle class="k16" cx="646.5" cy="399.8"/><circle class="k14" cx="633.3" cy="584.5"/><circle class="k17" cx="738.9" cy="382.3"/><circle class="k11" cx="628.6" cy="342.4"/><circle class="k23" cx="394.0" cy="434.6"/><circle class="k16" cx="890.7" cy="485.0"/><circle class="k15" cx="835.8" cy="424.0"/><circle class="k14" cx="874.1" cy="448.9"/><circle class="k24" cx="519.2" cy="488.0"/><circle class="k27" cx="631.3" cy="667.3"/><circle class="k22" cx="589.9" cy="655.1"/><circle class="k18" cx="664.4" cy="507.0"/><circle class="k20" cx="559.3" cy="341.8"/><circle class="k30" cx="395.6" cy="574.0"/><circle class="k27" cx="448.1" cy="358.0"/><circle class="k11" cx="647.6" cy="484.4"/><circle class="k19" cx="765.1" cy="451.5"/><circle class="k13" cx="852.4" cy="235.4"/><circle class="k19" cx="600.5" cy="548.8"/><circle class="k18" cx="534.3" cy="448.1"/><circle class="k33" cx="343.9" cy="497.5"/><circle class="k17" cx="576.3" cy="499.6"/><circle class="k16" cx="630.3" cy="603.9"/><circle class="k15" cx="681.6" cy="347.5"/><circle class="k13" cx="580.1" cy="512.8"/><circle class="k12" cx="590.7" cy="354.3"/><circle class="k14" cx="603.7" cy="387.6"/><circle class="k17" cx="540.5" cy="498.3"/><circle class="k33" cx="389.8" cy="387.1"/><circle class="k19" cx="736.1" cy="455.7"/><circle class="k16" cx="666.7" cy="506.1"/><circle class="k17" cx="643.5" cy="428.0"/><circle class="k16" cx="785.9" cy="504.4"/><circle class="k19" cx="536.1" cy="557.4"/><circle class="k18" cx="380.7" cy="572.3"/><circle class="k5" cx="905.3" cy="411.2"/><circle class="k13" cx="694.4" cy="501.2"/><circle class="k21" cx="515.3" cy="591.6"/><circle class="k12" cx="563.5" cy="502.9"/><circle class="k23" cx="695.6" cy="299.4"/><circle class="k12" cx="714.8" cy="519.3"/><circle class="k16" cx="683.3" cy="380.5"/><circle class="k29" cx="333.6" cy="585.2"/><circle class="k16" cx="505.4" cy="413.8"/><circle class="k32" cx="450.4" cy="286.4"/><circle class="k14" cx="544.0" cy="546.5"/><circle class="k22" cx="373.8" cy="412.1"/><circle class="k27" cx="444.9" cy="419.8"/><circle class="k19" cx="491.2" cy="364.1"/><circle class="k18" cx="733.0" cy="406.9"/><circle class="k15" cx="697.1" cy="438.1"/><circle class="k13" cx="276.6" cy="528.0"/><circle class="k16" cx="624.5" cy="378.5"/><circle class="k21" cx="274.4" cy="458.8"/><circle class="k15" cx="622.8" cy="378.1"/><circle class="k18" cx="572.6" cy="665.1"/><circle class="k27" cx="414.0" cy="476.1"/><circle class="k17" cx="665.2" cy="352.1"/><circle class="k25" cx="722.6" cy="480.6"/><circle class="k30" cx="533.4" cy="336.4"/><circle class="k31" cx="402.1" cy="532.5"/><circle class="k22" cx="259.5" cy="374.4"/><circle class="k18" cx="671.3" cy="425.2"/><circle class="k12" cx="461.1" cy="340.6"/><circle class="k30" cx="447.8" cy="381.6"/><circle class="k14" cx="820.2" cy="492.0"/><circle class="k33" cx="337.6" cy="371.7"/><circle class="k18" cx="761.7" cy="427.2"/><circle class="k30" cx="279.6" cy="507.3"/><circle class="k17" cx="493.1" cy="485.6"/><circle class="k16" cx="725.8" cy="512.7"/><circle class="k13" cx="561.4" cy="363.0"/><circle class="k2" cx="860.2" cy="519.6"/><circle class="k15" cx="884.1" cy="448.9"/><circle class="k31" cx="301.6" cy="496.3"/><circle class="k27" cx="275.3" cy="546.3"/><circle class="k11" cx="575.6" cy="368.6"/><circle class="k33" cx="477.1" cy="494.6"/><circle class="k19" cx="655.8" cy="348.4"/><circle class="k11" cx="809.2" cy="480.6"/><circle class="k14" cx="788.6" cy="423.0"/><circle class="k23" cx="603.0" cy="662.1"/><circle class="k15" cx="764.2" cy="557.2"/><circle class="k25" cx="607.5" cy="306.8"/><circle class="k31" cx="631.3" cy="358.4"/><circle class="k23" cx="227.9" cy="514.6"/><circle class="k15" cx="735.3" cy="365.4"/><circle class="k30" cx="592.1" cy="515.8"/><circle class="k24" cx="615.6" cy="261.1"/><circle class="k15" cx="412.1" cy="431.6"/><circle class="k27" cx="374.5" cy="422.1"/><circle class="k5" cx="799.4" cy="405.4"/><circle class="k12" cx="799.9" cy="242.2"/><circle class="k21" cx="586.7" cy="578.9"/><circle class="k13" cx="807.1" cy="447.0"/><circle class="k18" cx="682.2" cy="427.1"/><circle class="k15" cx="627.5" cy="370.5"/><circle class="k18" cx="696.4" cy="350.0"/><circle class="k21" cx="651.4" cy="517.7"/><circle class="k27" cx="421.0" cy="524.9"/><circle class="k33" cx="460.1" cy="441.6"/><circle class="k14" cx="680.6" cy="475.9"/><circle class="k19" cx="745.7" cy="352.2"/><circle class="k31" cx="305.6" cy="495.2"/><circle class="k35" cx="276.3" cy="356.5"/><circle class="k22" cx="372.6" cy="519.9"/><circle class="k17" cx="904.4" cy="453.8"/><circle class="k18" cx="853.8" cy="541.8"/><circle class="k17" cx="750.2" cy="459.0"/><circle class="k15" cx="661.0" cy="396.1"/><circle class="k33" cx="297.2" cy="503.1"/><circle class="k2" cx="776.5" cy="525.4"/><circle class="k16" cx="289.4" cy="464.6"/><circle class="k13" cx="748.4" cy="378.3"/><circle class="k15" cx="714.0" cy="287.1"/><circle class="k15" cx="586.2" cy="567.4"/><circle class="k22" cx="587.2" cy="395.4"/><circle class="k11" cx="418.3" cy="466.5"/><circle class="k28" cx="310.3" cy="617.2"/><circle class="k27" cx="364.9" cy="477.1"/><circle class="k14" cx="692.5" cy="467.7"/><circle class="k12" cx="271.4" cy="463.1"/><circle class="k15" cx="582.6" cy="553.8"/><circle class="k15" cx="703.3" cy="420.7"/><circle class="k31" cx="286.6" cy="517.2"/><circle class="k3" cx="814.2" cy="507.8"/><circle class="k19" cx="688.9" cy="530.5"/><circle class="k19" cx="571.4" cy="477.1"/><circle class="k14" cx="669.9" cy="366.4"/><circle class="k28" cx="401.7" cy="478.1"/><circle class="k15" cx="642.7" cy="506.3"/><circle class="k12" cx="626.3" cy="549.0"/><circle class="k28" cx="419.9" cy="386.9"/><circle class="k25" cx="263.9" cy="409.6"/><circle class="k3" cx="750.5" cy="463.9"/><circle class="k6" cx="865.9" cy="544.0"/><circle class="k33" cx="273.6" cy="454.6"/><circle class="k33" cx="277.8" cy="428.2"/><circle class="k16" cx="659.6" cy="411.1"/><circle class="k24" cx="347.7" cy="402.2"/><circle class="k23" cx="305.6" cy="493.3"/><circle class="k16" cx="649.6" cy="461.0"/><circle class="k15" cx="528.3" cy="327.5"/><circle class="k15" cx="678.3" cy="521.9"/><circle class="k26" cx="493.6" cy="476.2"/><circle class="k12" cx="634.0" cy="607.9"/><circle class="k32" cx="611.7" cy="433.3"/><circle class="k15" cx="474.7" cy="370.6"/><circle class="k21" cx="596.9" cy="420.8"/><circle class="k12" cx="608.0" cy="431.9"/><circle class="k15" cx="326.7" cy="389.5"/><circle class="k15" cx="647.0" cy="348.2"/><circle class="k25" cx="393.6" cy="485.9"/><circle class="k13" cx="668.8" cy="390.1"/><circle class="k22" cx="459.3" cy="495.3"/><circle class="k19" cx="674.7" cy="406.7"/><circle class="k28" cx="416.2" cy="379.3"/><circle class="k19" cx="405.8" cy="437.7"/><circle class="k12" cx="588.3" cy="315.2"/><circle class="k18" cx="782.5" cy="371.2"/><circle class="k26" cx="546.3" cy="596.4"/><circle class="k17" cx="535.7" cy="492.0"/><circle class="k15" cx="455.0" cy="388.5"/><circle class="k16" cx="678.8" cy="461.9"/><circle class="k3" cx="695.7" cy="509.3"/><circle class="k20" cx="786.6" cy="417.2"/><circle class="k22" cx="595.6" cy="431.1"/><circle class="k32" cx="301.5" cy="494.9"/><circle class="k21" cx="287.2" cy="373.7"/><circle class="k17" cx="617.1" cy="528.1"/><circle class="k29" cx="473.6" cy="492.4"/><circle class="k22" cx="259.2" cy="383.2"/><circle class="k29" cx="262.6" cy="477.9"/><circle class="k18" cx="772.2" cy="589.7"/><circle class="k17" cx="627.9" cy="352.0"/><circle class="k29" cx="509.0" cy="527.3"/><circle class="k24" cx="419.9" cy="390.1"/><circle class="k23" cx="441.8" cy="352.6"/><circle class="k33" cx="347.1" cy="439.7"/><circle class="k19" cx="693.8" cy="513.3"/><circle class="k12" cx="586.3" cy="530.5"/><circle class="k29" cx="386.4" cy="473.3"/><circle class="k27" cx="509.7" cy="388.2"/><circle class="k18" cx="672.2" cy="330.5"/><circle class="k19" cx="775.9" cy="514.1"/><circle class="k35" cx="297.1" cy="398.3"/><circle class="k26" cx="731.1" cy="340.5"/><circle class="k16" cx="892.1" cy="447.8"/><circle class="k31" cx="685.7" cy="324.2"/><circle class="k17" cx="813.6" cy="369.0"/><circle class="k29" cx="389.9" cy="498.9"/><circle class="k34" cx="325.6" cy="486.6"/><circle class="k25" cx="368.9" cy="572.5"/><circle class="k12" cx="677.0" cy="495.5"/><circle class="k17" cx="709.8" cy="462.7"/><circle class="k11" cx="745.3" cy="320.0"/><circle class="k21" cx="277.7" cy="462.9"/><circle class="k33" cx="717.7" cy="341.7"/><circle class="k28" cx="474.6" cy="680.4"/><circle class="k32" cx="425.5" cy="456.5"/><circle class="k11" cx="795.1" cy="424.3"/><circle class="k25" cx="525.4" cy="382.1"/><circle class="k30" cx="294.3" cy="411.7"/><circle class="k19" cx="631.8" cy="311.2"/><circle class="k10" cx="799.3" cy="273.9"/><circle class="k12" cx="769.4" cy="451.7"/><circle class="k19" cx="308.5" cy="389.5"/><circle class="k18" cx="521.1" cy="364.5"/><circle class="k5" cx="833.8" cy="487.0"/><circle class="k4" cx="766.4" cy="376.4"/><circle class="k14" cx="770.6" cy="333.5"/><circle class="k17" cx="562.2" cy="553.0"/><circle class="k15" cx="671.7" cy="412.1"/><circle class="k12" cx="257.5" cy="411.0"/><circle class="k15" cx="533.6" cy="531.1"/><circle class="k15" cx="734.7" cy="491.3"/><circle class="k2" cx="720.9" cy="424.7"/><circle class="k26" cx="568.6" cy="531.3"/><circle class="k15" cx="710.6" cy="471.2"/><circle class="k24" cx="521.0" cy="427.8"/><circle class="k34" cx="485.1" cy="426.2"/><circle class="k18" cx="784.9" cy="335.7"/><circle class="k18" cx="339.0" cy="480.1"/><circle class="k32" cx="452.8" cy="456.6"/><circle class="k26" cx="598.3" cy="378.9"/><circle class="k13" cx="376.5" cy="634.6"/><circle class="k12" cx="849.4" cy="554.4"/><circle class="k12" cx="500.0" cy="510.2"/><circle class="k19" cx="800.9" cy="495.4"/><circle class="k18" cx="247.4" cy="481.6"/><circle class="k23" cx="829.0" cy="297.3"/><circle class="k18" cx="565.1" cy="533.3"/><circle class="k32" cx="462.2" cy="395.9"/><circle class="k16" cx="540.1" cy="418.5"/><circle class="k30" cx="486.8" cy="507.8"/><circle class="k26" cx="446.3" cy="462.3"/><circle class="k24" cx="416.7" cy="540.2"/><circle class="k28" cx="709.3" cy="302.6"/><circle class="k15" cx="257.1" cy="371.0"/><circle class="k19" cx="709.7" cy="358.7"/><circle class="k16" cx="581.6" cy="349.6"/><circle class="k19" cx="453.4" cy="351.1"/><circle class="k6" cx="812.9" cy="502.6"/><circle class="k26" cx="634.3" cy="508.1"/><circle class="k34" cx="324.3" cy="425.6"/><circle class="k18" cx="829.6" cy="328.7"/><circle class="k18" cx="886.4" cy="510.4"/><circle class="k29" cx="323.6" cy="461.2"/><circle class="k11" cx="575.2" cy="546.9"/><circle class="k12" cx="693.7" cy="420.8"/><circle class="k30" cx="442.8" cy="518.4"/><circle class="k18" cx="811.2" cy="494.8"/><circle class="k11" cx="816.8" cy="550.0"/><circle class="k16" cx="855.3" cy="487.2"/><circle class="k28" cx="410.4" cy="605.1"/><circle class="k18" cx="673.8" cy="406.0"/><circle class="k24" cx="631.3" cy="551.9"/><circle class="k22" cx="629.4" cy="355.7"/><circle class="k18" cx="754.4" cy="485.4"/><circle class="k29" cx="346.4" cy="371.8"/><circle class="k16" cx="674.8" cy="335.5"/><circle class="k24" cx="456.5" cy="359.3"/><circle class="k13" cx="490.1" cy="389.9"/><circle class="k7" cx="644.3" cy="433.5"/><circle class="k32" cx="647.1" cy="367.0"/><circle class="k7" cx="728.3" cy="487.8"/><circle class="k16" cx="603.2" cy="542.2"/><circle class="k14" cx="720.7" cy="463.6"/><circle class="k7" cx="674.4" cy="465.8"/><circle class="k17" cx="859.5" cy="425.7"/><circle class="k6" cx="815.1" cy="514.3"/><circle class="k6" cx="843.0" cy="487.8"/><circle class="k18" cx="619.6" cy="367.5"/><circle class="k17" cx="505.0" cy="414.9"/><circle class="k17" cx="607.6" cy="588.5"/><circle class="k16" cx="619.0" cy="450.2"/><circle class="k11" cx="822.7" cy="570.6"/><circle class="k17" cx="652.7" cy="450.3"/><circle class="k15" cx="767.5" cy="507.8"/><circle class="k17" cx="715.1" cy="484.3"/><circle class="k14" cx="681.6" cy="465.6"/><circle class="k17" cx="829.0" cy="504.5"/><circle class="k30" cx="588.5" cy="301.1"/><circle class="k18" cx="498.9" cy="499.7"/><circle class="k26" cx="367.3" cy="424.0"/><circle class="k14" cx="710.9" cy="443.1"/><circle class="k19" cx="685.1" cy="601.0"/><circle class="k17" cx="506.6" cy="509.9"/><circle class="k18" cx="461.6" cy="518.4"/><circle class="k31" cx="460.3" cy="400.3"/><circle class="k18" cx="798.7" cy="338.2"/><circle class="k18" cx="710.6" cy="492.2"/><circle class="k17" cx="781.0" cy="513.2"/><circle class="k30" cx="530.0" cy="332.2"/><circle class="k1" cx="763.4" cy="417.9"/><circle class="k13" cx="728.9" cy="509.6"/><circle class="k11" cx="715.4" cy="420.0"/><circle class="k13" cx="589.5" cy="404.2"/><circle class="k15" cx="706.6" cy="360.5"/><circle class="k30" cx="261.1" cy="507.7"/><circle class="k13" cx="545.7" cy="382.7"/><circle class="k31" cx="613.8" cy="581.1"/><circle class="k22" cx="522.3" cy="414.1"/><circle class="k22" cx="259.6" cy="554.8"/><circle class="k28" cx="383.8" cy="320.4"/><circle class="k12" cx="724.4" cy="483.7"/><circle class="k15" cx="869.9" cy="459.4"/><circle class="k7" cx="811.0" cy="613.5"/><circle class="k24" cx="631.7" cy="377.7"/><circle class="k15" cx="790.1" cy="494.1"/><circle class="k35" cx="424.5" cy="394.7"/><circle class="k32" cx="294.1" cy="423.3"/><circle class="k16" cx="758.5" cy="402.6"/><circle class="k26" cx="330.1" cy="492.9"/><circle class="k22" cx="373.2" cy="394.9"/><circle class="k27" cx="587.7" cy="381.2"/><circle class="k16" cx="597.5" cy="351.9"/><circle class="k26" cx="306.3" cy="467.4"/><circle class="k14" cx="677.1" cy="528.0"/><circle class="k16" cx="792.4" cy="570.9"/><circle class="k23" cx="351.1" cy="451.6"/><circle class="k13" cx="651.9" cy="486.7"/><circle class="k15" cx="784.9" cy="364.3"/><circle class="k13" cx="844.4" cy="450.1"/><circle class="k18" cx="397.1" cy="383.2"/><circle class="k34" cx="636.6" cy="360.2"/><circle class="k13" cx="781.5" cy="502.9"/><circle class="k34" cx="554.5" cy="420.4"/><circle class="k29" cx="502.2" cy="333.9"/><circle class="k35" cx="330.4" cy="446.8"/><circle class="k29" cx="413.6" cy="476.5"/><circle class="k7" cx="848.5" cy="434.9"/><circle class="k34" cx="462.0" cy="396.2"/><circle class="k28" cx="354.2" cy="379.4"/><circle class="k19" cx="362.7" cy="515.1"/><circle class="k20" cx="648.9" cy="395.9"/><circle class="k29" cx="398.5" cy="466.2"/><circle class="k13" cx="752.0" cy="531.9"/><circle class="k30" cx="566.8" cy="390.3"/><circle class="k18" cx="595.3" cy="362.0"/><circle class="k14" cx="810.8" cy="399.4"/><circle class="k27" cx="471.9" cy="415.9"/><circle class="k7" cx="800.8" cy="491.7"/><circle class="k33" cx="286.7" cy="494.5"/><circle class="k17" cx="527.3" cy="517.6"/><circle class="k18" cx="556.8" cy="549.1"/><circle class="k23" cx="537.7" cy="643.3"/><circle class="k15" cx="539.9" cy="350.9"/><circle class="k32" cx="387.9" cy="483.1"/><circle class="k25" cx="431.8" cy="479.2"/><circle class="k4" cx="673.7" cy="440.1"/><circle class="k26" cx="496.2" cy="518.3"/><circle class="k15" cx="808.8" cy="389.6"/><circle class="k25" cx="594.6" cy="348.7"/><circle class="k33" cx="522.7" cy="589.4"/><circle class="k17" cx="588.9" cy="330.7"/><circle class="k32" cx="456.6" cy="523.2"/><circle class="k24" cx="366.5" cy="392.2"/><circle class="k25" cx="568.7" cy="509.8"/><circle class="k19" cx="770.7" cy="366.4"/><circle class="k25" cx="744.4" cy="392.8"/><circle class="k33" cx="450.3" cy="373.1"/><circle class="k31" cx="358.1" cy="458.3"/><circle class="k16" cx="767.4" cy="501.0"/><circle class="k30" cx="518.5" cy="323.3"/><circle class="k34" cx="458.4" cy="416.1"/><circle class="k14" cx="651.2" cy="407.2"/><circle class="k19" cx="823.2" cy="425.5"/><circle class="k12" cx="625.1" cy="486.0"/><circle class="k15" cx="734.6" cy="503.2"/><circle class="k15" cx="316.5" cy="433.7"/><circle class="k18" cx="283.4" cy="539.6"/><circle class="k17" cx="758.5" cy="375.0"/><circle class="k19" cx="708.1" cy="552.8"/><circle class="k27" cx="375.8" cy="391.0"/><circle class="k23" cx="227.0" cy="526.3"/><circle class="k17" cx="284.9" cy="499.5"/><circle class="k23" cx="281.1" cy="400.4"/><circle class="k18" cx="284.4" cy="492.2"/><circle class="k26" cx="266.0" cy="358.4"/><circle class="k35" cx="552.1" cy="515.7"/><circle class="k13" cx="641.6" cy="377.0"/><circle class="k11" cx="818.8" cy="529.9"/><circle class="k26" cx="284.6" cy="473.5"/><circle class="k30" cx="279.4" cy="386.3"/><circle class="k25" cx="609.9" cy="490.0"/><circle class="k16" cx="450.9" cy="549.8"/><circle class="k17" cx="760.6" cy="364.9"/><circle class="k31" cx="272.1" cy="360.8"/><circle class="k18" cx="539.4" cy="405.5"/><circle class="k17" cx="702.9" cy="419.5"/><circle class="k11" cx="558.3" cy="340.2"/><circle class="k15" cx="508.5" cy="551.2"/><circle class="k13" cx="563.1" cy="328.8"/><circle class="k19" cx="693.1" cy="510.3"/><circle class="k17" cx="785.4" cy="434.6"/><circle class="k12" cx="646.7" cy="479.0"/><circle class="k28" cx="553.0" cy="625.9"/><circle class="k11" cx="717.8" cy="295.0"/><circle class="k11" cx="754.6" cy="613.9"/><circle class="k16" cx="640.2" cy="475.9"/><circle class="k15" cx="686.8" cy="348.7"/><circle class="k24" cx="467.2" cy="561.9"/><circle class="k23" cx="656.0" cy="596.8"/><circle class="k15" cx="640.3" cy="435.8"/><circle class="k21" cx="344.5" cy="446.6"/><circle class="k21" cx="526.5" cy="447.1"/><circle class="k19" cx="701.1" cy="364.9"/><circle class="k19" cx="455.7" cy="558.1"/><circle class="k26" cx="262.7" cy="559.7"/><circle class="k23" cx="493.0" cy="428.5"/><circle class="k30" cx="610.9" cy="332.1"/><circle class="k25" cx="452.9" cy="379.9"/><circle class="k30" cx="439.4" cy="617.9"/><circle class="k13" cx="263.6" cy="459.7"/><circle class="k33" cx="537.7" cy="419.3"/><circle class="k18" cx="643.0" cy="426.4"/><circle class="k32" cx="311.0" cy="466.5"/><circle class="k17" cx="682.4" cy="444.2"/><circle class="k31" cx="701.1" cy="278.4"/><circle class="k25" cx="309.2" cy="447.0"/><circle class="k19" cx="745.7" cy="432.4"/><circle class="k7" cx="832.0" cy="496.3"/><circle class="k15" cx="662.4" cy="486.1"/><circle class="k13" cx="672.7" cy="499.2"/><circle class="k21" cx="653.9" cy="329.8"/><circle class="k34" cx="521.3" cy="350.6"/><circle class="k16" cx="628.5" cy="445.7"/><circle class="k13" cx="762.7" cy="429.2"/><circle class="k18" cx="684.3" cy="408.5"/><circle class="k25" cx="558.6" cy="499.0"/><circle class="k11" cx="574.8" cy="363.9"/><circle class="k25" cx="611.5" cy="435.8"/><circle class="k31" cx="398.0" cy="349.2"/><circle class="k18" cx="753.3" cy="599.8"/><circle class="k30" cx="628.7" cy="466.9"/><circle class="k35" cx="326.7" cy="546.7"/><circle class="k14" cx="654.6" cy="421.5"/><circle class="k17" cx="443.8" cy="326.0"/><circle class="k32" cx="592.3" cy="486.2"/><circle class="k12" cx="300.8" cy="446.7"/><circle class="k23" cx="822.0" cy="390.1"/><circle class="k16" cx="733.0" cy="515.3"/><circle class="k15" cx="741.3" cy="317.1"/><circle class="k27" cx="446.1" cy="509.7"/><circle class="k25" cx="480.8" cy="410.7"/><circle class="k25" cx="369.1" cy="504.8"/><circle class="k16" cx="692.0" cy="388.0"/><circle class="k16" cx="788.6" cy="471.6"/><circle class="k19" cx="668.6" cy="391.9"/><circle class="k15" cx="579.6" cy="369.5"/><circle class="k22" cx="281.6" cy="519.2"/><circle class="k14" cx="707.1" cy="493.7"/><circle class="k25" cx="616.0" cy="298.4"/><circle class="k15" cx="687.7" cy="466.8"/><circle class="k25" cx="292.0" cy="523.5"/><circle class="k19" cx="657.0" cy="409.0"/><circle class="k31" cx="535.0" cy="315.9"/><circle class="k12" cx="606.8" cy="455.1"/><circle class="k18" cx="618.2" cy="469.6"/><circle class="k31" cx="627.9" cy="396.8"/><circle class="k15" cx="691.9" cy="363.3"/><circle class="k25" cx="274.1" cy="450.6"/><circle class="k12" cx="770.5" cy="403.9"/><circle class="k17" cx="700.4" cy="384.7"/><circle class="k19" cx="679.8" cy="540.0"/><circle class="k23" cx="576.6" cy="438.2"/><circle class="k18" cx="597.4" cy="363.7"/><circle class="k31" cx="334.2" cy="443.7"/><circle class="k34" cx="453.5" cy="582.9"/><circle class="k26" cx="309.8" cy="505.5"/><circle class="k23" cx="591.2" cy="343.0"/><circle class="k26" cx="412.2" cy="604.8"/><circle class="k12" cx="383.5" cy="507.1"/><circle class="k20" cx="668.5" cy="542.0"/><circle class="k19" cx="535.5" cy="505.2"/><circle class="k19" cx="850.9" cy="566.3"/><circle class="k28" cx="400.7" cy="508.7"/><circle class="k30" cx="449.3" cy="467.2"/><circle class="k31" cx="479.9" cy="459.2"/><circle class="k16" cx="657.8" cy="437.8"/><circle class="k8" cx="818.7" cy="616.3"/><circle class="k15" cx="484.0" cy="488.5"/><circle class="k24" cx="586.5" cy="415.9"/><circle class="k33" cx="597.6" cy="561.9"/><circle class="k13" cx="475.0" cy="619.1"/><circle class="k26" cx="376.0" cy="438.6"/><circle class="k25" cx="280.2" cy="416.8"/><circle class="k31" cx="509.0" cy="346.8"/><circle class="k21" cx="322.8" cy="453.6"/><circle class="k26" cx="514.8" cy="440.5"/><circle class="k30" cx="447.7" cy="388.6"/><circle class="k24" cx="572.2" cy="522.2"/><circle class="k16" cx="797.3" cy="532.3"/><circle class="k12" cx="504.9" cy="347.4"/><circle class="k22" cx="606.9" cy="405.7"/><circle class="k20" cx="838.8" cy="449.1"/><circle class="k15" cx="831.9" cy="430.4"/><circle class="k28" cx="346.2" cy="402.7"/><circle class="k31" cx="420.8" cy="449.2"/><circle class="k19" cx="604.4" cy="422.7"/><circle class="k18" cx="827.7" cy="406.7"/><circle class="k16" cx="485.3" cy="404.2"/><circle class="k15" cx="680.2" cy="458.6"/><circle class="k23" cx="519.1" cy="445.9"/><circle class="k13" cx="612.6" cy="556.4"/><circle class="k8" cx="729.0" cy="478.5"/><circle class="k16" cx="777.3" cy="533.5"/><circle class="k15" cx="714.7" cy="453.4"/><circle class="k22" cx="413.8" cy="317.8"/><circle class="k30" cx="333.3" cy="517.5"/><circle class="k12" cx="813.9" cy="445.5"/><circle class="k15" cx="646.9" cy="388.9"/><circle class="k13" cx="908.6" cy="513.4"/><circle class="k19" cx="698.8" cy="545.6"/><circle class="k16" cx="361.0" cy="484.3"/><circle class="k32" cx="361.9" cy="489.5"/><circle class="k19" cx="654.3" cy="455.0"/><circle class="k18" cx="812.1" cy="361.5"/><circle class="k27" cx="318.4" cy="473.5"/><circle class="k15" cx="569.3" cy="327.5"/><circle class="k16" cx="696.7" cy="393.8"/><circle class="k19" cx="761.1" cy="556.0"/><circle class="k33" cx="276.6" cy="355.8"/><circle class="k18" cx="465.1" cy="479.6"/><circle class="k11" cx="808.6" cy="510.5"/><circle class="k17" cx="339.1" cy="468.3"/><circle class="k31" cx="641.3" cy="261.7"/><circle class="k22" cx="278.6" cy="490.8"/><circle class="k12" cx="756.3" cy="501.5"/><circle class="k33" cx="374.6" cy="467.1"/><circle class="k24" cx="385.3" cy="366.9"/><circle class="k19" cx="685.3" cy="526.0"/><circle class="k15" cx="652.2" cy="494.4"/><circle class="k16" cx="424.0" cy="443.6"/><circle class="k13" cx="674.2" cy="425.9"/><circle class="k1" cx="807.0" cy="554.7"/><circle class="k17" cx="574.4" cy="463.0"/><circle class="k33" cx="400.5" cy="446.0"/><circle class="k23" cx="212.7" cy="594.5"/><circle class="k17" cx="571.2" cy="544.2"/><circle class="k11" cx="705.2" cy="452.6"/><circle class="k16" cx="256.4" cy="415.0"/><circle class="k32" cx="328.5" cy="506.1"/><circle class="k32" cx="360.5" cy="493.2"/><circle class="k19" cx="555.9" cy="482.9"/><circle class="k17" cx="817.2" cy="450.4"/><circle class="k18" cx="841.6" cy="494.9"/><circle class="k12" cx="272.1" cy="430.1"/><circle class="k17" cx="822.2" cy="440.9"/><circle class="k18" cx="699.6" cy="530.5"/><circle class="k24" cx="524.0" cy="391.5"/><circle class="k33" cx="463.7" cy="631.6"/><circle class="k23" cx="353.5" cy="551.1"/><circle class="k28" cx="287.3" cy="496.5"/><circle class="k27" cx="339.4" cy="477.1"/><circle class="k17" cx="628.9" cy="319.0"/><circle class="k22" cx="692.5" cy="297.4"/><circle class="k17" cx="857.0" cy="393.6"/><circle class="k15" cx="705.7" cy="384.0"/><circle class="k31" cx="386.0" cy="476.1"/><circle class="k33" cx="667.7" cy="322.9"/><circle class="k32" cx="374.5" cy="488.8"/><circle class="k17" cx="630.7" cy="429.4"/><circle class="k21" cx="575.5" cy="466.7"/><circle class="k29" cx="622.2" cy="580.6"/><circle class="k33" cx="456.8" cy="402.6"/><circle class="k7" cx="732.0" cy="407.8"/><circle class="k17" cx="650.2" cy="429.4"/><circle class="k31" cx="596.4" cy="575.2"/><circle class="k13" cx="573.5" cy="552.4"/><circle class="k34" cx="367.1" cy="366.2"/><circle class="k14" cx="713.5" cy="382.4"/><circle class="k1" cx="705.3" cy="510.8"/><circle class="k12" cx="410.1" cy="416.3"/><circle class="k22" cx="289.7" cy="447.4"/><circle class="k15" cx="676.1" cy="537.9"/><circle class="k12" cx="528.4" cy="510.1"/><circle class="k23" cx="602.7" cy="515.1"/><circle class="k16" cx="723.0" cy="374.3"/><circle class="k18" cx="718.4" cy="550.9"/><circle class="k25" cx="604.1" cy="450.0"/><circle class="k21" cx="484.1" cy="348.2"/><circle class="k19" cx="752.8" cy="535.7"/><circle class="k7" cx="693.2" cy="622.8"/><circle class="k12" cx="455.2" cy="536.8"/><circle class="k26" cx="567.1" cy="533.0"/><circle class="k19" cx="478.1" cy="508.5"/><circle class="k16" cx="516.2" cy="466.3"/><circle class="k19" cx="340.9" cy="482.8"/><circle class="k29" cx="595.7" cy="358.6"/><circle class="k30" cx="349.5" cy="528.1"/><circle class="k26" cx="477.8" cy="527.9"/><circle class="k32" cx="521.0" cy="565.0"/><circle class="k25" cx="365.7" cy="496.5"/><circle class="k8" cx="786.4" cy="476.0"/><circle class="k17" cx="734.2" cy="509.1"/><circle class="k14" cx="741.8" cy="380.0"/><circle class="k11" cx="649.9" cy="593.2"/><circle class="k14" cx="806.7" cy="442.7"/><circle class="k13" cx="689.7" cy="450.2"/><circle class="k16" cx="759.3" cy="389.0"/><circle class="k28" cx="548.8" cy="532.4"/><circle class="k35" cx="490.8" cy="469.9"/><circle class="k32" cx="383.0" cy="625.9"/><circle class="k7" cx="726.6" cy="542.0"/><circle class="k25" cx="450.8" cy="496.7"/><circle class="k12" cx="546.0" cy="569.2"/><circle class="k32" cx="454.8" cy="524.7"/><circle class="k33" cx="407.3" cy="423.7"/><circle class="k11" cx="784.0" cy="406.6"/><circle class="k17" cx="683.2" cy="428.3"/><circle class="k30" cx="680.4" cy="324.4"/><circle class="k17" cx="776.6" cy="547.9"/><circle class="k27" cx="259.1" cy="400.3"/><circle class="k12" cx="579.6" cy="529.1"/><circle class="k18" cx="734.5" cy="357.7"/><circle class="k22" cx="549.8" cy="453.9"/><circle class="k18" cx="664.7" cy="545.1"/><circle class="k16" cx="546.0" cy="562.2"/><circle class="k23" cx="501.3" cy="467.0"/><circle class="k17" cx="799.3" cy="383.4"/><circle class="k16" cx="582.3" cy="347.4"/><circle class="k15" cx="305.3" cy="505.6"/><circle class="k16" cx="706.9" cy="464.2"/><circle class="k23" cx="322.9" cy="428.2"/><circle class="k13" cx="823.8" cy="344.6"/><circle class="k26" cx="302.8" cy="411.9"/></g></defs>
<text transform="translate(526.54,25.50) scale(1.0732,1)" font-size="33.97" font-weight="bold" stroke="#000" stroke-width="0.9">Original</text>
<text transform="translate(509.22,964.60) scale(1.0655,1)" font-size="34.66" font-weight="bold" stroke="#000" stroke-width="0.9">Corrected</text>
<text transform="translate(-0.48,54.20) scale(1.0521,1)" font-size="34.07" font-weight="bold" stroke="#000" stroke-width="0.9">a</text>
<text transform="translate(-0.48,999.50) scale(1.0297,1)" font-size="34.81" font-weight="bold" stroke="#000" stroke-width="0.9">a</text>
<g><text transform="translate(479.42,77.90) scale(1.0180,1)" font-size="28.63" >Temperature (°C)</text>
<line x1="255.76" y1="127" x2="255.76" y2="135" stroke="#000" stroke-width="2"/>
<text x="255.76" y="119.6" text-anchor="middle" font-size="29.2">0</text>
<line x1="360.96" y1="127" x2="360.96" y2="135" stroke="#000" stroke-width="2"/>
<text x="360.96" y="119.6" text-anchor="middle" font-size="29.2">5</text>
<line x1="462.44" y1="127" x2="462.44" y2="135" stroke="#000" stroke-width="2"/>
<text x="462.44" y="119.6" text-anchor="middle" font-size="29.2">10</text>
<line x1="560.40" y1="127" x2="560.40" y2="135" stroke="#000" stroke-width="2"/>
<text x="560.40" y="119.6" text-anchor="middle" font-size="29.2">15</text>
<line x1="655.02" y1="127" x2="655.02" y2="135" stroke="#000" stroke-width="2"/>
<text x="655.02" y="119.6" text-anchor="middle" font-size="29.2">20</text>
<line x1="746.46" y1="127" x2="746.46" y2="135" stroke="#000" stroke-width="2"/>
<text x="746.46" y="119.6" text-anchor="middle" font-size="29.2">25</text>
<line x1="834.89" y1="127" x2="834.89" y2="135" stroke="#000" stroke-width="2"/>
<text x="834.89" y="119.6" text-anchor="middle" font-size="29.2">30</text>
<line x1="920.45" y1="127" x2="920.45" y2="135" stroke="#000" stroke-width="2"/>
<text x="920.45" y="119.6" text-anchor="middle" font-size="29.2">35</text>
<line x1="1003.28" y1="127" x2="1003.28" y2="135" stroke="#000" stroke-width="2"/>
<text x="1003.28" y="119.6" text-anchor="middle" font-size="29.2">40</text>
<line x1="154.5" y1="244.00" x2="163.5" y2="244.00" stroke="#000" stroke-width="2"/>
<text x="147.6" y="253.60" text-anchor="end" font-size="29.4">100.00</text>
<line x1="154.5" y1="331.75" x2="163.5" y2="331.75" stroke="#000" stroke-width="2"/>
<text x="147.6" y="341.35" text-anchor="end" font-size="29.4">10.00</text>
<line x1="154.5" y1="419.50" x2="163.5" y2="419.50" stroke="#000" stroke-width="2"/>
<text x="147.6" y="429.10" text-anchor="end" font-size="29.4">1.00</text>
<line x1="154.5" y1="507.25" x2="163.5" y2="507.25" stroke="#000" stroke-width="2"/>
<text x="147.6" y="516.85" text-anchor="end" font-size="29.4">0.10</text>
<line x1="154.5" y1="595.00" x2="163.5" y2="595.00" stroke="#000" stroke-width="2"/>
<text x="147.6" y="604.60" text-anchor="end" font-size="29.4">0.01</text>
<line x1="284.90" y1="709" x2="284.90" y2="717.5" stroke="#000" stroke-width="2"/>
<text x="283.60" y="743.3" text-anchor="middle" font-size="28.8">−2</text>
<line x1="422.65" y1="709" x2="422.65" y2="717.5" stroke="#000" stroke-width="2"/>
<text x="421.35" y="743.3" text-anchor="middle" font-size="28.8">−1</text>
<line x1="560.40" y1="709" x2="560.40" y2="717.5" stroke="#000" stroke-width="2"/>
<text x="560.40" y="743.3" text-anchor="middle" font-size="28.8">0</text>
<line x1="698.15" y1="709" x2="698.15" y2="717.5" stroke="#000" stroke-width="2"/>
<text x="698.15" y="743.3" text-anchor="middle" font-size="28.8">1</text>
<line x1="835.90" y1="709" x2="835.90" y2="717.5" stroke="#000" stroke-width="2"/>
<text x="835.90" y="743.3" text-anchor="middle" font-size="28.8">2</text>
<line x1="973.65" y1="709" x2="973.65" y2="717.5" stroke="#000" stroke-width="2"/>
<text x="973.65" y="743.3" text-anchor="middle" font-size="28.8">3</text>
<text transform="translate(42.4,421.6) rotate(-90)" text-anchor="middle" font-size="29.3">Diffusive CH<tspan font-size="20" dy="7">4</tspan><tspan dy="-7"> emissions (mmol m</tspan><tspan font-size="20" dy="-11.5">−2</tspan><tspan dy="11.5"> per day)</tspan></text>
<use href="#sc"/>
<g stroke-width="5.2" stroke-linecap="butt"><line x1="259" y1="363.5" x2="751.5" y2="322.1" stroke="#21a085"/><line x1="266.4" y1="413.1" x2="788.6" y2="340.3" stroke="#21a085"/><line x1="256.7" y1="393.2" x2="723.1" y2="370.7" stroke="#21a085"/><line x1="527" y1="368.8" x2="778.6" y2="378.5" stroke="#21a085"/><line x1="527" y1="368.8" x2="706.6" y2="379.5" stroke="#21a085"/><line x1="261.5" y1="397.5" x2="760" y2="434.9" stroke="#21a085"/><line x1="418" y1="397.5" x2="680.3" y2="404.7" stroke="#21a085"/><line x1="250" y1="442" x2="700" y2="434" stroke="#21a085"/><line x1="257.6" y1="451" x2="799" y2="421.3" stroke="#21a085"/><line x1="256.7" y1="476" x2="724.1" y2="417.4" stroke="#21a085"/><line x1="256.7" y1="481.8" x2="767.9" y2="427.1" stroke="#21a085"/><line x1="258.6" y1="485.7" x2="760" y2="434.9" stroke="#21a085"/><line x1="254.7" y1="498.4" x2="732.8" y2="451.4" stroke="#21a085"/><line x1="254.7" y1="504.2" x2="754.2" y2="464.1" stroke="#21a085"/><line x1="256.7" y1="507.1" x2="732.8" y2="455" stroke="#21a085"/><line x1="256.7" y1="513.9" x2="440" y2="499" stroke="#21a085"/><line x1="257.6" y1="536.3" x2="500" y2="467" stroke="#21a085"/><line x1="520" y1="440" x2="667.3" y2="507.9" stroke="#21a085"/><line x1="481" y1="428" x2="732.8" y2="396" stroke="#21a085"/><line x1="300" y1="470" x2="690" y2="445" stroke="#21a085"/><line x1="330" y1="490" x2="700" y2="458" stroke="#21a085"/><line x1="256" y1="470" x2="620" y2="445" stroke="#21a085"/><line x1="315" y1="485.5" x2="564.7" y2="365.4" stroke="#c3df34"/><line x1="279" y1="420.5" x2="527" y2="402.3" stroke="#c3df34"/><line x1="281" y1="434" x2="535" y2="412" stroke="#c3df34"/><line x1="282" y1="439" x2="534" y2="417" stroke="#c3df34"/><line x1="349" y1="525" x2="572.3" y2="420.8" stroke="#c3df34"/><line x1="395" y1="507.5" x2="598.2" y2="429.1" stroke="#c3df34"/><line x1="282" y1="431" x2="537" y2="468.6" stroke="#c3df34"/><line x1="279" y1="465.5" x2="496" y2="484" stroke="#c3df34"/><line x1="255.6" y1="492" x2="600.2" y2="526.6" stroke="#c3df34"/><line x1="259.5" y1="514.4" x2="452.4" y2="540.6" stroke="#c3df34"/><line x1="255.8" y1="446" x2="330" y2="440" stroke="#c3df34"/></g>
<line x1="212.9" y1="462.8" x2="962.6" y2="429.6" stroke="#000" stroke-width="2.9"/>
<line x1="163.5" y1="695.2" x2="1028" y2="166.56" stroke="#000" stroke-width="1.8" stroke-dasharray="12.5 12.62" stroke-dashoffset="5.32"/>
<text transform="translate(899.2,241.0) rotate(-31.45)" font-size="29"><tspan font-style="italic">m</tspan> = 0.96</text>
<path d="M163.5,709 V135 H1030 M162.5,709 H1030" fill="none" stroke="#000" stroke-width="2"/>
<text transform="translate(32.06,779.10) scale(1.0452,1)" font-size="29.18" >Latitude</text>
<rect x="0" y="789" width="172" height="25" fill="url(#vir)"/>
<line x1="48.6" y1="789" x2="48.6" y2="796" stroke="#fff" stroke-width="1.4"/>
<line x1="48.6" y1="807" x2="48.6" y2="814" stroke="#fff" stroke-width="1.4"/>
<line x1="97.3" y1="789" x2="97.3" y2="796" stroke="#fff" stroke-width="1.4"/>
<line x1="97.3" y1="807" x2="97.3" y2="814" stroke="#fff" stroke-width="1.4"/>
<line x1="145.1" y1="789" x2="145.1" y2="796" stroke="#fff" stroke-width="1.4"/>
<line x1="145.1" y1="807" x2="145.1" y2="814" stroke="#fff" stroke-width="1.4"/>
<text x="47.6" y="841.2" text-anchor="middle" font-size="29">20</text>
<text x="96.3" y="841.2" text-anchor="middle" font-size="29">40</text>
<text x="144.1" y="841.2" text-anchor="middle" font-size="29">60</text>
<text transform="translate(335.92,814.00) scale(1.0094,1)" font-size="29.32" >Standardized temperature</text>
<path d="M712,762 C697,786 697,827 712,851" fill="none" stroke="#000" stroke-width="2.3"/>
<path d="M838.5,762 C853.5,786 853.5,827 838.5,851" fill="none" stroke="#000" stroke-width="2.3"/>
<line x1="711" y1="805.3" x2="750" y2="805.3" stroke="#000" stroke-width="2"/>
<line x1="781.7" y1="805.3" x2="838.6" y2="805.3" stroke="#000" stroke-width="2"/>
<line x1="758.6" y1="806.2" x2="773.3" y2="806.2" stroke="#000" stroke-width="1.6"/>
<text transform="translate(721.50,791.00) scale(0.8437,1)" font-size="28.12" >1</text>
<text transform="translate(801.20,791.00) scale(0.8023,1)" font-size="28.12" >1</text>
<text transform="translate(711.23,841.90) scale(1.0237,1)" font-size="27.95" font-style="italic">kT</text>
<text transform="translate(782.43,841.90) scale(1.0237,1)" font-size="27.95" font-style="italic">kT</text>
<text transform="translate(813.90,851.60) scale(1.0022,1)" font-size="21.86" >C</text></g>
<g transform="translate(1,939.16) scale(1,1.004)"><text transform="translate(479.42,77.90) scale(1.0180,1)" font-size="28.63" >Temperature (°C)</text>
<line x1="255.76" y1="127" x2="255.76" y2="135" stroke="#000" stroke-width="2"/>
<text x="255.76" y="119.6" text-anchor="middle" font-size="29.2">0</text>
<line x1="360.96" y1="127" x2="360.96" y2="135" stroke="#000" stroke-width="2"/>
<text x="360.96" y="119.6" text-anchor="middle" font-size="29.2">5</text>
<line x1="462.44" y1="127" x2="462.44" y2="135" stroke="#000" stroke-width="2"/>
<text x="462.44" y="119.6" text-anchor="middle" font-size="29.2">10</text>
<line x1="560.40" y1="127" x2="560.40" y2="135" stroke="#000" stroke-width="2"/>
<text x="560.40" y="119.6" text-anchor="middle" font-size="29.2">15</text>
<line x1="655.02" y1="127" x2="655.02" y2="135" stroke="#000" stroke-width="2"/>
<text x="655.02" y="119.6" text-anchor="middle" font-size="29.2">20</text>
<line x1="746.46" y1="127" x2="746.46" y2="135" stroke="#000" stroke-width="2"/>
<text x="746.46" y="119.6" text-anchor="middle" font-size="29.2">25</text>
<line x1="834.89" y1="127" x2="834.89" y2="135" stroke="#000" stroke-width="2"/>
<text x="834.89" y="119.6" text-anchor="middle" font-size="29.2">30</text>
<line x1="920.45" y1="127" x2="920.45" y2="135" stroke="#000" stroke-width="2"/>
<text x="920.45" y="119.6" text-anchor="middle" font-size="29.2">35</text>
<line x1="1003.28" y1="127" x2="1003.28" y2="135" stroke="#000" stroke-width="2"/>
<text x="1003.28" y="119.6" text-anchor="middle" font-size="29.2">40</text>
<line x1="154.5" y1="244.00" x2="163.5" y2="244.00" stroke="#000" stroke-width="2"/>
<text x="147.6" y="253.60" text-anchor="end" font-size="29.4">100.00</text>
<line x1="154.5" y1="331.75" x2="163.5" y2="331.75" stroke="#000" stroke-width="2"/>
<text x="147.6" y="341.35" text-anchor="end" font-size="29.4">10.00</text>
<line x1="154.5" y1="419.50" x2="163.5" y2="419.50" stroke="#000" stroke-width="2"/>
<text x="147.6" y="429.10" text-anchor="end" font-size="29.4">1.00</text>
<line x1="154.5" y1="507.25" x2="163.5" y2="507.25" stroke="#000" stroke-width="2"/>
<text x="147.6" y="516.85" text-anchor="end" font-size="29.4">0.10</text>
<line x1="154.5" y1="595.00" x2="163.5" y2="595.00" stroke="#000" stroke-width="2"/>
<text x="147.6" y="604.60" text-anchor="end" font-size="29.4">0.01</text>
<line x1="284.90" y1="709" x2="284.90" y2="717.5" stroke="#000" stroke-width="2"/>
<text x="283.60" y="743.3" text-anchor="middle" font-size="28.8">−2</text>
<line x1="422.65" y1="709" x2="422.65" y2="717.5" stroke="#000" stroke-width="2"/>
<text x="421.35" y="743.3" text-anchor="middle" font-size="28.8">−1</text>
<line x1="560.40" y1="709" x2="560.40" y2="717.5" stroke="#000" stroke-width="2"/>
<text x="560.40" y="743.3" text-anchor="middle" font-size="28.8">0</text>
<line x1="698.15" y1="709" x2="698.15" y2="717.5" stroke="#000" stroke-width="2"/>
<text x="698.15" y="743.3" text-anchor="middle" font-size="28.8">1</text>
<line x1="835.90" y1="709" x2="835.90" y2="717.5" stroke="#000" stroke-width="2"/>
<text x="835.90" y="743.3" text-anchor="middle" font-size="28.8">2</text>
<line x1="973.65" y1="709" x2="973.65" y2="717.5" stroke="#000" stroke-width="2"/>
<text x="973.65" y="743.3" text-anchor="middle" font-size="28.8">3</text>
<text transform="translate(42.4,421.6) rotate(-90)" text-anchor="middle" font-size="29.3">Diffusive CH<tspan font-size="20" dy="7">4</tspan><tspan dy="-7"> emissions (mmol m</tspan><tspan font-size="20" dy="-11.5">−2</tspan><tspan dy="11.5"> per day)</tspan></text>
<use href="#sc"/>
<g stroke-width="5.2" stroke-linecap="butt"><line x1="259" y1="363.5" x2="751.5" y2="322.1" stroke="#21a085"/><line x1="266.4" y1="413.1" x2="788.6" y2="340.3" stroke="#21a085"/><line x1="256.7" y1="393.2" x2="723.1" y2="370.7" stroke="#21a085"/><line x1="527" y1="368.8" x2="778.6" y2="378.5" stroke="#21a085"/><line x1="527" y1="368.8" x2="706.6" y2="379.5" stroke="#21a085"/><line x1="261.5" y1="397.5" x2="760" y2="434.9" stroke="#21a085"/><line x1="418" y1="397.5" x2="680.3" y2="404.7" stroke="#21a085"/><line x1="250" y1="442" x2="700" y2="434" stroke="#21a085"/><line x1="257.6" y1="451" x2="799" y2="421.3" stroke="#21a085"/><line x1="256.7" y1="476" x2="724.1" y2="417.4" stroke="#21a085"/><line x1="256.7" y1="481.8" x2="767.9" y2="427.1" stroke="#21a085"/><line x1="258.6" y1="485.7" x2="760" y2="434.9" stroke="#21a085"/><line x1="254.7" y1="498.4" x2="732.8" y2="451.4" stroke="#21a085"/><line x1="254.7" y1="504.2" x2="754.2" y2="464.1" stroke="#21a085"/><line x1="256.7" y1="507.1" x2="732.8" y2="455" stroke="#21a085"/><line x1="256.7" y1="513.9" x2="440" y2="499" stroke="#21a085"/><line x1="257.6" y1="536.3" x2="500" y2="467" stroke="#21a085"/><line x1="520" y1="440" x2="667.3" y2="507.9" stroke="#21a085"/><line x1="481" y1="428" x2="732.8" y2="396" stroke="#21a085"/><line x1="300" y1="470" x2="690" y2="445" stroke="#21a085"/><line x1="330" y1="490" x2="700" y2="458" stroke="#21a085"/><line x1="256" y1="470" x2="620" y2="445" stroke="#21a085"/><line x1="315" y1="485.5" x2="564.7" y2="365.4" stroke="#c3df34"/><line x1="279" y1="420.5" x2="527" y2="402.3" stroke="#c3df34"/><line x1="281" y1="434" x2="535" y2="412" stroke="#c3df34"/><line x1="282" y1="439" x2="534" y2="417" stroke="#c3df34"/><line x1="349" y1="525" x2="572.3" y2="420.8" stroke="#c3df34"/><line x1="395" y1="507.5" x2="598.2" y2="429.1" stroke="#c3df34"/><line x1="282" y1="431" x2="537" y2="468.6" stroke="#c3df34"/><line x1="279" y1="465.5" x2="496" y2="484" stroke="#c3df34"/><line x1="255.6" y1="492" x2="600.2" y2="526.6" stroke="#c3df34"/><line x1="259.5" y1="514.4" x2="452.4" y2="540.6" stroke="#c3df34"/><line x1="255.8" y1="446" x2="330" y2="440" stroke="#c3df34"/></g>
<line x1="212.9" y1="462.8" x2="962.6" y2="429.6" stroke="#000" stroke-width="3.9"/>
<line x1="162.4" y1="559.3" x2="1028" y2="329.40" stroke="#000" stroke-width="3.4" stroke-dasharray="12.5 13.48" stroke-dashoffset="0"/>
<text transform="translate(891.4,352.1) rotate(-15)" font-size="29"><tspan font-style="italic">m</tspan> = 0.96</text>
<path d="M163.5,709 V135 H1030 M162.5,709 H1030" fill="none" stroke="#000" stroke-width="2"/></g>
<g transform="translate(0,938.2)"><text transform="translate(32.06,779.10) scale(1.0452,1)" font-size="29.18" >Latitude</text>
<rect x="0" y="789" width="172" height="25" fill="url(#vir)"/>
<line x1="48.6" y1="789" x2="48.6" y2="796" stroke="#fff" stroke-width="1.4"/>
<line x1="48.6" y1="807" x2="48.6" y2="814" stroke="#fff" stroke-width="1.4"/>
<line x1="97.3" y1="789" x2="97.3" y2="796" stroke="#fff" stroke-width="1.4"/>
<line x1="97.3" y1="807" x2="97.3" y2="814" stroke="#fff" stroke-width="1.4"/>
<line x1="145.1" y1="789" x2="145.1" y2="796" stroke="#fff" stroke-width="1.4"/>
<line x1="145.1" y1="807" x2="145.1" y2="814" stroke="#fff" stroke-width="1.4"/>
<text x="47.6" y="841.2" text-anchor="middle" font-size="29">20</text>
<text x="96.3" y="841.2" text-anchor="middle" font-size="29">40</text>
<text x="144.1" y="841.2" text-anchor="middle" font-size="29">60</text></g>
<g transform="translate(0,943.3)"><text transform="translate(335.92,814.00) scale(1.0094,1)" font-size="29.32" >Standardized temperature</text>
<path d="M712,762 C697,786 697,827 712,851" fill="none" stroke="#000" stroke-width="2.3"/>
<path d="M838.5,762 C853.5,786 853.5,827 838.5,851" fill="none" stroke="#000" stroke-width="2.3"/>
<line x1="711" y1="805.3" x2="750" y2="805.3" stroke="#000" stroke-width="2"/>
<line x1="781.7" y1="805.3" x2="838.6" y2="805.3" stroke="#000" stroke-width="2"/>
<line x1="758.6" y1="806.2" x2="773.3" y2="806.2" stroke="#000" stroke-width="1.6"/>
<text transform="translate(721.50,791.00) scale(0.8437,1)" font-size="28.12" >1</text>
<text transform="translate(801.20,791.00) scale(0.8023,1)" font-size="28.12" >1</text>
<text transform="translate(711.23,841.90) scale(1.0237,1)" font-size="27.95" font-style="italic">kT</text>
<text transform="translate(782.43,841.90) scale(1.0237,1)" font-size="27.95" font-style="italic">kT</text>
<text transform="translate(813.90,851.60) scale(1.0022,1)" font-size="21.86" >C</text></g>
</svg></body></html>
